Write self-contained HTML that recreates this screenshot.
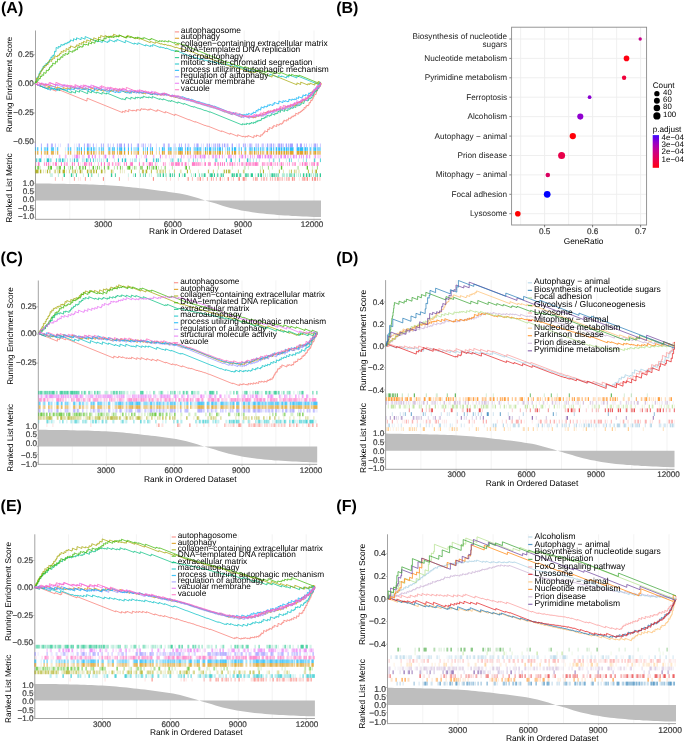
<!DOCTYPE html>
<html><head><meta charset="utf-8"><style>
html,body{margin:0;padding:0;background:#fff;}
.t{stroke:#444;stroke-width:0.22px;}
svg{display:block;will-change:transform;text-rendering:geometricPrecision;font-family:"Liberation Sans", sans-serif;}
</style></head><body>
<svg width="685" height="742" viewBox="0 0 685 742">
<rect width="685" height="742" fill="#fff"/>
<line x1="69.8" y1="30.5" x2="69.8" y2="219.3" stroke="#EBEBEB" stroke-width="0.6"/>
<line x1="104.7" y1="30.5" x2="104.7" y2="219.3" stroke="#EBEBEB" stroke-width="0.6"/>
<line x1="139.6" y1="30.5" x2="139.6" y2="219.3" stroke="#EBEBEB" stroke-width="0.6"/>
<line x1="174.4" y1="30.5" x2="174.4" y2="219.3" stroke="#EBEBEB" stroke-width="0.6"/>
<line x1="209.3" y1="30.5" x2="209.3" y2="219.3" stroke="#EBEBEB" stroke-width="0.6"/>
<line x1="244.2" y1="30.5" x2="244.2" y2="219.3" stroke="#EBEBEB" stroke-width="0.6"/>
<line x1="279.1" y1="30.5" x2="279.1" y2="219.3" stroke="#EBEBEB" stroke-width="0.6"/>
<line x1="314" y1="30.5" x2="314" y2="219.3" stroke="#EBEBEB" stroke-width="0.6"/>
<polygon points="34.9,200.6 34.9,183.4 38.5,183.5 42.1,183.5 45.8,183.6 49.4,183.6 53,183.7 56.6,183.7 60.2,183.8 63.9,183.8 67.5,183.9 71.1,184 74.7,184.1 78.4,184.1 82,184.2 85.6,184.3 89.2,184.5 92.8,184.6 96.5,184.7 100.1,184.9 103.7,185 107.3,185.2 110.9,185.4 114.6,185.7 118.2,186 121.8,186.3 125.4,186.7 129,187 132.7,187.4 136.3,187.8 139.9,188.2 143.5,188.6 147.2,189.1 150.8,189.5 154.4,189.9 158,190.4 161.6,190.9 165.3,191.3 168.9,191.9 172.5,192.4 176.1,192.9 179.7,193.5 183.4,194.2 187,195.1 190.6,196 194.2,197.1 197.8,198.1 201.5,199.3 205.1,200.4 208.7,201.5 212.3,202.5 216,203.6 219.6,204.7 223.2,205.9 226.8,207 230.4,208 234.1,208.8 237.7,209.6 241.3,210.4 244.9,211 248.5,211.6 252.2,212.2 255.8,212.7 259.4,213.2 263,213.6 266.6,214 270.3,214.3 273.9,214.6 277.5,214.9 281.1,215.2 284.8,215.4 288.4,215.6 292,215.9 295.6,216.1 299.2,216.2 302.9,216.4 306.5,216.6 310.1,216.7 313.7,216.9 317.3,217 321,217.1 321,200.6" fill="#BEBEBE"/>
<line x1="35.5" y1="30.5" x2="35.5" y2="219.8" stroke="#A3A3A3" stroke-width="1"/>
<line x1="35" y1="219.3" x2="321" y2="219.3" stroke="#A3A3A3" stroke-width="1"/>
<line x1="33.9" y1="54.7" x2="35.5" y2="54.7" stroke="#A3A3A3" stroke-width="0.7"/>
<text x="33.8" y="56.9" font-size="8.1" text-anchor="end" fill="#3A3A3A" class="t">0.25</text>
<line x1="33.9" y1="83.8" x2="35.5" y2="83.8" stroke="#A3A3A3" stroke-width="0.7"/>
<text x="33.8" y="86" font-size="8.1" text-anchor="end" fill="#3A3A3A" class="t">0.00</text>
<line x1="33.9" y1="113" x2="35.5" y2="113" stroke="#A3A3A3" stroke-width="0.7"/>
<text x="33.8" y="115.2" font-size="8.1" text-anchor="end" fill="#3A3A3A" class="t">−0.25</text>
<line x1="33.9" y1="142.1" x2="35.5" y2="142.1" stroke="#A3A3A3" stroke-width="0.7"/>
<text x="33.8" y="144.3" font-size="8.1" text-anchor="end" fill="#3A3A3A" class="t">−0.50</text>
<line x1="33.9" y1="183.3" x2="35.5" y2="183.3" stroke="#A3A3A3" stroke-width="0.7"/>
<text x="34.1" y="186" font-size="8.1" text-anchor="end" fill="#3A3A3A" class="t">1.0</text>
<line x1="33.9" y1="191.8" x2="35.5" y2="191.8" stroke="#A3A3A3" stroke-width="0.7"/>
<text x="34.1" y="194.1" font-size="8.1" text-anchor="end" fill="#3A3A3A" class="t">0.5</text>
<line x1="33.9" y1="200.3" x2="35.5" y2="200.3" stroke="#A3A3A3" stroke-width="0.7"/>
<text x="34.1" y="202.3" font-size="8.1" text-anchor="end" fill="#3A3A3A" class="t">0.0</text>
<line x1="33.9" y1="208.8" x2="35.5" y2="208.8" stroke="#A3A3A3" stroke-width="0.7"/>
<text x="34.1" y="210.8" font-size="8.1" text-anchor="end" fill="#3A3A3A" class="t">−0.5</text>
<line x1="33.9" y1="217.3" x2="35.5" y2="217.3" stroke="#A3A3A3" stroke-width="0.7"/>
<text x="34.1" y="219.4" font-size="8.1" text-anchor="end" fill="#3A3A3A" class="t">−1.0</text>
<line x1="104.7" y1="219.3" x2="104.7" y2="220.9" stroke="#A3A3A3" stroke-width="0.7"/>
<text x="103.3" y="227.2" font-size="8.1" text-anchor="middle" fill="#3A3A3A" class="t">3000</text>
<line x1="174.4" y1="219.3" x2="174.4" y2="220.9" stroke="#A3A3A3" stroke-width="0.7"/>
<text x="172.7" y="227.2" font-size="8.1" text-anchor="middle" fill="#3A3A3A" class="t">6000</text>
<line x1="244.2" y1="219.3" x2="244.2" y2="220.9" stroke="#A3A3A3" stroke-width="0.7"/>
<text x="243" y="227.2" font-size="8.1" text-anchor="middle" fill="#3A3A3A" class="t">9000</text>
<line x1="314" y1="219.3" x2="314" y2="220.9" stroke="#A3A3A3" stroke-width="0.7"/>
<text x="311.9" y="227.2" font-size="8.1" text-anchor="middle" fill="#3A3A3A" class="t">12000</text>
<text x="195.4" y="234.1" font-size="8.4" text-anchor="middle">Rank in Ordered Dataset</text>
<text x="12" y="84.5" font-size="8.0" text-anchor="middle" transform="rotate(-90 12 84.5)">Running Enrichment Score</text>
<text x="12" y="188" font-size="8.42" text-anchor="middle" transform="rotate(-90 12 188)">Ranked List Metric</text>
<text x="1" y="12.6" font-size="16" font-weight="bold">(A)</text>
<path d="M48.4 147.2v3.7M58.4 147.2v3.7M65.4 147.2v3.7M67.4 147.2v3.7M71.4 147.2v3.7M74.4 147.2v3.7M76.4 147.2v3.7M95.4 147.2v3.7M98.4 147.2v3.7M122.4 147.2v3.7M125.4 147.2v3.7M133.4 147.2v3.7M151.4 147.2v3.7M173.4 147.2v3.7M174.4 147.2v3.7M193.4 147.2v3.7M206.4 147.2v3.7M212.4 147.2v3.7M231.4 147.2v3.7M236.4 147.2v3.7M246.4 147.2v3.7M257.4 147.2v3.7M261.4 147.2v3.7M264.4 147.2v3.7M268.4 147.2v3.7M274.4 147.2v3.7M275.4 147.2v3.7M277.4 147.2v3.7M285.4 147.2v3.7M289.4 147.2v3.7M303.4 147.2v3.7M316.4 147.2v3.7" stroke="#00B0F6" stroke-opacity="0.2" stroke-width="1"/>
<path d="M38.4 147.2v3.7M46.4 147.2v3.7M55.4 147.2v3.7M78.4 147.2v3.7M89.4 147.2v3.7M90.4 147.2v3.7M96.4 147.2v3.7M102.4 147.2v3.7M110.4 147.2v3.7M134.4 147.2v3.7M135.4 147.2v3.7M136.4 147.2v3.7M156.4 147.2v3.7M175.4 147.2v3.7M176.4 147.2v3.7M189.4 147.2v3.7M201.4 147.2v3.7M203.4 147.2v3.7M211.4 147.2v3.7M214.4 147.2v3.7M218.4 147.2v3.7M225.4 147.2v3.7M228.4 147.2v3.7M238.4 147.2v3.7M244.4 147.2v3.7M255.4 147.2v3.7M269.4 147.2v3.7M280.4 147.2v3.7M282.4 147.2v3.7M296.4 147.2v3.7M309.4 147.2v3.7M311.4 147.2v3.7" stroke="#00B0F6" stroke-opacity="0.3" stroke-width="1"/>
<path d="M35.4 147.2v3.7M44.4 147.2v3.7M45.4 147.2v3.7M94.4 147.2v3.7M99.4 147.2v3.7M108.4 147.2v3.7M113.4 147.2v3.7M137.4 147.2v3.7M145.4 147.2v3.7M159.4 147.2v3.7M163.4 147.2v3.7M169.4 147.2v3.7M171.4 147.2v3.7M188.4 147.2v3.7M194.4 147.2v3.7M195.4 147.2v3.7M196.4 147.2v3.7M198.4 147.2v3.7M199.4 147.2v3.7M213.4 147.2v3.7M239.4 147.2v3.7M249.4 147.2v3.7M251.4 147.2v3.7M252.4 147.2v3.7M256.4 147.2v3.7M262.4 147.2v3.7M263.4 147.2v3.7M266.4 147.2v3.7M270.4 147.2v3.7M283.4 147.2v3.7M287.4 147.2v3.7M293.4 147.2v3.7M299.4 147.2v3.7M304.4 147.2v3.7M306.4 147.2v3.7M313.4 147.2v3.7M317.4 147.2v3.7M318.4 147.2v3.7M319.4 147.2v3.7M320.4 147.2v3.7" stroke="#00B0F6" stroke-opacity="0.5" stroke-width="1"/>
<path d="M37.4 147.2v3.7M41.4 147.2v3.7M51.4 147.2v3.7M52.4 147.2v3.7M53.4 147.2v3.7M57.4 147.2v3.7M68.4 147.2v3.7M70.4 147.2v3.7M77.4 147.2v3.7M79.4 147.2v3.7M84.4 147.2v3.7M88.4 147.2v3.7M93.4 147.2v3.7M101.4 147.2v3.7M103.4 147.2v3.7M109.4 147.2v3.7M112.4 147.2v3.7M114.4 147.2v3.7M117.4 147.2v3.7M119.4 147.2v3.7M120.4 147.2v3.7M131.4 147.2v3.7M143.4 147.2v3.7M150.4 147.2v3.7M164.4 147.2v3.7M168.4 147.2v3.7M170.4 147.2v3.7M178.4 147.2v3.7M179.4 147.2v3.7M181.4 147.2v3.7M182.4 147.2v3.7M185.4 147.2v3.7M190.4 147.2v3.7M200.4 147.2v3.7M207.4 147.2v3.7M215.4 147.2v3.7M217.4 147.2v3.7M222.4 147.2v3.7M227.4 147.2v3.7M229.4 147.2v3.7M241.4 147.2v3.7M245.4 147.2v3.7M250.4 147.2v3.7M258.4 147.2v3.7M260.4 147.2v3.7M273.4 147.2v3.7M278.4 147.2v3.7M288.4 147.2v3.7M307.4 147.2v3.7M310.4 147.2v3.7M314.4 147.2v3.7" stroke="#00B0F6" stroke-opacity="0.7" stroke-width="1"/>
<path d="M47.4 147.2v3.7M81.4 147.2v3.7M87.4 147.2v3.7M91.4 147.2v3.7M121.4 147.2v3.7M124.4 147.2v3.7M128.4 147.2v3.7M138.4 147.2v3.7M147.4 147.2v3.7M152.4 147.2v3.7M162.4 147.2v3.7M180.4 147.2v3.7M187.4 147.2v3.7M197.4 147.2v3.7M205.4 147.2v3.7M209.4 147.2v3.7M210.4 147.2v3.7M219.4 147.2v3.7M220.4 147.2v3.7M232.4 147.2v3.7M234.4 147.2v3.7M235.4 147.2v3.7M254.4 147.2v3.7M267.4 147.2v3.7M271.4 147.2v3.7M276.4 147.2v3.7M279.4 147.2v3.7M281.4 147.2v3.7M284.4 147.2v3.7M286.4 147.2v3.7M290.4 147.2v3.7M291.4 147.2v3.7M292.4 147.2v3.7M297.4 147.2v3.7M298.4 147.2v3.7M300.4 147.2v3.7M301.4 147.2v3.7M302.4 147.2v3.7M305.4 147.2v3.7M315.4 147.2v3.7" stroke="#00B0F6" stroke-opacity="0.9" stroke-width="1"/>
<path d="M46.4 154.7v3.7M48.4 154.7v3.7M49.4 154.7v3.7M52.4 154.7v3.7M60.4 154.7v3.7M72.4 154.7v3.7M84.4 154.7v3.7M103.4 154.7v3.7M112.4 154.7v3.7M114.4 154.7v3.7M120.4 154.7v3.7M123.4 154.7v3.7M125.4 154.7v3.7M141.4 154.7v3.7M154.4 154.7v3.7M162.4 154.7v3.7M171.4 154.7v3.7M175.4 154.7v3.7M184.4 154.7v3.7M187.4 154.7v3.7M188.4 154.7v3.7M191.4 154.7v3.7M196.4 154.7v3.7M197.4 154.7v3.7M198.4 154.7v3.7M199.4 154.7v3.7M209.4 154.7v3.7M224.4 154.7v3.7M240.4 154.7v3.7M243.4 154.7v3.7M248.4 154.7v3.7M266.4 154.7v3.7M272.4 154.7v3.7M291.4 154.7v3.7M295.4 154.7v3.7M310.4 154.7v3.7M317.4 154.7v3.7M319.4 154.7v3.7" stroke="#E76BF3" stroke-opacity="0.2" stroke-width="1"/>
<path d="M66.4 154.7v3.7M75.4 154.7v3.7M78.4 154.7v3.7M82.4 154.7v3.7M83.4 154.7v3.7M94.4 154.7v3.7M104.4 154.7v3.7M106.4 154.7v3.7M109.4 154.7v3.7M118.4 154.7v3.7M144.4 154.7v3.7M145.4 154.7v3.7M165.4 154.7v3.7M166.4 154.7v3.7M169.4 154.7v3.7M173.4 154.7v3.7M183.4 154.7v3.7M201.4 154.7v3.7M208.4 154.7v3.7M217.4 154.7v3.7M233.4 154.7v3.7M247.4 154.7v3.7M264.4 154.7v3.7M269.4 154.7v3.7M274.4 154.7v3.7M275.4 154.7v3.7M276.4 154.7v3.7M283.4 154.7v3.7M314.4 154.7v3.7M318.4 154.7v3.7M320.4 154.7v3.7" stroke="#E76BF3" stroke-opacity="0.3" stroke-width="1"/>
<path d="M41.4 154.7v3.7M59.4 154.7v3.7M65.4 154.7v3.7M74.4 154.7v3.7M79.4 154.7v3.7M99.4 154.7v3.7M153.4 154.7v3.7M190.4 154.7v3.7M193.4 154.7v3.7M202.4 154.7v3.7M203.4 154.7v3.7M205.4 154.7v3.7M212.4 154.7v3.7M216.4 154.7v3.7M230.4 154.7v3.7M231.4 154.7v3.7M235.4 154.7v3.7M239.4 154.7v3.7M241.4 154.7v3.7M252.4 154.7v3.7M254.4 154.7v3.7M267.4 154.7v3.7M278.4 154.7v3.7M280.4 154.7v3.7M287.4 154.7v3.7M288.4 154.7v3.7M290.4 154.7v3.7M294.4 154.7v3.7M307.4 154.7v3.7" stroke="#E76BF3" stroke-opacity="0.5" stroke-width="1"/>
<path d="M89.4 154.7v3.7M95.4 154.7v3.7M113.4 154.7v3.7M146.4 154.7v3.7M181.4 154.7v3.7M213.4 154.7v3.7M215.4 154.7v3.7M222.4 154.7v3.7M228.4 154.7v3.7M229.4 154.7v3.7M250.4 154.7v3.7M257.4 154.7v3.7M258.4 154.7v3.7M262.4 154.7v3.7M271.4 154.7v3.7M284.4 154.7v3.7M296.4 154.7v3.7M299.4 154.7v3.7M301.4 154.7v3.7M303.4 154.7v3.7M306.4 154.7v3.7M309.4 154.7v3.7M315.4 154.7v3.7" stroke="#E76BF3" stroke-opacity="0.7" stroke-width="1"/>
<path d="M76.4 154.7v3.7M77.4 154.7v3.7M88.4 154.7v3.7M92.4 154.7v3.7M105.4 154.7v3.7M136.4 154.7v3.7M160.4 154.7v3.7M195.4 154.7v3.7M200.4 154.7v3.7M204.4 154.7v3.7M219.4 154.7v3.7M242.4 154.7v3.7M245.4 154.7v3.7M259.4 154.7v3.7M260.4 154.7v3.7M265.4 154.7v3.7M268.4 154.7v3.7M270.4 154.7v3.7M281.4 154.7v3.7M285.4 154.7v3.7M293.4 154.7v3.7" stroke="#E76BF3" stroke-opacity="0.9" stroke-width="1"/>
<path d="M37.4 158.4v3.7M38.4 158.4v3.7M44.4 158.4v3.7M46.4 158.4v3.7M49.4 158.4v3.7M65.4 158.4v3.7M78.4 158.4v3.7M83.4 158.4v3.7M84.4 158.4v3.7M103.4 158.4v3.7M114.4 158.4v3.7M126.4 158.4v3.7M130.4 158.4v3.7M139.4 158.4v3.7M147.4 158.4v3.7M154.4 158.4v3.7M160.4 158.4v3.7M170.4 158.4v3.7M171.4 158.4v3.7M177.4 158.4v3.7M188.4 158.4v3.7M189.4 158.4v3.7M195.4 158.4v3.7M201.4 158.4v3.7M204.4 158.4v3.7M217.4 158.4v3.7M235.4 158.4v3.7M249.4 158.4v3.7M259.4 158.4v3.7M274.4 158.4v3.7M286.4 158.4v3.7M298.4 158.4v3.7M315.4 158.4v3.7" stroke="#00BFC4" stroke-opacity="0.2" stroke-width="1"/>
<path d="M41.4 158.4v3.7M51.4 158.4v3.7M58.4 158.4v3.7M64.4 158.4v3.7M67.4 158.4v3.7M70.4 158.4v3.7M72.4 158.4v3.7M82.4 158.4v3.7M88.4 158.4v3.7M95.4 158.4v3.7M97.4 158.4v3.7M99.4 158.4v3.7M101.4 158.4v3.7M106.4 158.4v3.7M124.4 158.4v3.7M132.4 158.4v3.7M134.4 158.4v3.7M135.4 158.4v3.7M136.4 158.4v3.7M157.4 158.4v3.7M173.4 158.4v3.7M181.4 158.4v3.7M197.4 158.4v3.7M248.4 158.4v3.7M250.4 158.4v3.7M253.4 158.4v3.7M256.4 158.4v3.7M269.4 158.4v3.7M303.4 158.4v3.7" stroke="#00BFC4" stroke-opacity="0.3" stroke-width="1"/>
<path d="M50.4 158.4v3.7M59.4 158.4v3.7M63.4 158.4v3.7M76.4 158.4v3.7M87.4 158.4v3.7M172.4 158.4v3.7M180.4 158.4v3.7M193.4 158.4v3.7M215.4 158.4v3.7M216.4 158.4v3.7M230.4 158.4v3.7M273.4 158.4v3.7M279.4 158.4v3.7M291.4 158.4v3.7M306.4 158.4v3.7" stroke="#00BFC4" stroke-opacity="0.5" stroke-width="1"/>
<path d="M36.4 158.4v3.7M39.4 158.4v3.7M56.4 158.4v3.7M60.4 158.4v3.7M77.4 158.4v3.7M90.4 158.4v3.7M93.4 158.4v3.7M153.4 158.4v3.7M158.4 158.4v3.7M178.4 158.4v3.7M226.4 158.4v3.7M239.4 158.4v3.7M289.4 158.4v3.7M314.4 158.4v3.7M320.4 158.4v3.7" stroke="#00BFC4" stroke-opacity="0.7" stroke-width="1"/>
<path d="M40.4 158.4v3.7M47.4 158.4v3.7M48.4 158.4v3.7M62.4 158.4v3.7M74.4 158.4v3.7M86.4 158.4v3.7M107.4 158.4v3.7M118.4 158.4v3.7M122.4 158.4v3.7M125.4 158.4v3.7M146.4 158.4v3.7M156.4 158.4v3.7M231.4 158.4v3.7M247.4 158.4v3.7" stroke="#00BFC4" stroke-opacity="0.9" stroke-width="1"/>
<path d="M35.4 162.2v3.7M36.4 162.2v3.7M49.4 162.2v3.7M50.4 162.2v3.7M52.4 162.2v3.7M58.4 162.2v3.7M65.4 162.2v3.7M80.4 162.2v3.7M82.4 162.2v3.7M87.4 162.2v3.7M88.4 162.2v3.7M90.4 162.2v3.7M94.4 162.2v3.7M120.4 162.2v3.7M142.4 162.2v3.7M144.4 162.2v3.7M146.4 162.2v3.7M147.4 162.2v3.7M148.4 162.2v3.7M156.4 162.2v3.7M157.4 162.2v3.7M164.4 162.2v3.7M169.4 162.2v3.7M184.4 162.2v3.7M201.4 162.2v3.7M202.4 162.2v3.7M233.4 162.2v3.7M235.4 162.2v3.7M244.4 162.2v3.7M265.4 162.2v3.7M266.4 162.2v3.7M272.4 162.2v3.7M274.4 162.2v3.7M285.4 162.2v3.7M299.4 162.2v3.7M303.4 162.2v3.7" stroke="#FF62BC" stroke-opacity="0.2" stroke-width="1"/>
<path d="M107.4 162.2v3.7M113.4 162.2v3.7M116.4 162.2v3.7M117.4 162.2v3.7M119.4 162.2v3.7M188.4 162.2v3.7M231.4 162.2v3.7M243.4 162.2v3.7M245.4 162.2v3.7M251.4 162.2v3.7M258.4 162.2v3.7M268.4 162.2v3.7M269.4 162.2v3.7M273.4 162.2v3.7M279.4 162.2v3.7M280.4 162.2v3.7M282.4 162.2v3.7M293.4 162.2v3.7M300.4 162.2v3.7M309.4 162.2v3.7M316.4 162.2v3.7" stroke="#FF62BC" stroke-opacity="0.3" stroke-width="1"/>
<path d="M39.4 162.2v3.7M53.4 162.2v3.7M66.4 162.2v3.7M67.4 162.2v3.7M98.4 162.2v3.7M108.4 162.2v3.7M115.4 162.2v3.7M151.4 162.2v3.7M155.4 162.2v3.7M165.4 162.2v3.7M181.4 162.2v3.7M186.4 162.2v3.7M195.4 162.2v3.7M197.4 162.2v3.7M199.4 162.2v3.7M200.4 162.2v3.7M204.4 162.2v3.7M214.4 162.2v3.7M217.4 162.2v3.7M227.4 162.2v3.7M229.4 162.2v3.7M234.4 162.2v3.7M237.4 162.2v3.7M239.4 162.2v3.7M241.4 162.2v3.7M247.4 162.2v3.7M248.4 162.2v3.7M252.4 162.2v3.7M254.4 162.2v3.7M263.4 162.2v3.7M264.4 162.2v3.7M267.4 162.2v3.7M275.4 162.2v3.7M283.4 162.2v3.7M287.4 162.2v3.7M292.4 162.2v3.7M294.4 162.2v3.7M304.4 162.2v3.7M307.4 162.2v3.7M311.4 162.2v3.7M312.4 162.2v3.7M313.4 162.2v3.7M318.4 162.2v3.7" stroke="#FF62BC" stroke-opacity="0.5" stroke-width="1"/>
<path d="M44.4 162.2v3.7M64.4 162.2v3.7M74.4 162.2v3.7M85.4 162.2v3.7M86.4 162.2v3.7M89.4 162.2v3.7M109.4 162.2v3.7M112.4 162.2v3.7M118.4 162.2v3.7M124.4 162.2v3.7M130.4 162.2v3.7M143.4 162.2v3.7M152.4 162.2v3.7M163.4 162.2v3.7M171.4 162.2v3.7M172.4 162.2v3.7M173.4 162.2v3.7M175.4 162.2v3.7M177.4 162.2v3.7M179.4 162.2v3.7M182.4 162.2v3.7M196.4 162.2v3.7M198.4 162.2v3.7M208.4 162.2v3.7M209.4 162.2v3.7M210.4 162.2v3.7M218.4 162.2v3.7M230.4 162.2v3.7M242.4 162.2v3.7M249.4 162.2v3.7M250.4 162.2v3.7M253.4 162.2v3.7M257.4 162.2v3.7M262.4 162.2v3.7M270.4 162.2v3.7M277.4 162.2v3.7M289.4 162.2v3.7M295.4 162.2v3.7M306.4 162.2v3.7" stroke="#FF62BC" stroke-opacity="0.7" stroke-width="1"/>
<path d="M38.4 162.2v3.7M46.4 162.2v3.7M48.4 162.2v3.7M55.4 162.2v3.7M56.4 162.2v3.7M61.4 162.2v3.7M72.4 162.2v3.7M78.4 162.2v3.7M84.4 162.2v3.7M91.4 162.2v3.7M101.4 162.2v3.7M104.4 162.2v3.7M126.4 162.2v3.7M131.4 162.2v3.7M132.4 162.2v3.7M139.4 162.2v3.7M149.4 162.2v3.7M150.4 162.2v3.7M176.4 162.2v3.7M178.4 162.2v3.7M185.4 162.2v3.7M192.4 162.2v3.7M193.4 162.2v3.7M194.4 162.2v3.7M205.4 162.2v3.7M215.4 162.2v3.7M220.4 162.2v3.7M222.4 162.2v3.7M224.4 162.2v3.7M232.4 162.2v3.7M246.4 162.2v3.7M255.4 162.2v3.7M256.4 162.2v3.7M271.4 162.2v3.7M281.4 162.2v3.7M302.4 162.2v3.7M305.4 162.2v3.7M314.4 162.2v3.7M317.4 162.2v3.7" stroke="#FF62BC" stroke-opacity="0.9" stroke-width="1"/>
<path d="M39.4 165.9v3.7M40.4 165.9v3.7M49.4 165.9v3.7M56.4 165.9v3.7M58.4 165.9v3.7M68.4 165.9v3.7M76.4 165.9v3.7M89.4 165.9v3.7M101.4 165.9v3.7M109.4 165.9v3.7M132.4 165.9v3.7M135.4 165.9v3.7M136.4 165.9v3.7M154.4 165.9v3.7M161.4 165.9v3.7M164.4 165.9v3.7M232.4 165.9v3.7M244.4 165.9v3.7M245.4 165.9v3.7M248.4 165.9v3.7M260.4 165.9v3.7M272.4 165.9v3.7M282.4 165.9v3.7M297.4 165.9v3.7M306.4 165.9v3.7M312.4 165.9v3.7" stroke="#39B600" stroke-opacity="0.2" stroke-width="1"/>
<path d="M57.4 165.9v3.7M92.4 165.9v3.7M95.4 165.9v3.7M107.4 165.9v3.7M114.4 165.9v3.7M122.4 165.9v3.7M130.4 165.9v3.7M151.4 165.9v3.7M152.4 165.9v3.7M155.4 165.9v3.7M158.4 165.9v3.7M172.4 165.9v3.7M218.4 165.9v3.7M262.4 165.9v3.7M298.4 165.9v3.7" stroke="#39B600" stroke-opacity="0.3" stroke-width="1"/>
<path d="M35.4 165.9v3.7M37.4 165.9v3.7M70.4 165.9v3.7M80.4 165.9v3.7M82.4 165.9v3.7M83.4 165.9v3.7M99.4 165.9v3.7M117.4 165.9v3.7M127.4 165.9v3.7M134.4 165.9v3.7M140.4 165.9v3.7M141.4 165.9v3.7M142.4 165.9v3.7M149.4 165.9v3.7M165.4 165.9v3.7M185.4 165.9v3.7M189.4 165.9v3.7M268.4 165.9v3.7M317.4 165.9v3.7" stroke="#39B600" stroke-opacity="0.5" stroke-width="1"/>
<path d="M38.4 165.9v3.7M48.4 165.9v3.7M50.4 165.9v3.7M59.4 165.9v3.7M60.4 165.9v3.7M72.4 165.9v3.7M79.4 165.9v3.7M97.4 165.9v3.7M104.4 165.9v3.7M108.4 165.9v3.7M120.4 165.9v3.7M128.4 165.9v3.7M153.4 165.9v3.7" stroke="#39B600" stroke-opacity="0.7" stroke-width="1"/>
<path d="M51.4 165.9v3.7M64.4 165.9v3.7M85.4 165.9v3.7M93.4 165.9v3.7M129.4 165.9v3.7M147.4 165.9v3.7M156.4 165.9v3.7M186.4 165.9v3.7M281.4 165.9v3.7M307.4 165.9v3.7" stroke="#39B600" stroke-opacity="0.9" stroke-width="1"/>
<path d="M45.4 169.6v3.7M58.4 169.6v3.7M66.4 169.6v3.7M79.4 169.6v3.7M89.4 169.6v3.7M105.4 169.6v3.7M113.4 169.6v3.7M122.4 169.6v3.7M124.4 169.6v3.7M139.4 169.6v3.7M147.4 169.6v3.7M156.4 169.6v3.7M161.4 169.6v3.7M169.4 169.6v3.7M181.4 169.6v3.7M198.4 169.6v3.7M217.4 169.6v3.7M223.4 169.6v3.7M269.4 169.6v3.7M295.4 169.6v3.7M298.4 169.6v3.7M299.4 169.6v3.7" stroke="#A3A500" stroke-opacity="0.2" stroke-width="1"/>
<path d="M41.4 169.6v3.7M43.4 169.6v3.7M50.4 169.6v3.7M54.4 169.6v3.7M57.4 169.6v3.7M60.4 169.6v3.7M62.4 169.6v3.7M73.4 169.6v3.7M74.4 169.6v3.7M77.4 169.6v3.7M81.4 169.6v3.7M82.4 169.6v3.7M88.4 169.6v3.7M104.4 169.6v3.7M112.4 169.6v3.7M120.4 169.6v3.7M145.4 169.6v3.7M159.4 169.6v3.7M162.4 169.6v3.7M180.4 169.6v3.7M190.4 169.6v3.7M230.4 169.6v3.7M244.4 169.6v3.7M283.4 169.6v3.7M289.4 169.6v3.7M296.4 169.6v3.7" stroke="#A3A500" stroke-opacity="0.3" stroke-width="1"/>
<path d="M35.4 169.6v3.7M38.4 169.6v3.7M49.4 169.6v3.7M55.4 169.6v3.7M69.4 169.6v3.7M72.4 169.6v3.7M90.4 169.6v3.7M94.4 169.6v3.7M102.4 169.6v3.7M157.4 169.6v3.7M160.4 169.6v3.7M163.4 169.6v3.7M165.4 169.6v3.7M174.4 169.6v3.7M213.4 169.6v3.7M238.4 169.6v3.7M243.4 169.6v3.7M260.4 169.6v3.7M294.4 169.6v3.7M312.4 169.6v3.7M315.4 169.6v3.7" stroke="#A3A500" stroke-opacity="0.5" stroke-width="1"/>
<path d="M75.4 169.6v3.7M91.4 169.6v3.7M93.4 169.6v3.7M111.4 169.6v3.7M142.4 169.6v3.7M143.4 169.6v3.7M151.4 169.6v3.7M208.4 169.6v3.7M224.4 169.6v3.7M228.4 169.6v3.7M229.4 169.6v3.7M279.4 169.6v3.7M291.4 169.6v3.7M308.4 169.6v3.7" stroke="#A3A500" stroke-opacity="0.7" stroke-width="1"/>
<path d="M36.4 169.6v3.7M37.4 169.6v3.7M40.4 169.6v3.7M47.4 169.6v3.7M59.4 169.6v3.7M63.4 169.6v3.7M64.4 169.6v3.7M80.4 169.6v3.7M87.4 169.6v3.7M96.4 169.6v3.7M101.4 169.6v3.7M131.4 169.6v3.7M146.4 169.6v3.7M187.4 169.6v3.7M226.4 169.6v3.7M263.4 169.6v3.7M316.4 169.6v3.7" stroke="#A3A500" stroke-opacity="0.9" stroke-width="1"/>
<path d="M50.4 173.3v3.7M51.4 173.3v3.7M52.4 173.3v3.7M72.4 173.3v3.7M73.4 173.3v3.7M83.4 173.3v3.7M92.4 173.3v3.7M112.4 173.3v3.7M128.4 173.3v3.7M149.4 173.3v3.7M151.4 173.3v3.7M159.4 173.3v3.7M162.4 173.3v3.7M193.4 173.3v3.7M203.4 173.3v3.7M209.4 173.3v3.7M241.4 173.3v3.7M250.4 173.3v3.7M255.4 173.3v3.7M257.4 173.3v3.7M267.4 173.3v3.7M269.4 173.3v3.7M270.4 173.3v3.7M292.4 173.3v3.7M293.4 173.3v3.7M296.4 173.3v3.7M308.4 173.3v3.7M310.4 173.3v3.7M319.4 173.3v3.7" stroke="#00BF7D" stroke-opacity="0.2" stroke-width="1"/>
<path d="M58.4 173.3v3.7M63.4 173.3v3.7M98.4 173.3v3.7M133.4 173.3v3.7M157.4 173.3v3.7M158.4 173.3v3.7M165.4 173.3v3.7M166.4 173.3v3.7M169.4 173.3v3.7M182.4 173.3v3.7M191.4 173.3v3.7M201.4 173.3v3.7M202.4 173.3v3.7M218.4 173.3v3.7M220.4 173.3v3.7M222.4 173.3v3.7M231.4 173.3v3.7M263.4 173.3v3.7M265.4 173.3v3.7M275.4 173.3v3.7M277.4 173.3v3.7M282.4 173.3v3.7M283.4 173.3v3.7M284.4 173.3v3.7M286.4 173.3v3.7M287.4 173.3v3.7M298.4 173.3v3.7M304.4 173.3v3.7M307.4 173.3v3.7M311.4 173.3v3.7M313.4 173.3v3.7M316.4 173.3v3.7" stroke="#00BF7D" stroke-opacity="0.3" stroke-width="1"/>
<path d="M91.4 173.3v3.7M140.4 173.3v3.7M143.4 173.3v3.7M185.4 173.3v3.7M199.4 173.3v3.7M205.4 173.3v3.7M233.4 173.3v3.7M239.4 173.3v3.7M247.4 173.3v3.7M248.4 173.3v3.7M271.4 173.3v3.7M273.4 173.3v3.7M276.4 173.3v3.7M278.4 173.3v3.7M289.4 173.3v3.7M290.4 173.3v3.7M291.4 173.3v3.7M300.4 173.3v3.7M315.4 173.3v3.7" stroke="#00BF7D" stroke-opacity="0.5" stroke-width="1"/>
<path d="M76.4 173.3v3.7M115.4 173.3v3.7M145.4 173.3v3.7M160.4 173.3v3.7M172.4 173.3v3.7M174.4 173.3v3.7M210.4 173.3v3.7M212.4 173.3v3.7M217.4 173.3v3.7M221.4 173.3v3.7M223.4 173.3v3.7M234.4 173.3v3.7M237.4 173.3v3.7M240.4 173.3v3.7M245.4 173.3v3.7M246.4 173.3v3.7M260.4 173.3v3.7M274.4 173.3v3.7M294.4 173.3v3.7M317.4 173.3v3.7" stroke="#00BF7D" stroke-opacity="0.7" stroke-width="1"/>
<path d="M64.4 173.3v3.7M71.4 173.3v3.7M88.4 173.3v3.7M111.4 173.3v3.7M135.4 173.3v3.7M163.4 173.3v3.7M170.4 173.3v3.7M179.4 173.3v3.7M184.4 173.3v3.7M195.4 173.3v3.7M204.4 173.3v3.7M211.4 173.3v3.7M214.4 173.3v3.7M232.4 173.3v3.7M236.4 173.3v3.7M251.4 173.3v3.7M252.4 173.3v3.7M258.4 173.3v3.7M261.4 173.3v3.7M272.4 173.3v3.7M303.4 173.3v3.7M306.4 173.3v3.7M309.4 173.3v3.7M320.4 173.3v3.7" stroke="#00BF7D" stroke-opacity="0.9" stroke-width="1"/>
<path d="M78.4 177.1v3.7M80.4 177.1v3.7M90.4 177.1v3.7M128.4 177.1v3.7M178.4 177.1v3.7M202.4 177.1v3.7M203.4 177.1v3.7M219.4 177.1v3.7M222.4 177.1v3.7M224.4 177.1v3.7M231.4 177.1v3.7M242.4 177.1v3.7M267.4 177.1v3.7M274.4 177.1v3.7M281.4 177.1v3.7M287.4 177.1v3.7M299.4 177.1v3.7M309.4 177.1v3.7M320.4 177.1v3.7" stroke="#F8766D" stroke-opacity="0.2" stroke-width="1"/>
<path d="M62.4 177.1v3.7M166.4 177.1v3.7M170.4 177.1v3.7M187.4 177.1v3.7M197.4 177.1v3.7M198.4 177.1v3.7M199.4 177.1v3.7M227.4 177.1v3.7M245.4 177.1v3.7M246.4 177.1v3.7M279.4 177.1v3.7M280.4 177.1v3.7M284.4 177.1v3.7M293.4 177.1v3.7M305.4 177.1v3.7M306.4 177.1v3.7M319.4 177.1v3.7" stroke="#F8766D" stroke-opacity="0.3" stroke-width="1"/>
<path d="M55.4 177.1v3.7M192.4 177.1v3.7M213.4 177.1v3.7M216.4 177.1v3.7M233.4 177.1v3.7M238.4 177.1v3.7M253.4 177.1v3.7M256.4 177.1v3.7M257.4 177.1v3.7M261.4 177.1v3.7M263.4 177.1v3.7M264.4 177.1v3.7M266.4 177.1v3.7M270.4 177.1v3.7M272.4 177.1v3.7M275.4 177.1v3.7M278.4 177.1v3.7M282.4 177.1v3.7M286.4 177.1v3.7M288.4 177.1v3.7M289.4 177.1v3.7M302.4 177.1v3.7M303.4 177.1v3.7" stroke="#F8766D" stroke-opacity="0.5" stroke-width="1"/>
<path d="M74.4 177.1v3.7M85.4 177.1v3.7M119.4 177.1v3.7M188.4 177.1v3.7M207.4 177.1v3.7M211.4 177.1v3.7M244.4 177.1v3.7M255.4 177.1v3.7M277.4 177.1v3.7M294.4 177.1v3.7M304.4 177.1v3.7M314.4 177.1v3.7M317.4 177.1v3.7" stroke="#F8766D" stroke-opacity="0.7" stroke-width="1"/>
<path d="M103.4 177.1v3.7M153.4 177.1v3.7M200.4 177.1v3.7M220.4 177.1v3.7M228.4 177.1v3.7M239.4 177.1v3.7M243.4 177.1v3.7M292.4 177.1v3.7M307.4 177.1v3.7M312.4 177.1v3.7M315.4 177.1v3.7" stroke="#F8766D" stroke-opacity="0.9" stroke-width="1"/>
<path d="M48.4 143.5v3.7M58.4 143.5v3.7M67.4 143.5v3.7M74.4 143.5v3.7M76.4 143.5v3.7M107.4 143.5v3.7M151.4 143.5v3.7M173.4 143.5v3.7M174.4 143.5v3.7M187.4 143.5v3.7M189.4 143.5v3.7M206.4 143.5v3.7M220.4 143.5v3.7M226.4 143.5v3.7M231.4 143.5v3.7M236.4 143.5v3.7M247.4 143.5v3.7M252.4 143.5v3.7M257.4 143.5v3.7M261.4 143.5v3.7M265.4 143.5v3.7M268.4 143.5v3.7M274.4 143.5v3.7M275.4 143.5v3.7M277.4 143.5v3.7M285.4 143.5v3.7M289.4 143.5v3.7M313.4 143.5v3.7M316.4 143.5v3.7" stroke="#9590FF" stroke-opacity="0.2" stroke-width="1"/>
<path d="M60.4 143.5v3.7M78.4 143.5v3.7M89.4 143.5v3.7M90.4 143.5v3.7M96.4 143.5v3.7M110.4 143.5v3.7M141.4 143.5v3.7M142.4 143.5v3.7M148.4 143.5v3.7M156.4 143.5v3.7M175.4 143.5v3.7M201.4 143.5v3.7M203.4 143.5v3.7M211.4 143.5v3.7M214.4 143.5v3.7M218.4 143.5v3.7M225.4 143.5v3.7M228.4 143.5v3.7M238.4 143.5v3.7M244.4 143.5v3.7M255.4 143.5v3.7M269.4 143.5v3.7M280.4 143.5v3.7M282.4 143.5v3.7M296.4 143.5v3.7M309.4 143.5v3.7M311.4 143.5v3.7" stroke="#9590FF" stroke-opacity="0.3" stroke-width="1"/>
<path d="M35.4 143.5v3.7M55.4 143.5v3.7M108.4 143.5v3.7M113.4 143.5v3.7M137.4 143.5v3.7M145.4 143.5v3.7M163.4 143.5v3.7M169.4 143.5v3.7M188.4 143.5v3.7M194.4 143.5v3.7M196.4 143.5v3.7M198.4 143.5v3.7M213.4 143.5v3.7M239.4 143.5v3.7M249.4 143.5v3.7M251.4 143.5v3.7M256.4 143.5v3.7M262.4 143.5v3.7M263.4 143.5v3.7M270.4 143.5v3.7M283.4 143.5v3.7M304.4 143.5v3.7M306.4 143.5v3.7M317.4 143.5v3.7M320.4 143.5v3.7" stroke="#9590FF" stroke-opacity="0.5" stroke-width="1"/>
<path d="M41.4 143.5v3.7M51.4 143.5v3.7M52.4 143.5v3.7M68.4 143.5v3.7M79.4 143.5v3.7M84.4 143.5v3.7M88.4 143.5v3.7M93.4 143.5v3.7M101.4 143.5v3.7M103.4 143.5v3.7M117.4 143.5v3.7M119.4 143.5v3.7M120.4 143.5v3.7M131.4 143.5v3.7M143.4 143.5v3.7M150.4 143.5v3.7M164.4 143.5v3.7M168.4 143.5v3.7M179.4 143.5v3.7M181.4 143.5v3.7M185.4 143.5v3.7M207.4 143.5v3.7M215.4 143.5v3.7M217.4 143.5v3.7M222.4 143.5v3.7M227.4 143.5v3.7M243.4 143.5v3.7M245.4 143.5v3.7M250.4 143.5v3.7M258.4 143.5v3.7M273.4 143.5v3.7M278.4 143.5v3.7M288.4 143.5v3.7M314.4 143.5v3.7" stroke="#9590FF" stroke-opacity="0.7" stroke-width="1"/>
<path d="M47.4 143.5v3.7M87.4 143.5v3.7M121.4 143.5v3.7M124.4 143.5v3.7M128.4 143.5v3.7M138.4 143.5v3.7M197.4 143.5v3.7M209.4 143.5v3.7M219.4 143.5v3.7M224.4 143.5v3.7M232.4 143.5v3.7M267.4 143.5v3.7M271.4 143.5v3.7M279.4 143.5v3.7M281.4 143.5v3.7M286.4 143.5v3.7M290.4 143.5v3.7M291.4 143.5v3.7M292.4 143.5v3.7M297.4 143.5v3.7M300.4 143.5v3.7M301.4 143.5v3.7M315.4 143.5v3.7" stroke="#9590FF" stroke-opacity="0.9" stroke-width="1"/>
<path d="M48.4 151v3.7M58.4 151v3.7M65.4 151v3.7M67.4 151v3.7M71.4 151v3.7M74.4 151v3.7M76.4 151v3.7M95.4 151v3.7M98.4 151v3.7M122.4 151v3.7M125.4 151v3.7M133.4 151v3.7M151.4 151v3.7M173.4 151v3.7M174.4 151v3.7M193.4 151v3.7M206.4 151v3.7M212.4 151v3.7M231.4 151v3.7M236.4 151v3.7M246.4 151v3.7M257.4 151v3.7M261.4 151v3.7M264.4 151v3.7M268.4 151v3.7M274.4 151v3.7M275.4 151v3.7M277.4 151v3.7M285.4 151v3.7M289.4 151v3.7M303.4 151v3.7M316.4 151v3.7" stroke="#D89000" stroke-opacity="0.2" stroke-width="1"/>
<path d="M38.4 151v3.7M46.4 151v3.7M55.4 151v3.7M78.4 151v3.7M89.4 151v3.7M90.4 151v3.7M96.4 151v3.7M102.4 151v3.7M110.4 151v3.7M134.4 151v3.7M135.4 151v3.7M136.4 151v3.7M156.4 151v3.7M175.4 151v3.7M176.4 151v3.7M189.4 151v3.7M201.4 151v3.7M203.4 151v3.7M211.4 151v3.7M214.4 151v3.7M218.4 151v3.7M225.4 151v3.7M228.4 151v3.7M238.4 151v3.7M244.4 151v3.7M255.4 151v3.7M269.4 151v3.7M280.4 151v3.7M282.4 151v3.7M296.4 151v3.7M309.4 151v3.7M311.4 151v3.7" stroke="#D89000" stroke-opacity="0.3" stroke-width="1"/>
<path d="M35.4 151v3.7M44.4 151v3.7M45.4 151v3.7M94.4 151v3.7M99.4 151v3.7M108.4 151v3.7M113.4 151v3.7M137.4 151v3.7M145.4 151v3.7M159.4 151v3.7M163.4 151v3.7M169.4 151v3.7M171.4 151v3.7M188.4 151v3.7M194.4 151v3.7M195.4 151v3.7M196.4 151v3.7M198.4 151v3.7M199.4 151v3.7M213.4 151v3.7M239.4 151v3.7M249.4 151v3.7M251.4 151v3.7M252.4 151v3.7M256.4 151v3.7M262.4 151v3.7M263.4 151v3.7M266.4 151v3.7M270.4 151v3.7M283.4 151v3.7M287.4 151v3.7M293.4 151v3.7M299.4 151v3.7M304.4 151v3.7M306.4 151v3.7M313.4 151v3.7M317.4 151v3.7M318.4 151v3.7M319.4 151v3.7M320.4 151v3.7" stroke="#D89000" stroke-opacity="0.5" stroke-width="1"/>
<path d="M37.4 151v3.7M41.4 151v3.7M51.4 151v3.7M52.4 151v3.7M53.4 151v3.7M57.4 151v3.7M68.4 151v3.7M70.4 151v3.7M77.4 151v3.7M79.4 151v3.7M84.4 151v3.7M88.4 151v3.7M93.4 151v3.7M101.4 151v3.7M103.4 151v3.7M109.4 151v3.7M112.4 151v3.7M114.4 151v3.7M117.4 151v3.7M119.4 151v3.7M120.4 151v3.7M131.4 151v3.7M143.4 151v3.7M150.4 151v3.7M164.4 151v3.7M168.4 151v3.7M170.4 151v3.7M178.4 151v3.7M179.4 151v3.7M181.4 151v3.7M182.4 151v3.7M185.4 151v3.7M190.4 151v3.7M200.4 151v3.7M207.4 151v3.7M215.4 151v3.7M217.4 151v3.7M222.4 151v3.7M227.4 151v3.7M229.4 151v3.7M241.4 151v3.7M245.4 151v3.7M250.4 151v3.7M258.4 151v3.7M260.4 151v3.7M273.4 151v3.7M278.4 151v3.7M288.4 151v3.7M307.4 151v3.7M310.4 151v3.7M314.4 151v3.7" stroke="#D89000" stroke-opacity="0.7" stroke-width="1"/>
<path d="M47.4 151v3.7M81.4 151v3.7M87.4 151v3.7M91.4 151v3.7M121.4 151v3.7M124.4 151v3.7M128.4 151v3.7M138.4 151v3.7M147.4 151v3.7M152.4 151v3.7M162.4 151v3.7M180.4 151v3.7M187.4 151v3.7M197.4 151v3.7M205.4 151v3.7M209.4 151v3.7M210.4 151v3.7M219.4 151v3.7M220.4 151v3.7M232.4 151v3.7M234.4 151v3.7M235.4 151v3.7M254.4 151v3.7M267.4 151v3.7M271.4 151v3.7M276.4 151v3.7M279.4 151v3.7M281.4 151v3.7M284.4 151v3.7M286.4 151v3.7M290.4 151v3.7M291.4 151v3.7M292.4 151v3.7M297.4 151v3.7M298.4 151v3.7M300.4 151v3.7M301.4 151v3.7M302.4 151v3.7M305.4 151v3.7M315.4 151v3.7" stroke="#D89000" stroke-opacity="0.9" stroke-width="1"/>
<path d="M34.9 83.8l0.6 0.2v-2l0.4 0.1v-0.8l0.8 0.3v-2.1l0.6 0.3v-2.8l0.8 0.3v-1.1l0.8 0.3v-1.4l0.2 0.1v-2l0.8 0.3v-2l1.2 0.5v-1.8l0.8 0.3v-1.8l1.2 0.4v-2.9l1.2 0.5v-1.4l1.6 0.6v-2.5l1.6 0.7v-1.7l1 0.4v-1l1 0.4v-0.9l0.2 0.1v-2.2l1.2 0.5v-2.6l1.2 0.5v-1.9l1.4 0.6v-1.3l0.8 0.3v-1.4l0.2 0v-2.6l1.4 0.6v-1.6l0.2 0.1v-2.9l2.2 0.9v-2l1.8 0.8v-1.1l0.8 0.3v-1.9l2.2 0.9v-1.2l1.6 0.7v-0.9l0.2 0.1v-1l2.2 0.9v-1.8l1.4 0.6v-0.9l1 0.4v-1.2l1 0.4v-1.6l3 1.2v-2.4l3 1.3v-2.2l4.6 1.9v-2.2l4 1.7v-2.6l13 5.3v-1.1l4.2 1.7v-2.2l5.6 2.3v-1.6l1.4 0.6v-1.9l5.6 2.3v-1.6l2 0.8v-1.8l8.4 3.4v-2.3l9 3.7v-1.2l3.6 1.5v-1.7l7.8 3.2v-1.3l4.8 1.9v-1.2l2.2 0.9v-1.8l7.6 3.1v-0.8l2.6 1v-0.4l3.2 1.3v-0.7l5.8 2.4v-0.4l3.8 1.5v-1.1l15.6 6.3v-0.6l5.2 2.1v-0.4l3.2 1.3v-0.3l1.4 0.6v-0.4l3 1.2v-0.2l1.2 0.5v-0.3l1.4 0.6v-0.4l1.4 0.6v-0.2l1 0.4v-0.3l1.2 0.5v-0.2l1.4 0.6v-0.2l1.2 0.5v-0.2l1.2 0.5v-0.2l1.4 0.6v-0.5l1.4 0.6v-0.3l2.2 0.9v-0.4l0.6 0.2v-0.3l1.8 0.7v-0.4l4.6 1.8v-0.6l0.4 0.2v-0.9l7.8 3.1v-1.3l5.2 2.1v-0.7l10.4 4.2v-1l5 2v-2l15 6.1v-2.2l8.4 3.4v-1.9l3.2 1.3v-1l5.2 2.1v-1.8l2.2 0.9v-2.3l8 3.2v-2.3l22.4 9.1v-2.8l1.7 0.7" stroke="#00BFC4" stroke-width="0.7" fill="none"/>
<path d="M34.9 83.8l0.8 0.3v-1.5l0.4 0.1v-2l0.4 0.1v-2.8l1.6 0.7v-1.6l0.6 0.3v-1.3l0.4 0.2v-2.3l0.8 0.4v-0.9l0.8 0.4v-2l0.4 0.1v-1.5l1 0.4v-1.5l0.8 0.3v-1.6l0.4 0.2v-1.3l1.6 0.7v-2.6l1.6 0.7v-1.8l1.6 0.6v-2.6l1 0.4v-2l2.6 1.1v-2.5l1.2 0.5v-1.8l1.8 0.8v-2.7l2.8 1.1v-1.6l1.2 0.5v-0.9l0.8 0.3v-1.3l0.6 0.3v-0.9l1 0.4v-2.3l2.2 0.9v-2l2.8 1.2v-2.9l2.8 1.2v-2.4l1.6 0.6v-2.1l4.4 1.8v-0.8l0.8 0.3v-1l0.8 0.3v-0.8l0.2 0.1v-1l2.4 1v-2.4l2.6 1v-2l1.8 0.7v-1.8l3.2 1.3v-2.7l3.8 1.5v-2.3l3.2 1.3v-2.6l4.8 2v-2.7l2.2 0.9v-2.5l4.2 1.7v-1.7l3.6 1.5v-0.9l3.4 1.4v-1.8l1.6 0.6v-2.1l5.8 2.4v-1.4l6.6 2.7v-1.4l1.6 0.6v-1.7l8.2 3.4v-1.2l4 1.6v-0.8l10.6 4.3v-1.4l5 2.1v-1.6l5.8 2.4v-0.6l3.6 1.4v-0.8l3.2 1.3v-0.5l2.6 1v-0.4l5.4 2.2v-0.7l4.6 1.9v-0.9l6.8 2.8v-0.5l3.6 1.5v-0.6l9 3.7v-0.2l6 2.5v-0.2l1.6 0.7v-0.3l13.6 5.5v-0.4l11.4 4.6v-1l7.8 3.2v-0.9l10.4 4.2v-1.4l3.6 1.4v-0.9l1.6 0.6v-1.9l16.2 6.6v-2.4l24.8 10.1v-1.9l3.8 1.6v-2.4l7.2 2.9v-1.3l2 0.8v-1.4l5 2v-2.3l3.2 1.3v-2.7l2.9 1.2" stroke="#A3A500" stroke-width="0.7" fill="none"/>
<path d="M34.9 83.8l0.2 0.1v-2.1l1.8 0.8v-1.4l0.8 0.3v-1.8l1.2 0.5v-2l1.4 0.6v-1.3l0.2 0.1v-1.6l1.4 0.6v-1.9l1.8 0.7v-2.9l2.2 0.9v-1.1l0.4 0.1v-2.3l2 0.8v-1.1l0.4 0.2v-0.9l0.8 0.4v-2l0.6 0.2v-1l1.2 0.5v-1.8l1.4 0.5v-2.9l2.6 1.1v-1.4l0.2 0.1v-1.4l1.8 0.8v-1.3l0.2 0v-2l2.4 1v-1.2l0.2 0.1v-1.1l1 0.4v-1.5l1.8 0.8v-2.8l2.2 0.9v-2.1l2.8 1.2v-1.4l1 0.4v-2.8l3.8 1.5v-1.6l1.6 0.6v-1.4l1.4 0.6v-1.6l1.8 0.8v-0.9l0.2 0.1v-2.1l2 0.8v-1.3l2.6 1v-1.3l1 0.4v-2.4l2.6 1v-0.8l2.6 1.1v-2.6l3 1.2v-2l3.4 1.4v-1.8l0.6 0.2v-1.4l3 1.2v-2.4l4.2 1.7v-0.8l1.2 0.5v-2.4l2.2 0.9v-2.5l3.8 1.5v-2l4.2 1.7v-1.6l2.4 0.9v-0.9l2.4 0.9v-2.1l7.8 3.2v-2l4 1.6v-1.2l4.4 1.8v-0.8l2.4 1v-1.5l4.4 1.8v-0.8l1.8 0.7v-1.2l6.2 2.6v-1l1.2 0.5v-1.2l8.2 3.4v-1.2l2.4 1v-1l3 1.2v-1.1l3.6 1.4v-1.4l6.4 2.6v-1l3.2 1.3v-0.6l4.4 1.7v-0.4l45.6 18.6v-0.9l10 4.1v-0.8l7 2.9v-1.5l7 2.8v-1.1l6.4 2.7v-1l1.4 0.6v-0.6l6 2.4v-0.9l1.2 0.5v-1.4l7 2.9v-2.1l6.2 2.5v-1.8l8.8 3.6v-1.1l2.6 1.1v-1.5l4.2 1.8v-0.8l3.2 1.3v-1.5l22.1 9" stroke="#39B600" stroke-width="0.7" fill="none"/>
<path d="M34.9 83.8l9.8 4v-1.2l11.4 4.6v-2.6l30.8 12.5v-0.9l0.2 0.1v-2.1l35.4 14.4v-1.4l2.6 1.1v-2l3.6 1.5v-2.3l3.8 1.5v-0.7l1.2 0.4v-0.6l2.8 1.1v-1.6l1.2 0.5v-0.6l2.8 1.1v-1.1l0.6 0.2v-1.1l2.4 0.9v-0.6l1.2 0.5v-0.5l3.6 1.4v-1l1.6 0.7v-1.2l6.4 2.6v-0.7l1 0.4v-1.4l8 3.3v-1.4l9.6 3.9v-1.4l14.2 5.8v-0.3l6.2 2.6v-0.6l9.6 3.9v-0.2l2 0.8v-0.1l0.8 0.3v-0.3l13.8 5.6v-0.8l8.6 3.5v-1.1l7.6 3.1v-1.6l5.2 2.1v-0.7l2.8 1.1v-1.1l2.2 0.9v-1.5l5.8 2.3v-0.6l0.2 0.1v-1.7l2.6 1v-1.6l4.2 1.7v-2l1.6 0.6v-1.1l0.6 0.2v-1l0.8 0.3v-1.4l1 0.4v-1.9l2.8 1.1v-0.8l0.2 0.1v-2.2l1.6 0.7v-2.2l3 1.2v-2l1.4 0.6v-1.9l3 1.2v-2.2l2.2 0.9v-0.9l1 0.4v-1.3l2 0.8v-1.3l1 0.4v-1.7l1 0.4v-2l2.8 1.1v-1.7l1.6 0.7v-0.7l0.2 0.1v-1.7l2.2 0.9v-1.5l1.2 0.5v-1.8l2 0.8v-1.7l1.8 0.8v-2.7l2.6 1.1v-1.9l1.6 0.6v-1.2l1 0.4v-1.2l1 0.4v-1.1l1 0.4v-1.4l1.2 0.5v-2.4l1.8 0.8v-2.3l1 0.4v-1.1l1.4 0.6v-0.8l0.6 0.2v-1l0.2 0.1v-1.8l1.2 0.5v-1l0.4 0.1v-1.9l1.4 0.6v-2l0.8 0.4v-1.3l0.4 0.2v-2l1 0.4v-2.4l1.6 0.6v-0.7l0.2 0.1v-1.2l0.4 0.1v-2.6l1 0.4v-1.4l0.6 0.2v-1.8l1 0.4v-1.7l1 0.4v-1.5l0.4 0.2v-1.1l0.4 0.1v-1.7l0.1 0.1" stroke="#F8766D" stroke-width="0.7" fill="none"/>
<path d="M34.9 83.8l13.2 5.4v-2.3l6 2.5v-1.1l5.8 2.4v-2.4l11.4 4.7v-1.6l4.2 1.7v-2.5l4 1.6v-1.9l8.2 3.4v-2.5l3.8 1.6v-1.7l5.2 2.1v-1.2l5.4 2.2v-1.8l4.4 1.7v-1.2l15.8 6.5v-0.7l3 1.2v-1.5l0.8 0.3v-1.4l4.8 1.9v-2l4.4 1.8v-1.9l2.4 1v-1l3.2 1.3v-1.3l2.2 0.9v-1.9l3.4 1.4v-0.5l2.2 0.9v-1.1l3.6 1.4v-1.7l7.4 3v-0.9l3.4 1.4v-1.2l5.8 2.4v-0.5l2.2 0.9v-1.2l6.8 2.8v-1.3l6 2.4v-0.9l8 3.3v-0.3l2 0.8v-0.6l4.2 1.7v-0.2l2.2 0.9v-0.3l4.6 1.9v-0.2l0.6 0.3v-0.3l4.4 1.8v-0.4l32.4 13.2v-1.3l2.4 0.9v-0.8l2 0.8v-1.5l2.8 1.2v-1.1l1.6 0.6v-1.4l2.6 1.1v-1.4l2.2 0.9v-2l1.6 0.7v-1.1l1.2 0.5v-0.7l1 0.4v-0.7l1.4 0.5v-1.2l0.4 0.2v-1.3l1.6 0.6v-0.7l1.2 0.5v-1.4l1.2 0.5v-1.2l1.6 0.7v-2.1l2.8 1.1v-1.2l1.4 0.5v-2l3.6 1.5v-2l1.8 0.7v-0.9l1.2 0.5v-2.2l2.6 1.1v-2.5l4 1.6v-1.9l3.4 1.4v-2.3l1.8 0.8v-0.9l1.2 0.5v-1.5l2.2 0.9v-1l0.6 0.2v-1l2.2 0.9v-1.6l0.2 0.1v-0.8l2 0.9v-1.3l2 0.8v-1.7l1.2 0.5v-1.9l2.6 1.1v-1.8l0.4 0.2v-2.4l3.6 1.4v-0.9l0.6 0.3v-1.1l0.6 0.2v-1.4l1.8 0.7v-1.4l1.2 0.4v-2.7l1.4 0.6v-2.2l0.6 0.3v-1.1l0.8 0.4v-1.7l1 0.4v-1.2l1.2 0.5v-1l0.2 0.1v-2.5l1.6 0.7v-2.2l0.8 0.3v-2.3l1.3 0.6" stroke="#00BF7D" stroke-width="0.7" fill="none"/>
<path d="M34.9 83.8l6 2.4v-2.9l9 3.7v-1.9l7.4 3v-1.2l6 2.5v-1.9l3.8 1.5v-1.3l3.4 1.4v-2.3l4.6 1.8v-1.3l4.2 1.8v-1.9l5.8 2.4v-1.7l5.8 2.3v-2.3l7.2 2.9v-1.9l6 2.4v-1.4l1.8 0.7v-1.1l5.2 2.1v-1.4l2.4 1v-1.9l5.4 2.2v-1.9l7 2.8v-1.5l4.6 1.9v-1.7l3.8 1.6v-1.7l4.6 1.8v-0.9l4.4 1.8v-0.8l2.6 1.1v-1.9l6.6 2.7v-0.9l0.4 0.2v-0.9l4.8 2v-1.2l3.6 1.4v-1.4l3.2 1.3v-1.5l7.2 3v-0.9l4.4 1.8v-0.6l3.6 1.5v-0.9l4.8 2v-0.3l0.2 0v-0.9l6.2 2.5v-0.6l5.2 2.1v-0.2l2.8 1.1v-0.3l3 1.2v-0.2l0.6 0.3v-0.2l3.2 1.3v-0.2l0.4 0.2v-0.2l1.2 0.5v-0.3l2.2 0.9v-0.1l2 0.9v-0.4l2.6 1.1v-0.2l2.6 1.1v-0.3l8.2 3.4v-0.3l7.4 3v-1.3l9.6 4v-0.8l0.2 0.1v-1.7l6.6 2.7v-1.5l4.8 1.9v-0.9l1.8 0.7v-1l1 0.4v-1.8l2.6 1.1v-1.7l3.2 1.3v-2.1l2 0.8v-0.6l1 0.4v-2.1l2 0.9v-1.9l3 1.2v-1.9l3 1.2v-2l3.2 1.3v-0.8l0.2 0v-1.5l3.6 1.4v-1.9l2.4 1v-1.5l2.8 1.2v-2.5l1.8 0.7v-1.3l2.6 1.1v-0.8l1 0.4v-1.4l2 0.8v-1.1l2.2 0.9v-0.9l0.8 0.4v-1.3l1.6 0.6v-2.5l2 0.8v-1.6l2.8 1.1v-1.5l0.4 0.2v-1.1l1 0.4v-0.7l1.6 0.7v-2.8l2.6 1.1v-0.8l0.8 0.3v-1.3l0.6 0.3v-2.2l1.4 0.6v-1.6l1.6 0.7v-1.5l0.2 0.1v-2.6l2.2 0.9v-2l1.4 0.6v-0.8l0.2 0.1v-1.2l0.6 0.3v-1.1l1.4 0.5v-1.7l1 0.4v-1.3l1.2 0.5v-1.1l0.6 0.3v-2.4l0.1 0.1" stroke="#D89000" stroke-width="0.7" fill="none"/>
<path d="M34.9 83.8l15.8 6.4v-0.8l0.2 0.1v-1.8l6.6 2.7v-1l0.2 0.1v-1.2l2.4 1v-0.9l3.8 1.6v-0.9l3.6 1.5v-1.1l0.2 0.1v-0.8l3.4 1.4v-1.6l3.2 1.3v-2.2l3.4 1.4v-1.3l5.2 2.1v-0.9l0.8 0.3v-0.7l4.8 2v-1.6l5.6 2.2v-0.9l0.4 0.1v-2.7l7 2.9v-1.4l7.8 3.2v-2.4l6.6 2.7v-1.2l3.4 1.4v-1.1l1.6 0.6v-1.9l6.4 2.6v-0.8l2.8 1.1v-0.8l1.4 0.6v-2l3 1.3v-1.2l5 2v-1.6l3.8 1.5v-1.8l7.8 3.1v-0.6l1.8 0.7v-1l1.6 0.7v-1l3.4 1.4v-0.8l2.4 1v-0.9l2 0.8v-1.6l4 1.6v-1l5.6 2.3v-1.2l5 2v-1l3.8 1.5v-0.6l1.6 0.6v-0.8l5.8 2.4v-0.5l3 1.3v-0.7l6 2.5v-0.3l1.6 0.6v-0.4l3 1.3v-0.2l1 0.4v-0.1l1 0.4v-0.2l3 1.2v-0.2l1.2 0.5v-0.3l0.8 0.4v-0.3l2.8 1.2v-0.2l2.4 1v-0.1l0.2 0.1v-0.4l18.8 7.6v-1.2l6.6 2.7v-1.4l4.2 1.7v-1l2.4 1v-1.5l2.2 0.9v-1.5l3.4 1.4v-1.4l1 0.4v-0.6l0.6 0.2v-1.3l2.4 1v-1.2l0.4 0.1v-1.5l2 0.8v-2.2l2.6 1.1v-1.5l0.4 0.2v-1.9l3 1.2v-2l2.6 1v-0.9l1 0.4v-1.8l2 0.8v-1.3l3.2 1.3v-1.9l1.4 0.6v-1.9l4 1.6v-0.8l0.6 0.3v-2.5l4 1.7v-2l2.2 0.9v-1l3 1.3v-0.9l0.8 0.4v-2.2l3 1.2v-1.4l2.4 0.9v-1l2 0.8v-2l2.2 0.9v-1.9l3.6 1.4v-1.4l0.8 0.3v-2.1l2.6 1v-1.4l3 1.2v-0.9l0.2 0.1v-1.9l1.4 0.6v-1l1 0.4v-0.9l2 0.8v-0.9l0.8 0.3v-2.3l1.4 0.5v-2.7l2.4 0.9v-1l0.2 0.1v-2.7l2.4 0.9v-1.9l0.7 0.3" stroke="#00B0F6" stroke-width="0.7" fill="none"/>
<path d="M34.9 83.8l4.6 1.9v-1.8l5.6 2.3v-2.4l8 3.2v-0.9l2.4 1v-2.9l7.4 3v-2.5l7.6 3.1v-1.2l2.6 1.1v-1l6.2 2.5v-2.8l6 2.5v-1.4l3 1.2v-2.6l8.4 3.4v-2.6l8.6 3.5v-1.1l4.2 1.7v-2.4l7.8 3.1v-0.8l0.2 0.1v-1.8l4 1.7v-1.5l4.4 1.8v-0.7l3.2 1.3v-1.6l7.8 3.1v-1.2l0.4 0.1v-0.7l4.6 1.8v-0.8l1 0.4v-1.2l4.8 1.9v-1l2.6 1.1v-1.5l6 2.5v-0.8l2.6 1v-0.9l2.4 1v-1.6l5.8 2.4v-1.4l6.8 2.7v-0.9l7.2 2.9v-1l5.6 2.3v-0.4l2 0.8v-0.5l3.6 1.5v-0.3l5 2v-0.4l1.6 0.7v-0.3l3 1.2v-0.1l1.2 0.5v-0.1l1.6 0.6v-0.3l3.6 1.5v-0.3l1.8 0.7v-0.1l0.6 0.2v-0.3l3 1.2v-0.4l3.4 1.4v-0.2l8 3.3v-0.4l7.2 2.9v-1.2l9.4 3.9v-0.7l2.2 0.9v-1.7l5.6 2.3v-1.4l1.4 0.6v-0.9l2 0.8v-1.5l2.6 1.1v-1.5l2.6 1.1v-1.6l3.2 1.3v-0.8l2 0.8v-0.8l0.8 0.4v-1.6l2.2 0.9v-0.6l0.2 0.1v-1.7l2.4 1v-2l3.4 1.3v-0.9l1.4 0.6v-1.2l1 0.4v-1l0.2 0.1v-0.8l1.4 0.6v-1.8l3.4 1.3v-1.2l1.6 0.6v-0.8l1.6 0.7v-1.5l1.8 0.7v-1.2l2.4 1v-0.9l0.2 0.1v-2.2l4.2 1.8v-0.8l1 0.4v-1.7l1.4 0.6v-2.6l4 1.7v-1.9l2 0.8v-1.4l0.4 0.1v-1.8l1.6 0.7v-2.7l4.2 1.7v-0.7l1 0.4v-2.4l1.2 0.5v-2.6l1.8 0.7v-1.8l1.6 0.7v-1.9l1.2 0.5v-2.6l1 0.4v-2.6l2 0.8v-1.6l1.6 0.7v-1.7l1.2 0.5v-1.1l0.8 0.3v-2.2l0.4 0.2v-2.6l1.1 0.5" stroke="#9590FF" stroke-width="0.7" fill="none"/>
<path d="M34.9 83.8l4.4 1.8v-2.2l2.2 0.9v-1.5l4.8 2v-0.9l3.8 1.5v-2.7l7.6 3.1v-2.1l6.6 2.7v-1.9l5 2v-1l6 2.5v-1.2l0.2 0.1v-1.2l5.2 2.1v-2.5l4.2 1.7v-1.9l6 2.4v-2.6l9 3.7v-2.2l7.8 3.1v-2.4l7 2.8v-1.2l5 2.1v-1.3l1.8 0.7v-0.9l2.2 0.9v-1.3l7.4 3.1v-2.3l4.4 1.8v-0.7l2 0.8v-1.6l4.2 1.7v-1.3l6.4 2.6v-1.4l3.4 1.4v-1.8l9.8 3.9v-0.5l2.2 0.9v-1l0.2 0.1v-1.4l8 3.2v-0.6l0.6 0.2v-0.7l3.8 1.5v-1l8.2 3.3v-0.7l3.4 1.4v-0.4l3.6 1.4v-0.3l1.8 0.7v-0.4l3 1.3v-0.4l3.4 1.4v-0.3l3.8 1.6v-0.3l1.4 0.6v-0.1l0.8 0.3v-0.2l0.6 0.3v-0.3l2.2 0.9v-0.3l2 0.8v-0.2l3.4 1.3v-0.2l9.6 3.9v-0.9l9.6 3.9v-0.6l6.4 2.7v-1.1l4.6 1.9v-1.5l3.4 1.4v-1l3.6 1.4v-1.3l3.6 1.5v-1.7l1.6 0.6v-1.3l3.2 1.3v-2.1l3.4 1.3v-1.6l2.6 1v-0.9l0.4 0.2v-0.7l1.2 0.5v-1.3l1 0.4v-1.6l2.6 1.1v-1.4l2.2 0.9v-1.1l1.4 0.5v-1.9l3.6 1.4v-0.9l0.2 0.1v-1.6l1.8 0.7v-1.8l4.2 1.7v-1.5l1.2 0.5v-2.2l4 1.6v-2.4l2.2 0.9v-1.1l1.2 0.4v-1.2l2 0.8v-2.4l2.2 0.9v-2.7l3.4 1.4v-1l1.6 0.6v-1.5l1.6 0.6v-1.8l2.2 0.9v-2l2.2 0.9v-2.7l2.6 1v-1.6l1 0.4v-1.3l1 0.4v-1.6l0.4 0.1v-1.6l1.2 0.5v-2.7l1.4 0.6v-1.6l1.2 0.5v-2.7l1.6 0.6v-1.9l2.2 0.9v-2.6l0.7 0.3" stroke="#E76BF3" stroke-width="0.7" fill="none"/>
<path d="M34.9 83.8l2.6 1.1v-2.7l7.6 3.1v-1.4l3 1.2v-1.2l1 0.4v-1.8l6.8 2.7v-2.9l11 4.5v-1.9l3.8 1.6v-1.2l4.2 1.7v-2.4l8.2 3.3v-1l0.2 0.1v-2.1l6.8 2.8v-0.9l3.2 1.3v-2.3l7.8 3.2v-0.8l0.2 0v-2.5l8.8 3.6v-2.2l5 2v-1l4 1.6v-1.3l3.2 1.3v-1.6l4 1.6v-2.3l8.6 3.5v-0.6l4.2 1.7v-0.9l0.2 0.1v-1.5l5.6 2.3v-1.2l6.2 2.5v-0.9l3.4 1.4v-0.7l0.2 0.1v-1.5l7.4 3v-1.4l1.8 0.8v-1.3l8 3.3v-0.6l2 0.9v-1.4l4 1.6v-1l9.8 4v-0.4l0.2 0.1v-0.6l4.8 2v-0.6l5.8 2.4v-0.2l0.2 0.1v-0.3l3.2 1.3v-0.2l1.8 0.8v-0.3l2.6 1v-0.1l1 0.4v-0.3l0.4 0.2v-0.1l1 0.4v-0.3l2.6 1.1v-0.1l0.6 0.2v-0.3l6.8 2.8v-0.5l10.4 4.2v-0.9l6.2 2.5v-1.5l10.8 4.4v-1.1l2.8 1.2v-1.4l3.4 1.3v-1.1l1.6 0.6v-2l2.6 1.1v-1l3.4 1.4v-1.8l0.8 0.4v-1.6l2.6 1.1v-1.9l2.8 1.1v-1.1l2 0.8v-2.2l2.8 1.2v-0.8l1 0.4v-0.9l1.8 0.7v-0.7l0.4 0.2v-1.2l2.4 1v-1.7l2.6 1v-1.4l1 0.4v-2.4l3.2 1.3v-2.4l4.4 1.8v-1l0.2 0v-0.9l2.6 1v-2.1l2.8 1.2v-1.1l0.6 0.2v-1.2l2.2 0.9v-1.6l1.6 0.7v-1l1.4 0.5v-0.8l1.6 0.7v-2.3l1.8 0.7v-2.1l3.2 1.3v-0.9l0.6 0.2v-0.8l0.4 0.1v-1.4l1.4 0.6v-2.3l1.2 0.5v-0.9l1 0.4v-1.7l0.8 0.3v-1.9l1.6 0.7v-1.2l0.8 0.4v-1.1l0.6 0.3v-2.3l1.8 0.7v-0.9l0.8 0.3v-1.1l0.2 0.1v-2.5l2.6 1.1v-2.5l1.2 0.5v-1.9l0.3 0.2" stroke="#FF62BC" stroke-width="0.7" fill="none"/>
<line x1="174.9" y1="31.9" x2="179.1" y2="31.9" stroke="#F8766D" stroke-width="1.2" stroke-opacity="0.75"/>
<text x="180.8" y="33" font-size="8.4">autophagosome</text>
<line x1="174.9" y1="38.3" x2="179.1" y2="38.3" stroke="#D89000" stroke-width="1.2" stroke-opacity="0.75"/>
<text x="180.8" y="39.4" font-size="8.4">autophagy</text>
<line x1="174.9" y1="44.7" x2="179.1" y2="44.7" stroke="#A3A500" stroke-width="1.2" stroke-opacity="0.75"/>
<text x="180.8" y="45.8" font-size="8.4">collagen−containing extracellular matrix</text>
<line x1="174.9" y1="51.2" x2="179.1" y2="51.2" stroke="#39B600" stroke-width="1.2" stroke-opacity="0.75"/>
<text x="180.8" y="52.3" font-size="8.4">DNA−templated DNA replication</text>
<line x1="174.9" y1="57.6" x2="179.1" y2="57.6" stroke="#00BF7D" stroke-width="1.2" stroke-opacity="0.75"/>
<text x="180.8" y="58.7" font-size="8.4">macroautophagy</text>
<line x1="174.9" y1="64" x2="179.1" y2="64" stroke="#00BFC4" stroke-width="1.2" stroke-opacity="0.75"/>
<text x="180.8" y="65.1" font-size="8.4">mitotic sister chromatid segregation</text>
<line x1="174.9" y1="70.4" x2="179.1" y2="70.4" stroke="#00B0F6" stroke-width="1.2" stroke-opacity="0.75"/>
<text x="180.8" y="71.5" font-size="8.4">process utilizing autophagic mechanism</text>
<line x1="174.9" y1="76.8" x2="179.1" y2="76.8" stroke="#9590FF" stroke-width="1.2" stroke-opacity="0.75"/>
<text x="180.8" y="77.9" font-size="8.4">regulation of autophagy</text>
<line x1="174.9" y1="83.3" x2="179.1" y2="83.3" stroke="#E76BF3" stroke-width="1.2" stroke-opacity="0.75"/>
<text x="180.8" y="84.4" font-size="8.4">vacuolar membrane</text>
<line x1="174.9" y1="89.7" x2="179.1" y2="89.7" stroke="#FF62BC" stroke-width="1.2" stroke-opacity="0.75"/>
<text x="180.8" y="90.8" font-size="8.4">vacuole</text>
<line x1="72.3" y1="280.5" x2="72.3" y2="464.3" stroke="#EBEBEB" stroke-width="0.6"/>
<line x1="106.3" y1="280.5" x2="106.3" y2="464.3" stroke="#EBEBEB" stroke-width="0.6"/>
<line x1="140.2" y1="280.5" x2="140.2" y2="464.3" stroke="#EBEBEB" stroke-width="0.6"/>
<line x1="174.1" y1="280.5" x2="174.1" y2="464.3" stroke="#EBEBEB" stroke-width="0.6"/>
<line x1="208.1" y1="280.5" x2="208.1" y2="464.3" stroke="#EBEBEB" stroke-width="0.6"/>
<line x1="242" y1="280.5" x2="242" y2="464.3" stroke="#EBEBEB" stroke-width="0.6"/>
<line x1="275.9" y1="280.5" x2="275.9" y2="464.3" stroke="#EBEBEB" stroke-width="0.6"/>
<line x1="309.8" y1="280.5" x2="309.8" y2="464.3" stroke="#EBEBEB" stroke-width="0.6"/>
<polygon points="38.4,446.4 38.4,429.7 41.9,429.8 45.5,429.8 49,429.9 52.5,429.9 56,430 59.6,430 63.1,430.1 66.6,430.1 70.2,430.2 73.7,430.3 77.2,430.4 80.7,430.4 84.3,430.5 87.8,430.6 91.3,430.8 94.9,430.9 98.4,431 101.9,431.2 105.5,431.3 109,431.5 112.5,431.7 116,432 119.6,432.3 123.1,432.6 126.6,432.9 130.2,433.3 133.7,433.7 137.2,434.1 140.7,434.5 144.3,434.9 147.8,435.3 151.3,435.7 154.9,436.1 158.4,436.6 161.9,437.1 165.4,437.5 169,438 172.5,438.6 176,439.1 179.6,439.7 183.1,440.4 186.6,441.3 190.1,442.2 193.7,443.2 197.2,444.3 200.7,445.4 204.3,446.5 207.8,447.5 211.3,448.5 214.9,449.6 218.4,450.7 221.9,451.8 225.4,452.8 229,453.7 232.5,454.6 236,455.3 239.6,456 243.1,456.7 246.6,457.3 250.1,457.8 253.7,458.3 257.2,458.7 260.7,459.1 264.3,459.5 267.8,459.8 271.3,460.1 274.8,460.4 278.4,460.6 281.9,460.8 285.4,461.1 289,461.3 292.5,461.4 296,461.6 299.5,461.8 303.1,461.9 306.6,462.1 310.1,462.2 313.7,462.4 317.2,462.4 317.2,446.4" fill="#BEBEBE"/>
<line x1="38.3" y1="280.5" x2="38.3" y2="464.8" stroke="#A3A3A3" stroke-width="1"/>
<line x1="37.8" y1="464.3" x2="317.2" y2="464.3" stroke="#A3A3A3" stroke-width="1"/>
<line x1="36.7" y1="306.8" x2="38.3" y2="306.8" stroke="#A3A3A3" stroke-width="0.7"/>
<text x="36.6" y="309" font-size="8.1" text-anchor="end" fill="#3A3A3A" class="t">0.25</text>
<line x1="36.7" y1="334.2" x2="38.3" y2="334.2" stroke="#A3A3A3" stroke-width="0.7"/>
<text x="36.6" y="336.4" font-size="8.1" text-anchor="end" fill="#3A3A3A" class="t">0.00</text>
<line x1="36.7" y1="363.1" x2="38.3" y2="363.1" stroke="#A3A3A3" stroke-width="0.7"/>
<text x="36.6" y="365.3" font-size="8.1" text-anchor="end" fill="#3A3A3A" class="t">−0.25</text>
<line x1="36.7" y1="430" x2="38.3" y2="430" stroke="#A3A3A3" stroke-width="0.7"/>
<text x="36.9" y="428.8" font-size="8.1" text-anchor="end" fill="#3A3A3A" class="t">1.0</text>
<line x1="36.7" y1="438.2" x2="38.3" y2="438.2" stroke="#A3A3A3" stroke-width="0.7"/>
<text x="36.9" y="437.3" font-size="8.1" text-anchor="end" fill="#3A3A3A" class="t">0.5</text>
<line x1="36.7" y1="446.3" x2="38.3" y2="446.3" stroke="#A3A3A3" stroke-width="0.7"/>
<text x="36.9" y="445.7" font-size="8.1" text-anchor="end" fill="#3A3A3A" class="t">0.0</text>
<line x1="36.7" y1="454.5" x2="38.3" y2="454.5" stroke="#A3A3A3" stroke-width="0.7"/>
<text x="36.9" y="458.4" font-size="8.1" text-anchor="end" fill="#3A3A3A" class="t">−0.5</text>
<line x1="36.7" y1="462.6" x2="38.3" y2="462.6" stroke="#A3A3A3" stroke-width="0.7"/>
<text x="36.9" y="466.9" font-size="8.1" text-anchor="end" fill="#3A3A3A" class="t">−1.0</text>
<line x1="106.3" y1="464.3" x2="106.3" y2="465.9" stroke="#A3A3A3" stroke-width="0.7"/>
<text x="105.9" y="472.7" font-size="8.1" text-anchor="middle" fill="#3A3A3A" class="t">3000</text>
<line x1="174.1" y1="464.3" x2="174.1" y2="465.9" stroke="#A3A3A3" stroke-width="0.7"/>
<text x="173.4" y="472.7" font-size="8.1" text-anchor="middle" fill="#3A3A3A" class="t">6000</text>
<line x1="242" y1="464.3" x2="242" y2="465.9" stroke="#A3A3A3" stroke-width="0.7"/>
<text x="240.9" y="472.7" font-size="8.1" text-anchor="middle" fill="#3A3A3A" class="t">9000</text>
<line x1="309.8" y1="464.3" x2="309.8" y2="465.9" stroke="#A3A3A3" stroke-width="0.7"/>
<text x="310.9" y="472.7" font-size="8.1" text-anchor="middle" fill="#3A3A3A" class="t">12000</text>
<text x="190.3" y="482.2" font-size="8.4" text-anchor="middle">Rank in Ordered Dataset</text>
<text x="12.7" y="336" font-size="8.18" text-anchor="middle" transform="rotate(-90 12.7 336)">Running Enrichment Score</text>
<text x="12.7" y="437.8" font-size="8.19" text-anchor="middle" transform="rotate(-90 12.7 437.8)">Ranked List Metric</text>
<text x="0.6" y="262.6" font-size="16" font-weight="bold">(C)</text>
<path d="M42.9 390.9v3.6M48.9 390.9v3.6M68.9 390.9v3.6M69.9 390.9v3.6M85.9 390.9v3.6M104.9 390.9v3.6M106.9 390.9v3.6M107.9 390.9v3.6M112.9 390.9v3.6M115.9 390.9v3.6M124.9 390.9v3.6M126.9 390.9v3.6M127.9 390.9v3.6M130.9 390.9v3.6M132.9 390.9v3.6M133.9 390.9v3.6M134.9 390.9v3.6M146.9 390.9v3.6M149.9 390.9v3.6M154.9 390.9v3.6M158.9 390.9v3.6M159.9 390.9v3.6M162.9 390.9v3.6M167.9 390.9v3.6M177.9 390.9v3.6M185.9 390.9v3.6M196.9 390.9v3.6M204.9 390.9v3.6M205.9 390.9v3.6M226.9 390.9v3.6M229.9 390.9v3.6M230.9 390.9v3.6M242.9 390.9v3.6M249.9 390.9v3.6M253.9 390.9v3.6M259.9 390.9v3.6M271.9 390.9v3.6M286.9 390.9v3.6M293.9 390.9v3.6M297.9 390.9v3.6" stroke="#00BF7D" stroke-opacity="0.2" stroke-width="1"/>
<path d="M39.9 390.9v3.6M43.9 390.9v3.6M50.9 390.9v3.6M54.9 390.9v3.6M63.9 390.9v3.6M83.9 390.9v3.6M91.9 390.9v3.6M96.9 390.9v3.6M105.9 390.9v3.6M110.9 390.9v3.6M111.9 390.9v3.6M117.9 390.9v3.6M182.9 390.9v3.6M187.9 390.9v3.6M197.9 390.9v3.6M198.9 390.9v3.6M237.9 390.9v3.6M252.9 390.9v3.6M261.9 390.9v3.6M281.9 390.9v3.6M288.9 390.9v3.6" stroke="#00BF7D" stroke-opacity="0.3" stroke-width="1"/>
<path d="M46.9 390.9v3.6M59.9 390.9v3.6M65.9 390.9v3.6M73.9 390.9v3.6M75.9 390.9v3.6M77.9 390.9v3.6M89.9 390.9v3.6M99.9 390.9v3.6M114.9 390.9v3.6M123.9 390.9v3.6M160.9 390.9v3.6M172.9 390.9v3.6M179.9 390.9v3.6M194.9 390.9v3.6M213.9 390.9v3.6M245.9 390.9v3.6M266.9 390.9v3.6M268.9 390.9v3.6M273.9 390.9v3.6M276.9 390.9v3.6M287.9 390.9v3.6M299.9 390.9v3.6" stroke="#00BF7D" stroke-opacity="0.5" stroke-width="1"/>
<path d="M38.9 390.9v3.6M41.9 390.9v3.6M44.9 390.9v3.6M45.9 390.9v3.6M47.9 390.9v3.6M51.9 390.9v3.6M56.9 390.9v3.6M62.9 390.9v3.6M66.9 390.9v3.6M78.9 390.9v3.6M81.9 390.9v3.6M88.9 390.9v3.6M121.9 390.9v3.6M141.9 390.9v3.6M153.9 390.9v3.6M161.9 390.9v3.6M170.9 390.9v3.6M192.9 390.9v3.6M211.9 390.9v3.6M216.9 390.9v3.6M233.9 390.9v3.6M244.9 390.9v3.6M283.9 390.9v3.6M289.9 390.9v3.6M301.9 390.9v3.6M312.9 390.9v3.6M316.9 390.9v3.6" stroke="#00BF7D" stroke-opacity="0.7" stroke-width="1"/>
<path d="M40.9 390.9v3.6M49.9 390.9v3.6M52.9 390.9v3.6M53.9 390.9v3.6M60.9 390.9v3.6M61.9 390.9v3.6M64.9 390.9v3.6M67.9 390.9v3.6M70.9 390.9v3.6M71.9 390.9v3.6M72.9 390.9v3.6M74.9 390.9v3.6M76.9 390.9v3.6M84.9 390.9v3.6M94.9 390.9v3.6M97.9 390.9v3.6M113.9 390.9v3.6M116.9 390.9v3.6M119.9 390.9v3.6M140.9 390.9v3.6M142.9 390.9v3.6M174.9 390.9v3.6M183.9 390.9v3.6M186.9 390.9v3.6M191.9 390.9v3.6M209.9 390.9v3.6M210.9 390.9v3.6M212.9 390.9v3.6M236.9 390.9v3.6M246.9 390.9v3.6M255.9 390.9v3.6M257.9 390.9v3.6M265.9 390.9v3.6M269.9 390.9v3.6M274.9 390.9v3.6M275.9 390.9v3.6M278.9 390.9v3.6M302.9 390.9v3.6" stroke="#00BF7D" stroke-opacity="0.9" stroke-width="1"/>
<path d="M44.9 394.5v3.6M72.9 394.5v3.6M86.9 394.5v3.6M99.9 394.5v3.6M101.9 394.5v3.6M120.9 394.5v3.6M126.9 394.5v3.6M127.9 394.5v3.6M129.9 394.5v3.6M130.9 394.5v3.6M137.9 394.5v3.6M146.9 394.5v3.6M149.9 394.5v3.6M157.9 394.5v3.6M184.9 394.5v3.6M194.9 394.5v3.6M197.9 394.5v3.6M198.9 394.5v3.6M206.9 394.5v3.6M212.9 394.5v3.6M226.9 394.5v3.6M229.9 394.5v3.6M238.9 394.5v3.6M253.9 394.5v3.6M278.9 394.5v3.6M281.9 394.5v3.6M285.9 394.5v3.6M291.9 394.5v3.6M301.9 394.5v3.6" stroke="#E76BF3" stroke-opacity="0.2" stroke-width="1"/>
<path d="M43.9 394.5v3.6M47.9 394.5v3.6M48.9 394.5v3.6M62.9 394.5v3.6M74.9 394.5v3.6M85.9 394.5v3.6M87.9 394.5v3.6M89.9 394.5v3.6M94.9 394.5v3.6M95.9 394.5v3.6M106.9 394.5v3.6M112.9 394.5v3.6M118.9 394.5v3.6M122.9 394.5v3.6M128.9 394.5v3.6M133.9 394.5v3.6M135.9 394.5v3.6M144.9 394.5v3.6M147.9 394.5v3.6M154.9 394.5v3.6M159.9 394.5v3.6M162.9 394.5v3.6M168.9 394.5v3.6M173.9 394.5v3.6M183.9 394.5v3.6M188.9 394.5v3.6M190.9 394.5v3.6M192.9 394.5v3.6M195.9 394.5v3.6M208.9 394.5v3.6M211.9 394.5v3.6M241.9 394.5v3.6M242.9 394.5v3.6M248.9 394.5v3.6M259.9 394.5v3.6M312.9 394.5v3.6" stroke="#E76BF3" stroke-opacity="0.3" stroke-width="1"/>
<path d="M38.9 394.5v3.6M40.9 394.5v3.6M53.9 394.5v3.6M54.9 394.5v3.6M55.9 394.5v3.6M57.9 394.5v3.6M60.9 394.5v3.6M68.9 394.5v3.6M79.9 394.5v3.6M81.9 394.5v3.6M82.9 394.5v3.6M88.9 394.5v3.6M91.9 394.5v3.6M102.9 394.5v3.6M104.9 394.5v3.6M111.9 394.5v3.6M114.9 394.5v3.6M116.9 394.5v3.6M117.9 394.5v3.6M136.9 394.5v3.6M142.9 394.5v3.6M153.9 394.5v3.6M155.9 394.5v3.6M165.9 394.5v3.6M166.9 394.5v3.6M177.9 394.5v3.6M182.9 394.5v3.6M193.9 394.5v3.6M215.9 394.5v3.6M224.9 394.5v3.6M228.9 394.5v3.6M243.9 394.5v3.6M247.9 394.5v3.6M257.9 394.5v3.6M261.9 394.5v3.6M267.9 394.5v3.6M272.9 394.5v3.6M286.9 394.5v3.6M298.9 394.5v3.6M307.9 394.5v3.6" stroke="#E76BF3" stroke-opacity="0.5" stroke-width="1"/>
<path d="M41.9 394.5v3.6M45.9 394.5v3.6M52.9 394.5v3.6M56.9 394.5v3.6M67.9 394.5v3.6M73.9 394.5v3.6M77.9 394.5v3.6M90.9 394.5v3.6M92.9 394.5v3.6M96.9 394.5v3.6M100.9 394.5v3.6M103.9 394.5v3.6M105.9 394.5v3.6M108.9 394.5v3.6M109.9 394.5v3.6M110.9 394.5v3.6M119.9 394.5v3.6M134.9 394.5v3.6M140.9 394.5v3.6M141.9 394.5v3.6M143.9 394.5v3.6M148.9 394.5v3.6M150.9 394.5v3.6M160.9 394.5v3.6M163.9 394.5v3.6M164.9 394.5v3.6M169.9 394.5v3.6M174.9 394.5v3.6M181.9 394.5v3.6M203.9 394.5v3.6M210.9 394.5v3.6M214.9 394.5v3.6M219.9 394.5v3.6M237.9 394.5v3.6M244.9 394.5v3.6M250.9 394.5v3.6M289.9 394.5v3.6" stroke="#E76BF3" stroke-opacity="0.7" stroke-width="1"/>
<path d="M46.9 394.5v3.6M49.9 394.5v3.6M50.9 394.5v3.6M51.9 394.5v3.6M58.9 394.5v3.6M61.9 394.5v3.6M63.9 394.5v3.6M65.9 394.5v3.6M70.9 394.5v3.6M75.9 394.5v3.6M76.9 394.5v3.6M80.9 394.5v3.6M98.9 394.5v3.6M107.9 394.5v3.6M121.9 394.5v3.6M123.9 394.5v3.6M132.9 394.5v3.6M138.9 394.5v3.6M145.9 394.5v3.6M161.9 394.5v3.6M167.9 394.5v3.6M175.9 394.5v3.6M187.9 394.5v3.6M200.9 394.5v3.6M201.9 394.5v3.6M209.9 394.5v3.6M220.9 394.5v3.6M252.9 394.5v3.6M255.9 394.5v3.6M256.9 394.5v3.6M268.9 394.5v3.6M270.9 394.5v3.6M271.9 394.5v3.6M279.9 394.5v3.6M284.9 394.5v3.6M295.9 394.5v3.6M302.9 394.5v3.6M306.9 394.5v3.6" stroke="#E76BF3" stroke-opacity="0.9" stroke-width="1"/>
<path d="M38.9 398.1v3.6M51.9 398.1v3.6M52.9 398.1v3.6M63.9 398.1v3.6M68.9 398.1v3.6M74.9 398.1v3.6M101.9 398.1v3.6M115.9 398.1v3.6M126.9 398.1v3.6M161.9 398.1v3.6M171.9 398.1v3.6M207.9 398.1v3.6M223.9 398.1v3.6M224.9 398.1v3.6M236.9 398.1v3.6M238.9 398.1v3.6M240.9 398.1v3.6M241.9 398.1v3.6M253.9 398.1v3.6M255.9 398.1v3.6M258.9 398.1v3.6M286.9 398.1v3.6M292.9 398.1v3.6M308.9 398.1v3.6M310.9 398.1v3.6" stroke="#FF62BC" stroke-opacity="0.2" stroke-width="1"/>
<path d="M46.9 398.1v3.6M49.9 398.1v3.6M59.9 398.1v3.6M84.9 398.1v3.6M85.9 398.1v3.6M88.9 398.1v3.6M92.9 398.1v3.6M99.9 398.1v3.6M100.9 398.1v3.6M103.9 398.1v3.6M114.9 398.1v3.6M122.9 398.1v3.6M123.9 398.1v3.6M142.9 398.1v3.6M144.9 398.1v3.6M146.9 398.1v3.6M153.9 398.1v3.6M155.9 398.1v3.6M156.9 398.1v3.6M158.9 398.1v3.6M163.9 398.1v3.6M167.9 398.1v3.6M170.9 398.1v3.6M184.9 398.1v3.6M185.9 398.1v3.6M189.9 398.1v3.6M199.9 398.1v3.6M210.9 398.1v3.6M222.9 398.1v3.6M225.9 398.1v3.6M226.9 398.1v3.6M229.9 398.1v3.6M243.9 398.1v3.6M250.9 398.1v3.6M269.9 398.1v3.6M275.9 398.1v3.6M280.9 398.1v3.6M281.9 398.1v3.6M282.9 398.1v3.6M297.9 398.1v3.6M298.9 398.1v3.6M303.9 398.1v3.6M311.9 398.1v3.6" stroke="#FF62BC" stroke-opacity="0.3" stroke-width="1"/>
<path d="M41.9 398.1v3.6M65.9 398.1v3.6M77.9 398.1v3.6M79.9 398.1v3.6M81.9 398.1v3.6M87.9 398.1v3.6M96.9 398.1v3.6M104.9 398.1v3.6M106.9 398.1v3.6M113.9 398.1v3.6M117.9 398.1v3.6M120.9 398.1v3.6M121.9 398.1v3.6M127.9 398.1v3.6M134.9 398.1v3.6M145.9 398.1v3.6M148.9 398.1v3.6M164.9 398.1v3.6M166.9 398.1v3.6M168.9 398.1v3.6M172.9 398.1v3.6M181.9 398.1v3.6M195.9 398.1v3.6M196.9 398.1v3.6M209.9 398.1v3.6M221.9 398.1v3.6M230.9 398.1v3.6M232.9 398.1v3.6M239.9 398.1v3.6M244.9 398.1v3.6M248.9 398.1v3.6M267.9 398.1v3.6M272.9 398.1v3.6M279.9 398.1v3.6M284.9 398.1v3.6M287.9 398.1v3.6M288.9 398.1v3.6M290.9 398.1v3.6M296.9 398.1v3.6M299.9 398.1v3.6M301.9 398.1v3.6" stroke="#FF62BC" stroke-opacity="0.5" stroke-width="1"/>
<path d="M40.9 398.1v3.6M47.9 398.1v3.6M62.9 398.1v3.6M73.9 398.1v3.6M93.9 398.1v3.6M94.9 398.1v3.6M95.9 398.1v3.6M97.9 398.1v3.6M128.9 398.1v3.6M130.9 398.1v3.6M135.9 398.1v3.6M138.9 398.1v3.6M140.9 398.1v3.6M151.9 398.1v3.6M152.9 398.1v3.6M157.9 398.1v3.6M160.9 398.1v3.6M178.9 398.1v3.6M192.9 398.1v3.6M201.9 398.1v3.6M202.9 398.1v3.6M208.9 398.1v3.6M215.9 398.1v3.6M233.9 398.1v3.6M234.9 398.1v3.6M254.9 398.1v3.6M256.9 398.1v3.6M261.9 398.1v3.6M264.9 398.1v3.6M271.9 398.1v3.6M273.9 398.1v3.6M274.9 398.1v3.6M276.9 398.1v3.6M285.9 398.1v3.6M291.9 398.1v3.6M293.9 398.1v3.6M294.9 398.1v3.6M295.9 398.1v3.6M304.9 398.1v3.6M306.9 398.1v3.6M309.9 398.1v3.6M313.9 398.1v3.6M315.9 398.1v3.6" stroke="#FF62BC" stroke-opacity="0.7" stroke-width="1"/>
<path d="M39.9 398.1v3.6M43.9 398.1v3.6M44.9 398.1v3.6M56.9 398.1v3.6M57.9 398.1v3.6M58.9 398.1v3.6M60.9 398.1v3.6M71.9 398.1v3.6M76.9 398.1v3.6M78.9 398.1v3.6M83.9 398.1v3.6M89.9 398.1v3.6M109.9 398.1v3.6M111.9 398.1v3.6M119.9 398.1v3.6M129.9 398.1v3.6M131.9 398.1v3.6M133.9 398.1v3.6M136.9 398.1v3.6M141.9 398.1v3.6M143.9 398.1v3.6M149.9 398.1v3.6M165.9 398.1v3.6M169.9 398.1v3.6M175.9 398.1v3.6M179.9 398.1v3.6M183.9 398.1v3.6M186.9 398.1v3.6M187.9 398.1v3.6M190.9 398.1v3.6M197.9 398.1v3.6M198.9 398.1v3.6M211.9 398.1v3.6M212.9 398.1v3.6M213.9 398.1v3.6M217.9 398.1v3.6M218.9 398.1v3.6M231.9 398.1v3.6M235.9 398.1v3.6M237.9 398.1v3.6M242.9 398.1v3.6M245.9 398.1v3.6M246.9 398.1v3.6M247.9 398.1v3.6M249.9 398.1v3.6M257.9 398.1v3.6M259.9 398.1v3.6M260.9 398.1v3.6M263.9 398.1v3.6M270.9 398.1v3.6M283.9 398.1v3.6M289.9 398.1v3.6M305.9 398.1v3.6M312.9 398.1v3.6M314.9 398.1v3.6" stroke="#FF62BC" stroke-opacity="0.9" stroke-width="1"/>
<path d="M38.9 401.7v3.6M42.9 401.7v3.6M49.9 401.7v3.6M54.9 401.7v3.6M69.9 401.7v3.6M85.9 401.7v3.6M87.9 401.7v3.6M94.9 401.7v3.6M112.9 401.7v3.6M117.9 401.7v3.6M121.9 401.7v3.6M124.9 401.7v3.6M125.9 401.7v3.6M141.9 401.7v3.6M148.9 401.7v3.6M166.9 401.7v3.6M168.9 401.7v3.6M169.9 401.7v3.6M175.9 401.7v3.6M179.9 401.7v3.6M182.9 401.7v3.6M195.9 401.7v3.6M228.9 401.7v3.6M229.9 401.7v3.6M231.9 401.7v3.6M241.9 401.7v3.6M242.9 401.7v3.6M247.9 401.7v3.6M256.9 401.7v3.6M266.9 401.7v3.6M274.9 401.7v3.6M279.9 401.7v3.6M288.9 401.7v3.6M309.9 401.7v3.6M310.9 401.7v3.6M312.9 401.7v3.6" stroke="#00B0F6" stroke-opacity="0.2" stroke-width="1"/>
<path d="M50.9 401.7v3.6M58.9 401.7v3.6M60.9 401.7v3.6M64.9 401.7v3.6M66.9 401.7v3.6M76.9 401.7v3.6M78.9 401.7v3.6M80.9 401.7v3.6M83.9 401.7v3.6M86.9 401.7v3.6M92.9 401.7v3.6M103.9 401.7v3.6M104.9 401.7v3.6M106.9 401.7v3.6M114.9 401.7v3.6M147.9 401.7v3.6M149.9 401.7v3.6M154.9 401.7v3.6M158.9 401.7v3.6M160.9 401.7v3.6M161.9 401.7v3.6M162.9 401.7v3.6M165.9 401.7v3.6M173.9 401.7v3.6M177.9 401.7v3.6M192.9 401.7v3.6M194.9 401.7v3.6M196.9 401.7v3.6M206.9 401.7v3.6M209.9 401.7v3.6M213.9 401.7v3.6M218.9 401.7v3.6M224.9 401.7v3.6M227.9 401.7v3.6M251.9 401.7v3.6M252.9 401.7v3.6M260.9 401.7v3.6M263.9 401.7v3.6M267.9 401.7v3.6M280.9 401.7v3.6M289.9 401.7v3.6M306.9 401.7v3.6" stroke="#00B0F6" stroke-opacity="0.3" stroke-width="1"/>
<path d="M43.9 401.7v3.6M44.9 401.7v3.6M51.9 401.7v3.6M90.9 401.7v3.6M99.9 401.7v3.6M101.9 401.7v3.6M109.9 401.7v3.6M115.9 401.7v3.6M116.9 401.7v3.6M128.9 401.7v3.6M134.9 401.7v3.6M135.9 401.7v3.6M143.9 401.7v3.6M144.9 401.7v3.6M145.9 401.7v3.6M146.9 401.7v3.6M153.9 401.7v3.6M171.9 401.7v3.6M184.9 401.7v3.6M208.9 401.7v3.6M214.9 401.7v3.6M216.9 401.7v3.6M223.9 401.7v3.6M225.9 401.7v3.6M226.9 401.7v3.6M246.9 401.7v3.6M249.9 401.7v3.6M255.9 401.7v3.6M261.9 401.7v3.6M264.9 401.7v3.6M269.9 401.7v3.6M273.9 401.7v3.6M276.9 401.7v3.6M278.9 401.7v3.6M294.9 401.7v3.6M295.9 401.7v3.6M297.9 401.7v3.6M303.9 401.7v3.6M304.9 401.7v3.6" stroke="#00B0F6" stroke-opacity="0.5" stroke-width="1"/>
<path d="M56.9 401.7v3.6M65.9 401.7v3.6M67.9 401.7v3.6M74.9 401.7v3.6M82.9 401.7v3.6M91.9 401.7v3.6M97.9 401.7v3.6M98.9 401.7v3.6M100.9 401.7v3.6M119.9 401.7v3.6M122.9 401.7v3.6M126.9 401.7v3.6M129.9 401.7v3.6M130.9 401.7v3.6M131.9 401.7v3.6M138.9 401.7v3.6M151.9 401.7v3.6M156.9 401.7v3.6M157.9 401.7v3.6M163.9 401.7v3.6M167.9 401.7v3.6M172.9 401.7v3.6M186.9 401.7v3.6M187.9 401.7v3.6M197.9 401.7v3.6M200.9 401.7v3.6M202.9 401.7v3.6M203.9 401.7v3.6M215.9 401.7v3.6M220.9 401.7v3.6M222.9 401.7v3.6M230.9 401.7v3.6M232.9 401.7v3.6M237.9 401.7v3.6M238.9 401.7v3.6M244.9 401.7v3.6M257.9 401.7v3.6M259.9 401.7v3.6M262.9 401.7v3.6M265.9 401.7v3.6M268.9 401.7v3.6M270.9 401.7v3.6M271.9 401.7v3.6M272.9 401.7v3.6M281.9 401.7v3.6M284.9 401.7v3.6M286.9 401.7v3.6M296.9 401.7v3.6M299.9 401.7v3.6M300.9 401.7v3.6M301.9 401.7v3.6M307.9 401.7v3.6M308.9 401.7v3.6M311.9 401.7v3.6" stroke="#00B0F6" stroke-opacity="0.7" stroke-width="1"/>
<path d="M39.9 401.7v3.6M48.9 401.7v3.6M57.9 401.7v3.6M61.9 401.7v3.6M73.9 401.7v3.6M79.9 401.7v3.6M93.9 401.7v3.6M108.9 401.7v3.6M118.9 401.7v3.6M120.9 401.7v3.6M132.9 401.7v3.6M136.9 401.7v3.6M137.9 401.7v3.6M139.9 401.7v3.6M150.9 401.7v3.6M159.9 401.7v3.6M170.9 401.7v3.6M174.9 401.7v3.6M180.9 401.7v3.6M190.9 401.7v3.6M198.9 401.7v3.6M199.9 401.7v3.6M201.9 401.7v3.6M207.9 401.7v3.6M211.9 401.7v3.6M212.9 401.7v3.6M221.9 401.7v3.6M233.9 401.7v3.6M236.9 401.7v3.6M243.9 401.7v3.6M248.9 401.7v3.6M253.9 401.7v3.6M254.9 401.7v3.6M258.9 401.7v3.6M275.9 401.7v3.6M277.9 401.7v3.6M282.9 401.7v3.6M285.9 401.7v3.6M290.9 401.7v3.6M292.9 401.7v3.6M293.9 401.7v3.6M298.9 401.7v3.6M305.9 401.7v3.6M313.9 401.7v3.6M314.9 401.7v3.6M315.9 401.7v3.6M316.9 401.7v3.6" stroke="#00B0F6" stroke-opacity="0.9" stroke-width="1"/>
<path d="M42.9 412.6v3.6M51.9 412.6v3.6M54.9 412.6v3.6M55.9 412.6v3.6M72.9 412.6v3.6M84.9 412.6v3.6M85.9 412.6v3.6M95.9 412.6v3.6M102.9 412.6v3.6M104.9 412.6v3.6M107.9 412.6v3.6M111.9 412.6v3.6M112.9 412.6v3.6M120.9 412.6v3.6M138.9 412.6v3.6M141.9 412.6v3.6M158.9 412.6v3.6M171.9 412.6v3.6M180.9 412.6v3.6M181.9 412.6v3.6M189.9 412.6v3.6M194.9 412.6v3.6M211.9 412.6v3.6M217.9 412.6v3.6M234.9 412.6v3.6M241.9 412.6v3.6M255.9 412.6v3.6M269.9 412.6v3.6M282.9 412.6v3.6M290.9 412.6v3.6M291.9 412.6v3.6M292.9 412.6v3.6" stroke="#39B600" stroke-opacity="0.2" stroke-width="1"/>
<path d="M44.9 412.6v3.6M52.9 412.6v3.6M57.9 412.6v3.6M73.9 412.6v3.6M75.9 412.6v3.6M77.9 412.6v3.6M80.9 412.6v3.6M90.9 412.6v3.6M91.9 412.6v3.6M97.9 412.6v3.6M103.9 412.6v3.6M108.9 412.6v3.6M128.9 412.6v3.6M133.9 412.6v3.6M144.9 412.6v3.6M147.9 412.6v3.6M151.9 412.6v3.6M165.9 412.6v3.6M188.9 412.6v3.6M195.9 412.6v3.6M205.9 412.6v3.6M218.9 412.6v3.6M229.9 412.6v3.6M283.9 412.6v3.6" stroke="#39B600" stroke-opacity="0.3" stroke-width="1"/>
<path d="M58.9 412.6v3.6M78.9 412.6v3.6M81.9 412.6v3.6M86.9 412.6v3.6M106.9 412.6v3.6M115.9 412.6v3.6M125.9 412.6v3.6M149.9 412.6v3.6M150.9 412.6v3.6M160.9 412.6v3.6M169.9 412.6v3.6M236.9 412.6v3.6M272.9 412.6v3.6M297.9 412.6v3.6" stroke="#39B600" stroke-opacity="0.5" stroke-width="1"/>
<path d="M38.9 412.6v3.6M43.9 412.6v3.6M56.9 412.6v3.6M60.9 412.6v3.6M63.9 412.6v3.6M66.9 412.6v3.6M69.9 412.6v3.6M74.9 412.6v3.6M89.9 412.6v3.6M98.9 412.6v3.6M100.9 412.6v3.6M101.9 412.6v3.6M113.9 412.6v3.6M134.9 412.6v3.6M162.9 412.6v3.6M166.9 412.6v3.6M209.9 412.6v3.6M228.9 412.6v3.6M243.9 412.6v3.6M275.9 412.6v3.6M284.9 412.6v3.6" stroke="#39B600" stroke-opacity="0.7" stroke-width="1"/>
<path d="M40.9 412.6v3.6M41.9 412.6v3.6M46.9 412.6v3.6M49.9 412.6v3.6M53.9 412.6v3.6M59.9 412.6v3.6M61.9 412.6v3.6M68.9 412.6v3.6M76.9 412.6v3.6M79.9 412.6v3.6M83.9 412.6v3.6M122.9 412.6v3.6M131.9 412.6v3.6M152.9 412.6v3.6M154.9 412.6v3.6M155.9 412.6v3.6M159.9 412.6v3.6M174.9 412.6v3.6M216.9 412.6v3.6M238.9 412.6v3.6M299.9 412.6v3.6M302.9 412.6v3.6" stroke="#39B600" stroke-opacity="0.9" stroke-width="1"/>
<path d="M41.9 416.2v3.6M42.9 416.2v3.6M44.9 416.2v3.6M45.9 416.2v3.6M56.9 416.2v3.6M72.9 416.2v3.6M76.9 416.2v3.6M83.9 416.2v3.6M91.9 416.2v3.6M101.9 416.2v3.6M103.9 416.2v3.6M108.9 416.2v3.6M120.9 416.2v3.6M123.9 416.2v3.6M124.9 416.2v3.6M127.9 416.2v3.6M140.9 416.2v3.6M141.9 416.2v3.6M148.9 416.2v3.6M154.9 416.2v3.6M180.9 416.2v3.6M193.9 416.2v3.6M208.9 416.2v3.6M238.9 416.2v3.6M266.9 416.2v3.6M283.9 416.2v3.6" stroke="#A3A500" stroke-opacity="0.2" stroke-width="1"/>
<path d="M39.9 416.2v3.6M64.9 416.2v3.6M65.9 416.2v3.6M74.9 416.2v3.6M78.9 416.2v3.6M79.9 416.2v3.6M80.9 416.2v3.6M85.9 416.2v3.6M86.9 416.2v3.6M88.9 416.2v3.6M92.9 416.2v3.6M94.9 416.2v3.6M96.9 416.2v3.6M102.9 416.2v3.6M109.9 416.2v3.6M117.9 416.2v3.6M135.9 416.2v3.6M196.9 416.2v3.6M198.9 416.2v3.6M207.9 416.2v3.6M235.9 416.2v3.6M246.9 416.2v3.6M278.9 416.2v3.6M289.9 416.2v3.6M293.9 416.2v3.6M299.9 416.2v3.6M313.9 416.2v3.6" stroke="#A3A500" stroke-opacity="0.3" stroke-width="1"/>
<path d="M38.9 416.2v3.6M40.9 416.2v3.6M43.9 416.2v3.6M47.9 416.2v3.6M51.9 416.2v3.6M63.9 416.2v3.6M69.9 416.2v3.6M70.9 416.2v3.6M75.9 416.2v3.6M77.9 416.2v3.6M87.9 416.2v3.6M105.9 416.2v3.6M113.9 416.2v3.6M115.9 416.2v3.6M125.9 416.2v3.6M129.9 416.2v3.6M130.9 416.2v3.6M132.9 416.2v3.6M136.9 416.2v3.6M157.9 416.2v3.6M159.9 416.2v3.6M210.9 416.2v3.6M211.9 416.2v3.6M215.9 416.2v3.6M220.9 416.2v3.6M245.9 416.2v3.6M248.9 416.2v3.6M254.9 416.2v3.6M305.9 416.2v3.6M307.9 416.2v3.6" stroke="#A3A500" stroke-opacity="0.5" stroke-width="1"/>
<path d="M46.9 416.2v3.6M48.9 416.2v3.6M50.9 416.2v3.6M57.9 416.2v3.6M67.9 416.2v3.6M71.9 416.2v3.6M73.9 416.2v3.6M95.9 416.2v3.6M97.9 416.2v3.6M98.9 416.2v3.6M112.9 416.2v3.6M114.9 416.2v3.6M116.9 416.2v3.6M139.9 416.2v3.6M146.9 416.2v3.6M151.9 416.2v3.6M165.9 416.2v3.6M172.9 416.2v3.6M174.9 416.2v3.6M213.9 416.2v3.6M243.9 416.2v3.6M251.9 416.2v3.6M256.9 416.2v3.6M258.9 416.2v3.6M263.9 416.2v3.6M274.9 416.2v3.6" stroke="#A3A500" stroke-opacity="0.7" stroke-width="1"/>
<path d="M49.9 416.2v3.6M60.9 416.2v3.6M61.9 416.2v3.6M68.9 416.2v3.6M89.9 416.2v3.6M99.9 416.2v3.6M107.9 416.2v3.6M110.9 416.2v3.6M111.9 416.2v3.6M119.9 416.2v3.6M126.9 416.2v3.6M137.9 416.2v3.6M138.9 416.2v3.6M162.9 416.2v3.6M169.9 416.2v3.6M186.9 416.2v3.6M197.9 416.2v3.6M269.9 416.2v3.6" stroke="#A3A500" stroke-opacity="0.9" stroke-width="1"/>
<path d="M53.9 419.8v3.6M66.9 419.8v3.6M73.9 419.8v3.6M77.9 419.8v3.6M83.9 419.8v3.6M86.9 419.8v3.6M96.9 419.8v3.6M120.9 419.8v3.6M123.9 419.8v3.6M126.9 419.8v3.6M148.9 419.8v3.6M162.9 419.8v3.6M196.9 419.8v3.6M198.9 419.8v3.6M200.9 419.8v3.6M208.9 419.8v3.6M218.9 419.8v3.6M225.9 419.8v3.6M226.9 419.8v3.6M228.9 419.8v3.6M235.9 419.8v3.6M247.9 419.8v3.6M249.9 419.8v3.6M265.9 419.8v3.6M272.9 419.8v3.6M274.9 419.8v3.6M277.9 419.8v3.6M282.9 419.8v3.6M283.9 419.8v3.6M291.9 419.8v3.6M307.9 419.8v3.6M313.9 419.8v3.6M315.9 419.8v3.6" stroke="#00BFC4" stroke-opacity="0.2" stroke-width="1"/>
<path d="M38.9 419.8v3.6M49.9 419.8v3.6M59.9 419.8v3.6M70.9 419.8v3.6M71.9 419.8v3.6M78.9 419.8v3.6M84.9 419.8v3.6M90.9 419.8v3.6M93.9 419.8v3.6M98.9 419.8v3.6M101.9 419.8v3.6M106.9 419.8v3.6M112.9 419.8v3.6M113.9 419.8v3.6M121.9 419.8v3.6M125.9 419.8v3.6M143.9 419.8v3.6M144.9 419.8v3.6M149.9 419.8v3.6M165.9 419.8v3.6M176.9 419.8v3.6M180.9 419.8v3.6M181.9 419.8v3.6M212.9 419.8v3.6M213.9 419.8v3.6M217.9 419.8v3.6M232.9 419.8v3.6M234.9 419.8v3.6M237.9 419.8v3.6M242.9 419.8v3.6M243.9 419.8v3.6M257.9 419.8v3.6M261.9 419.8v3.6M263.9 419.8v3.6M267.9 419.8v3.6M275.9 419.8v3.6M279.9 419.8v3.6M285.9 419.8v3.6M295.9 419.8v3.6M297.9 419.8v3.6M300.9 419.8v3.6M304.9 419.8v3.6" stroke="#00BFC4" stroke-opacity="0.3" stroke-width="1"/>
<path d="M46.9 419.8v3.6M51.9 419.8v3.6M74.9 419.8v3.6M76.9 419.8v3.6M82.9 419.8v3.6M85.9 419.8v3.6M105.9 419.8v3.6M133.9 419.8v3.6M155.9 419.8v3.6M173.9 419.8v3.6M195.9 419.8v3.6M248.9 419.8v3.6M255.9 419.8v3.6M268.9 419.8v3.6M278.9 419.8v3.6" stroke="#00BFC4" stroke-opacity="0.5" stroke-width="1"/>
<path d="M47.9 419.8v3.6M62.9 419.8v3.6M75.9 419.8v3.6M92.9 419.8v3.6M102.9 419.8v3.6M122.9 419.8v3.6M147.9 419.8v3.6M177.9 419.8v3.6M199.9 419.8v3.6M202.9 419.8v3.6M203.9 419.8v3.6M207.9 419.8v3.6M215.9 419.8v3.6M231.9 419.8v3.6M238.9 419.8v3.6M258.9 419.8v3.6M259.9 419.8v3.6M264.9 419.8v3.6M266.9 419.8v3.6M276.9 419.8v3.6M280.9 419.8v3.6M289.9 419.8v3.6M293.9 419.8v3.6M301.9 419.8v3.6M303.9 419.8v3.6M305.9 419.8v3.6M309.9 419.8v3.6M311.9 419.8v3.6" stroke="#00BFC4" stroke-opacity="0.7" stroke-width="1"/>
<path d="M95.9 419.8v3.6M140.9 419.8v3.6M205.9 419.8v3.6M229.9 419.8v3.6M233.9 419.8v3.6M236.9 419.8v3.6M284.9 419.8v3.6M292.9 419.8v3.6M299.9 419.8v3.6M306.9 419.8v3.6M310.9 419.8v3.6M312.9 419.8v3.6" stroke="#00BFC4" stroke-opacity="0.9" stroke-width="1"/>
<path d="M46.9 423.4v3.6M52.9 423.4v3.6M156.9 423.4v3.6M161.9 423.4v3.6M162.9 423.4v3.6M178.9 423.4v3.6M196.9 423.4v3.6M208.9 423.4v3.6M226.9 423.4v3.6M236.9 423.4v3.6M255.9 423.4v3.6M256.9 423.4v3.6M267.9 423.4v3.6M276.9 423.4v3.6M280.9 423.4v3.6M291.9 423.4v3.6M298.9 423.4v3.6M302.9 423.4v3.6M306.9 423.4v3.6M310.9 423.4v3.6" stroke="#F8766D" stroke-opacity="0.2" stroke-width="1"/>
<path d="M90.9 423.4v3.6M179.9 423.4v3.6M203.9 423.4v3.6M216.9 423.4v3.6M228.9 423.4v3.6M230.9 423.4v3.6M232.9 423.4v3.6M257.9 423.4v3.6M261.9 423.4v3.6M269.9 423.4v3.6M283.9 423.4v3.6" stroke="#F8766D" stroke-opacity="0.3" stroke-width="1"/>
<path d="M233.9 423.4v3.6M240.9 423.4v3.6M248.9 423.4v3.6M249.9 423.4v3.6M251.9 423.4v3.6M258.9 423.4v3.6M264.9 423.4v3.6M266.9 423.4v3.6M271.9 423.4v3.6M273.9 423.4v3.6M278.9 423.4v3.6M281.9 423.4v3.6M284.9 423.4v3.6M293.9 423.4v3.6" stroke="#F8766D" stroke-opacity="0.5" stroke-width="1"/>
<path d="M224.9 423.4v3.6M253.9 423.4v3.6M254.9 423.4v3.6M259.9 423.4v3.6M274.9 423.4v3.6M316.9 423.4v3.6" stroke="#F8766D" stroke-opacity="0.7" stroke-width="1"/>
<path d="M158.9 423.4v3.6M177.9 423.4v3.6M189.9 423.4v3.6M238.9 423.4v3.6M239.9 423.4v3.6M289.9 423.4v3.6M296.9 423.4v3.6M308.9 423.4v3.6M312.9 423.4v3.6" stroke="#F8766D" stroke-opacity="0.9" stroke-width="1"/>
<path d="M38.9 405.3v3.6M42.9 405.3v3.6M49.9 405.3v3.6M54.9 405.3v3.6M69.9 405.3v3.6M85.9 405.3v3.6M87.9 405.3v3.6M94.9 405.3v3.6M112.9 405.3v3.6M117.9 405.3v3.6M121.9 405.3v3.6M124.9 405.3v3.6M125.9 405.3v3.6M141.9 405.3v3.6M148.9 405.3v3.6M166.9 405.3v3.6M168.9 405.3v3.6M169.9 405.3v3.6M175.9 405.3v3.6M179.9 405.3v3.6M182.9 405.3v3.6M195.9 405.3v3.6M228.9 405.3v3.6M229.9 405.3v3.6M231.9 405.3v3.6M241.9 405.3v3.6M242.9 405.3v3.6M247.9 405.3v3.6M256.9 405.3v3.6M266.9 405.3v3.6M274.9 405.3v3.6M279.9 405.3v3.6M288.9 405.3v3.6M309.9 405.3v3.6M310.9 405.3v3.6M312.9 405.3v3.6" stroke="#D89000" stroke-opacity="0.2" stroke-width="1"/>
<path d="M50.9 405.3v3.6M58.9 405.3v3.6M60.9 405.3v3.6M64.9 405.3v3.6M66.9 405.3v3.6M76.9 405.3v3.6M78.9 405.3v3.6M80.9 405.3v3.6M83.9 405.3v3.6M86.9 405.3v3.6M92.9 405.3v3.6M103.9 405.3v3.6M104.9 405.3v3.6M106.9 405.3v3.6M114.9 405.3v3.6M147.9 405.3v3.6M149.9 405.3v3.6M154.9 405.3v3.6M158.9 405.3v3.6M160.9 405.3v3.6M161.9 405.3v3.6M162.9 405.3v3.6M165.9 405.3v3.6M173.9 405.3v3.6M177.9 405.3v3.6M192.9 405.3v3.6M194.9 405.3v3.6M196.9 405.3v3.6M206.9 405.3v3.6M209.9 405.3v3.6M213.9 405.3v3.6M218.9 405.3v3.6M224.9 405.3v3.6M227.9 405.3v3.6M251.9 405.3v3.6M252.9 405.3v3.6M260.9 405.3v3.6M263.9 405.3v3.6M267.9 405.3v3.6M280.9 405.3v3.6M289.9 405.3v3.6M306.9 405.3v3.6" stroke="#D89000" stroke-opacity="0.3" stroke-width="1"/>
<path d="M43.9 405.3v3.6M44.9 405.3v3.6M51.9 405.3v3.6M90.9 405.3v3.6M99.9 405.3v3.6M101.9 405.3v3.6M109.9 405.3v3.6M115.9 405.3v3.6M116.9 405.3v3.6M128.9 405.3v3.6M134.9 405.3v3.6M135.9 405.3v3.6M143.9 405.3v3.6M144.9 405.3v3.6M145.9 405.3v3.6M146.9 405.3v3.6M153.9 405.3v3.6M171.9 405.3v3.6M184.9 405.3v3.6M208.9 405.3v3.6M214.9 405.3v3.6M216.9 405.3v3.6M223.9 405.3v3.6M225.9 405.3v3.6M226.9 405.3v3.6M246.9 405.3v3.6M249.9 405.3v3.6M255.9 405.3v3.6M261.9 405.3v3.6M264.9 405.3v3.6M269.9 405.3v3.6M273.9 405.3v3.6M276.9 405.3v3.6M278.9 405.3v3.6M294.9 405.3v3.6M295.9 405.3v3.6M297.9 405.3v3.6M303.9 405.3v3.6M304.9 405.3v3.6" stroke="#D89000" stroke-opacity="0.5" stroke-width="1"/>
<path d="M56.9 405.3v3.6M65.9 405.3v3.6M67.9 405.3v3.6M74.9 405.3v3.6M82.9 405.3v3.6M91.9 405.3v3.6M97.9 405.3v3.6M98.9 405.3v3.6M100.9 405.3v3.6M119.9 405.3v3.6M122.9 405.3v3.6M126.9 405.3v3.6M129.9 405.3v3.6M130.9 405.3v3.6M131.9 405.3v3.6M138.9 405.3v3.6M151.9 405.3v3.6M156.9 405.3v3.6M157.9 405.3v3.6M163.9 405.3v3.6M167.9 405.3v3.6M172.9 405.3v3.6M186.9 405.3v3.6M187.9 405.3v3.6M197.9 405.3v3.6M200.9 405.3v3.6M202.9 405.3v3.6M203.9 405.3v3.6M215.9 405.3v3.6M220.9 405.3v3.6M222.9 405.3v3.6M230.9 405.3v3.6M232.9 405.3v3.6M237.9 405.3v3.6M238.9 405.3v3.6M244.9 405.3v3.6M257.9 405.3v3.6M259.9 405.3v3.6M262.9 405.3v3.6M265.9 405.3v3.6M268.9 405.3v3.6M270.9 405.3v3.6M271.9 405.3v3.6M272.9 405.3v3.6M281.9 405.3v3.6M284.9 405.3v3.6M286.9 405.3v3.6M296.9 405.3v3.6M299.9 405.3v3.6M300.9 405.3v3.6M301.9 405.3v3.6M307.9 405.3v3.6M308.9 405.3v3.6M311.9 405.3v3.6" stroke="#D89000" stroke-opacity="0.7" stroke-width="1"/>
<path d="M39.9 405.3v3.6M48.9 405.3v3.6M57.9 405.3v3.6M61.9 405.3v3.6M73.9 405.3v3.6M79.9 405.3v3.6M93.9 405.3v3.6M108.9 405.3v3.6M118.9 405.3v3.6M120.9 405.3v3.6M132.9 405.3v3.6M136.9 405.3v3.6M137.9 405.3v3.6M139.9 405.3v3.6M150.9 405.3v3.6M159.9 405.3v3.6M170.9 405.3v3.6M174.9 405.3v3.6M180.9 405.3v3.6M190.9 405.3v3.6M198.9 405.3v3.6M199.9 405.3v3.6M201.9 405.3v3.6M207.9 405.3v3.6M211.9 405.3v3.6M212.9 405.3v3.6M221.9 405.3v3.6M233.9 405.3v3.6M236.9 405.3v3.6M243.9 405.3v3.6M248.9 405.3v3.6M253.9 405.3v3.6M254.9 405.3v3.6M258.9 405.3v3.6M275.9 405.3v3.6M277.9 405.3v3.6M282.9 405.3v3.6M285.9 405.3v3.6M290.9 405.3v3.6M292.9 405.3v3.6M293.9 405.3v3.6M298.9 405.3v3.6M305.9 405.3v3.6M313.9 405.3v3.6M314.9 405.3v3.6M315.9 405.3v3.6M316.9 405.3v3.6" stroke="#D89000" stroke-opacity="0.9" stroke-width="1"/>
<path d="M38.9 408.9v3.6M42.9 408.9v3.6M49.9 408.9v3.6M54.9 408.9v3.6M69.9 408.9v3.6M94.9 408.9v3.6M95.9 408.9v3.6M103.9 408.9v3.6M112.9 408.9v3.6M113.9 408.9v3.6M121.9 408.9v3.6M124.9 408.9v3.6M125.9 408.9v3.6M141.9 408.9v3.6M148.9 408.9v3.6M166.9 408.9v3.6M168.9 408.9v3.6M169.9 408.9v3.6M216.9 408.9v3.6M228.9 408.9v3.6M229.9 408.9v3.6M241.9 408.9v3.6M247.9 408.9v3.6M256.9 408.9v3.6M266.9 408.9v3.6M280.9 408.9v3.6M288.9 408.9v3.6M291.9 408.9v3.6M312.9 408.9v3.6" stroke="#9590FF" stroke-opacity="0.2" stroke-width="1"/>
<path d="M50.9 408.9v3.6M60.9 408.9v3.6M64.9 408.9v3.6M66.9 408.9v3.6M76.9 408.9v3.6M78.9 408.9v3.6M86.9 408.9v3.6M92.9 408.9v3.6M104.9 408.9v3.6M147.9 408.9v3.6M149.9 408.9v3.6M154.9 408.9v3.6M158.9 408.9v3.6M161.9 408.9v3.6M162.9 408.9v3.6M165.9 408.9v3.6M177.9 408.9v3.6M209.9 408.9v3.6M213.9 408.9v3.6M252.9 408.9v3.6M260.9 408.9v3.6M263.9 408.9v3.6M267.9 408.9v3.6M289.9 408.9v3.6M306.9 408.9v3.6M314.9 408.9v3.6M316.9 408.9v3.6" stroke="#9590FF" stroke-opacity="0.3" stroke-width="1"/>
<path d="M43.9 408.9v3.6M51.9 408.9v3.6M90.9 408.9v3.6M99.9 408.9v3.6M101.9 408.9v3.6M109.9 408.9v3.6M115.9 408.9v3.6M116.9 408.9v3.6M128.9 408.9v3.6M135.9 408.9v3.6M144.9 408.9v3.6M145.9 408.9v3.6M153.9 408.9v3.6M171.9 408.9v3.6M184.9 408.9v3.6M225.9 408.9v3.6M246.9 408.9v3.6M249.9 408.9v3.6M255.9 408.9v3.6M261.9 408.9v3.6M269.9 408.9v3.6M276.9 408.9v3.6M278.9 408.9v3.6M298.9 408.9v3.6M303.9 408.9v3.6" stroke="#9590FF" stroke-opacity="0.5" stroke-width="1"/>
<path d="M56.9 408.9v3.6M65.9 408.9v3.6M67.9 408.9v3.6M74.9 408.9v3.6M82.9 408.9v3.6M97.9 408.9v3.6M98.9 408.9v3.6M119.9 408.9v3.6M126.9 408.9v3.6M129.9 408.9v3.6M130.9 408.9v3.6M131.9 408.9v3.6M138.9 408.9v3.6M151.9 408.9v3.6M156.9 408.9v3.6M163.9 408.9v3.6M172.9 408.9v3.6M185.9 408.9v3.6M186.9 408.9v3.6M187.9 408.9v3.6M197.9 408.9v3.6M200.9 408.9v3.6M203.9 408.9v3.6M215.9 408.9v3.6M220.9 408.9v3.6M222.9 408.9v3.6M230.9 408.9v3.6M232.9 408.9v3.6M237.9 408.9v3.6M238.9 408.9v3.6M244.9 408.9v3.6M257.9 408.9v3.6M259.9 408.9v3.6M265.9 408.9v3.6M268.9 408.9v3.6M271.9 408.9v3.6M272.9 408.9v3.6M286.9 408.9v3.6M300.9 408.9v3.6M307.9 408.9v3.6M309.9 408.9v3.6" stroke="#9590FF" stroke-opacity="0.7" stroke-width="1"/>
<path d="M39.9 408.9v3.6M48.9 408.9v3.6M57.9 408.9v3.6M73.9 408.9v3.6M77.9 408.9v3.6M93.9 408.9v3.6M108.9 408.9v3.6M120.9 408.9v3.6M137.9 408.9v3.6M139.9 408.9v3.6M150.9 408.9v3.6M159.9 408.9v3.6M170.9 408.9v3.6M174.9 408.9v3.6M180.9 408.9v3.6M198.9 408.9v3.6M199.9 408.9v3.6M201.9 408.9v3.6M207.9 408.9v3.6M211.9 408.9v3.6M236.9 408.9v3.6M243.9 408.9v3.6M248.9 408.9v3.6M253.9 408.9v3.6M254.9 408.9v3.6M258.9 408.9v3.6M275.9 408.9v3.6M282.9 408.9v3.6M285.9 408.9v3.6M290.9 408.9v3.6M292.9 408.9v3.6M293.9 408.9v3.6M313.9 408.9v3.6" stroke="#9590FF" stroke-opacity="0.9" stroke-width="1"/>
<path d="M38.4 333.5l0.6 0.2v-2.1l0.6 0.2v-1.1l1 0.4v-1.9l1 0.4v-1.5l0.4 0.1v-1.5l1 0.4v-1.2l0.4 0.1v-2.7l1.6 0.7v-1l0.2 0.1v-1.7l1 0.4v-2.4l0.8 0.3v-1.3l1 0.4v-2.7l1 0.4v-1.3l0.6 0.3v-0.8l0.2 0v-1.1l0.4 0.2v-2.2l1.6 0.7v-2.4l1.6 0.7v-2.3l1.6 0.6v-1.3l2 0.8v-2l1.8 0.8v-1.3l2 0.8v-2.4l1.8 0.7v-0.9l2 0.8v-1.2l0.4 0.2v-2.4l1.8 0.8v-1.8l4 1.7v-2.7l3 1.2v-2.4l2.2 0.9v-1.6l3 1.2v-1.6l0.4 0.2v-1.9l1.8 0.8v-2.4l2.4 1v-0.9l0.2 0.1v-2l1.6 0.6v-1.8l4.6 1.8v-1.3l0.8 0.3v-1.2l3.6 1.5v-1.6l5 2.1v-1.2l0.2 0.1v-1.5l3.8 1.6v-2.5l2.6 1.1v-1.4l3.8 1.6v-1.8l1 0.4v-1.9l3.8 1.5v-0.8l1.6 0.7v-2.5l2.4 1v-2.1l4.6 1.9v-0.7l4.6 1.8v-2l13 5.3v-1.2l5.2 2.1v-1.8l34.6 14.1v-0.5l3 1.2v-0.6l3.2 1.3v-0.2l4.6 1.8v-0.4l1.8 0.8v-0.6l4.4 1.8v-0.3l1.6 0.7v-0.3l3 1.2v-0.3l1.4 0.6v-0.2l1 0.4v-0.2l2.2 0.9v-0.2l2.4 1v-0.1l0.6 0.2v-0.3l2.4 1v-0.2l0.8 0.3v-0.1l1.4 0.5v-0.3l4.8 2v-0.4l2 0.8v-0.8l6 2.5v-1l6.6 2.7v-0.8l9.4 3.9v-1.4l12 4.9v-0.7l0.2 0v-1.8l12.4 5v-2.2l12.6 5.1v-1.5l9.4 3.8v-0.9l7.2 3v-0.8l1.4 0.5v-1.6l2.4 1v-0.7l2.2 0.9v-2.7l6 2.4v-2l5.2 2.1v-1.4l3 1.2" stroke="#A3A500" stroke-width="0.7" fill="none"/>
<path d="M38.4 333.5l1.4 0.6v-1.9l0.8 0.3v-2l1.8 0.7v-1.8l0.6 0.2v-1.9l2.4 1v-2.8l1.2 0.5v-1.9l0.8 0.3v-0.7l1 0.4v-1.3l0.2 0.1v-1.2l0.6 0.2v-1.6l1.4 0.6v-0.9l0.2 0.1v-1.8l0.6 0.2v-1.9l1.8 0.7v-2.4l1 0.5v-0.8l0.6 0.3v-0.8l0.2 0.1v-2l1.6 0.7v-1.5l1.6 0.6v-1.1l0.6 0.2v-1.1l0.6 0.3v-2.3l1.8 0.7v-2l2.4 1v-1.7l0.4 0.2v-1.3l2.2 0.9v-1.2l1.2 0.5v-1.2l0.8 0.3v-0.8l2 0.8v-0.8l0.8 0.3v-1.2l0.2 0.1v-1.1l1.6 0.6v-2.7l2.6 1v-0.7l0.8 0.3v-1.3l1.2 0.5v-1.2l0.8 0.3v-1.6l2.4 1v-1.6l0.4 0.1v-2.7l2.2 0.9v-2.3l4.8 2v-2l1.6 0.6v-2.5l7.8 3.2v-1.2l2.6 1.1v-0.8l3.2 1.3v-2.2l3.6 1.5v-2l0.8 0.4v-1.8l2.4 1v-1.8l2.4 1v-1l0.4 0.2v-1.1l1.4 0.6v-1.3l3.2 1.3v-0.7l0.2 0.1v-1.4l2.4 1v-1.1l2 0.9v-1.5l5.8 2.4v-0.8l0.2 0.1v-1.1l4.4 1.8v-0.6l0.2 0.1v-1.3l7.2 3v-1.5l2.2 0.9v-1.3l7.8 3.1v-0.6l1.8 0.8v-1.3l18.4 7.5v-0.7l1.4 0.6v-1.3l14 5.7v-0.3l4.4 1.8v-0.4l3.4 1.4v-0.4l3 1.2v-0.4l3 1.2v-0.2l1.8 0.8v-0.3l0.6 0.3v-0.4l4.6 1.9v-0.3l2.4 0.9v-0.2l0.6 0.3v-0.2l1.6 0.7v-0.2l1 0.4v-0.2l1.6 0.6v-0.2l2.6 1v-0.5l5.6 2.3v-0.7l5.6 2.3v-0.8l4.6 1.9v-0.9l4.4 1.8v-1.1l7.4 3v-0.6l7.6 3.1v-1.3l7.2 3v-1.9l9.8 4v-0.7l4.8 1.9v-2.1l4.4 1.8v-0.9l6.4 2.6v-2l7 2.9v-1.5l5.2 2.2v-1.5l9 3.6v-1.6l7 2.9v-1.7l5.2 2.1" stroke="#39B600" stroke-width="0.7" fill="none"/>
<path d="M38.4 333.5l0.6 0.2v-1.6l2.2 0.8v-2.2l1.2 0.5v-1.7l1.6 0.7v-2.5l1.6 0.6v-2.7l1.8 0.7v-2.4l1.6 0.7v-1.5l0.8 0.3v-1.7l0.6 0.2v-1.7l1.8 0.8v-2.2l0.2 0.1v-2.2l2.2 0.9v-1.8l0.4 0.2v-1.9l2.2 0.9v-1.9l2.6 1v-1.5l3.8 1.5v-2.7l2 0.8v-1.2l3.6 1.4v-1.8l1.4 0.5v-1.9l1 0.4v-1.9l1.4 0.6v-0.7l0.6 0.2v-1.7l1.4 0.5v-0.7l0.6 0.2v-1.8l2.2 0.9v-1.2l1.2 0.5v-1l0.2 0v-2l1.8 0.7v-1.1l0.4 0.2v-1.2l1.6 0.6v-2.4l2.2 0.9v-1.7l3.6 1.4v-2.2l6.2 2.5v-1l3.6 1.5v-1.8l3.6 1.5v-1.1l1 0.4v-1.3l4.4 1.8v-1.2l1.8 0.7v-1.9l3.4 1.4v-1.5l2.8 1.2v-1.6l1.4 0.6v-1.6l3.2 1.3v-0.8l1.4 0.6v-1.5l4.6 1.8v-1.5l5 2.1v-0.9l0.2 0.1v-1.4l4.4 1.8v-1.4l7.4 3v-1.8l22 9v-0.9l2 0.8v-1.3l11.6 4.8v-0.8l1.6 0.6v-0.6l4.8 2v-0.4l0.2 0.1v-0.4l3.6 1.4v-0.6l3 1.2v-0.6l2.2 0.9v-0.2l1.2 0.5v-0.4l2.2 0.9v-0.1l0.6 0.2v-0.2l0.2 0.1v-0.2l1.6 0.7v-0.2l0.2 0.1v-0.1l0.8 0.3v-0.2l1.2 0.4v-0.1l1 0.4v-0.2l0.8 0.3v-0.2l1 0.5v-0.3l1.6 0.7v-0.1l0.4 0.1v-0.3l1.6 0.7v-0.3l1 0.4v-0.4l1.8 0.7v-0.3l2 0.8v-0.2l1.4 0.5v-0.3l1.2 0.5v-0.3l2.6 1.1v-0.6l3 1.2v-0.6l4 1.6v-1l3.8 1.5v-0.8l5.6 2.3v-1.4l7.4 3v-1.6l13.6 5.6v-1.6l10.2 4.1v-1.9l10.2 4.2v-0.9l0.2 0v-1l7.4 3v-1.4l4.4 1.8v-1.7l11 4.5v-1l1.2 0.5v-2.3l7.6 3.1v-2l5.2 2.1v-1.1l0.2 0v-2.5l3.6 1.5" stroke="#00BF7D" stroke-width="0.7" fill="none"/>
<path d="M38.4 333.5l1.2 0.5v-1.5l0.2 0.1v-1.2l1 0.4v-2.6l2.2 0.9v-1.7l1.4 0.6v-2.7l1.4 0.6v-1l1.8 0.8v-2.6l1.6 0.7v-2.8l3.2 1.3v-0.8l1.4 0.6v-2.2l2.4 0.9v-1.1l1.2 0.5v-2.3l1.8 0.7v-1.6l2 0.9v-2.9l3 1.3v-1.8l4 1.6v-2.6l2.8 1.1v-1.9l3 1.2v-1.5l1 0.4v-2.3l3.4 1.4v-2.7l5.4 2.2v-0.8l0.6 0.2v-1.9l3.4 1.4v-2.6l4 1.7v-2.3l3 1.2v-1.7l2.4 1v-0.8l0.2 0.1v-1.5l3.8 1.5v-1.2l0.8 0.3v-2.5l2.4 1v-2.1l4.2 1.7v-0.8l0.2 0.1v-0.8l1 0.4v-0.7l1 0.4v-2.5l2.6 1.1v-1.1l3 1.2v-1.1l1.8 0.7v-0.7l0.2 0.1v-1.4l2.4 1v-1.3l2.2 0.9v-2l3.2 1.3v-2.3l5.6 2.2v-1.6l4.2 1.7v-1.2l3 1.2v-2l3 1.2v-0.6l2 0.8v-0.7l1.6 0.6v-0.5l1.4 0.6v-1l2.6 1.1v-1.2l1 0.4v-0.6l2 0.8v-0.5l0.8 0.3v-1.8l4.8 2v-1.5l2.6 1.1v-1.5l1.6 0.6v-1.1l3 1.3v-1.4l3.8 1.6v-1.4l3 1.2v-1.1l5.4 2.2v-0.5l0.4 0.2v-1.1l3.2 1.3v-1.1l6.6 2.7v-0.4l0.6 0.2v-0.3l2.4 1v-0.7l4.6 1.9v-0.4l4.6 1.9v-0.2l3 1.3v-0.3l27.6 11.2v-1.1l13.6 5.5v-1.4l7.6 3.1v-1.6l5.6 2.3v-0.7l7 2.8v-0.9l3 1.3v-1.8l10.4 4.3v-1.8l8.8 3.6v-1.9l13 5.3v-1.5l6.4 2.6v-1.8l3.2 1.3v-1.6l4.8 1.9v-1.9l3.2 1.3" stroke="#E76BF3" stroke-width="0.7" fill="none"/>
<path d="M38.4 333.5l19 7.7v-2.4l2.2 0.9v-1.2l0.2 0.1v-1.2l5.8 2.4v-1.3l48.2 19.6v-2l4.2 1.7v-0.8l0.6 0.3v-1l3.6 1.5v-1l4.4 1.8v-0.9l2.6 1v-0.8l2.2 0.9v-1.6l5.4 2.2v-1.7l4.2 1.7v-1.8l5.8 2.4v-1.5l5.2 2.1v-1.5l5 2v-1.7l8.8 3.6v-0.8l6.4 2.6v-1l3.6 1.4v-0.8l6.2 2.5v-0.4l0.2 0.1v-0.8l6.4 2.6v-0.5l2.6 1v-0.6l5.6 2.3v-0.4l2.2 0.9v-0.2l1.8 0.7v-0.3l2.6 1.1v-0.2l1.6 0.7v-0.2l4.2 1.7v-0.2l23.4 9.5v-0.7l5.8 2.3v-0.4l1.4 0.6v-1.6l2.4 1v-0.9l1.2 0.4v-0.7l3 1.2v-0.6l1.8 0.8v-1.7l2.4 1v-1.2l2.6 1.1v-1.5l2.8 1.1v-1.4l2.6 1v-1l0.2 0.1v-1.3l2.4 1v-1.2l3 1.2v-1.3l2.6 1.1v-0.7l0.4 0.2v-1.6l1.8 0.7v-1.2l1.4 0.6v-1.3l1.8 0.7v-1.8l1.2 0.4v-1.9l0.6 0.3v-1.8l1 0.4v-2.3l1 0.4v-1.5l1.2 0.5v-2l0.4 0.2v-1.6l1.2 0.4v-0.8l1.2 0.5v-2.4l1.8 0.8v-2.4l5.2 2.1v-2.2l1.8 0.8v-1.1l3 1.2v-1.4l1.6 0.7v-0.9l0.4 0.1v-2.4l1.8 0.8v-1.4l1.4 0.6v-0.9l0.8 0.3v-2.3l2.4 0.9v-1.3l1 0.4v-0.7l0.8 0.3v-2.6l1.6 0.6v-1.4l1.4 0.5v-1.7l0.4 0.2v-1.2l1.2 0.5v-1.2l0.8 0.3v-2.7l1.2 0.5v-0.9l0.6 0.2v-0.8l0.2 0.1v-1l1.2 0.5v-1.2l0.4 0.2v-2l0.4 0.2v-1.5l0.8 0.3v-2.7l1.2 0.5v-1.2l0.8 0.3v-2.5l0.6 0.3v-2.2l0.8 0.4v-0.8l0.8 0.3v-1.2l0.2 0v-2.5l0.6 0.3" stroke="#F8766D" stroke-width="0.7" fill="none"/>
<path d="M38.4 333.5l7.4 3v-1.2l5 2v-1.1l1.8 0.7v-1l4.6 1.9v-0.9l3.4 1.4v-2.8l14 5.7v-2l4.4 1.8v-2.5l11.4 4.7v-2.6l6.6 2.7v-1.2l5.4 2.2v-2.4l6 2.5v-1.4l6.6 2.7v-1.2l5 2v-2.4l5.8 2.3v-2.2l5.8 2.3v-0.6l1.6 0.7v-0.6l3 1.2v-2.1l5.6 2.3v-1.6l3.6 1.5v-1.4l3.2 1.3v-1.2l8 3.3v-0.6l0.2 0.1v-1.6l5.8 2.4v-0.5l3 1.3v-1.5l5.6 2.2v-0.8l9.4 3.8v-0.7l1.6 0.6v-0.5l29.8 12.1v-0.3l8.8 3.6v-0.4l4.8 2v-1l2.8 1.1v-0.3l3.6 1.5v-0.6l2.4 1v-1l1.2 0.5v-1.5l4 1.7v-1.7l4 1.7v-1.2l1.6 0.6v-1l2.8 1.2v-1.4l3 1.2v-1.2l1.2 0.5v-2l3.4 1.4v-1.6l1.6 0.7v-1.6l3.4 1.4v-1.4l0.8 0.3v-0.7l0.8 0.3v-1.9l2.8 1.2v-1.8l2.4 1v-1.7l2.2 0.9v-0.6l0.4 0.1v-0.7l0.8 0.3v-1.9l2.4 1v-1.8l3 1.2v-0.9l0.2 0.1v-2l2.6 1.1v-0.8l0.4 0.2v-1.2l1.8 0.8v-2.3l2.2 0.9v-1.2l0.8 0.3v-0.8l2 0.9v-1l0.2 0.1v-1.3l2.6 1.1v-0.8l0.2 0.1v-1.7l3.6 1.5v-1.8l2.8 1.2v-2.4l1.6 0.7v-0.9l2 0.8v-1.7l1.6 0.6v-0.8l0.6 0.3v-2.1l3.6 1.5v-2.6l1.2 0.5v-2.2l2 0.8v-1.4l1.2 0.5v-2.6l1.6 0.6v-1.9l0.6 0.2v-0.8l0.2 0v-2.6l1.2 0.5v-1.2l0.8 0.3v-1.5l0.6 0.3v-0.8l0.4 0.2v-0.9l0.6 0.3v-2.3l1.2 0.4v-1l0.6 0.3v-2.7" stroke="#00BFC4" stroke-width="0.7" fill="none"/>
<path d="M38.4 333.5l5.2 2.1v-1.5l6 2.4v-1.4l4.2 1.7v-1l2.8 1.2v-2.6l6.8 2.8v-2.6l8.6 3.5v-2.7l8.6 3.5v-0.8l2.2 0.9v-2l5.8 2.3v-1.8l3.2 1.3v-1l3.8 1.5v-1.9l4 1.7v-1.3l4.4 1.8v-2.1l8.4 3.4v-1.5l3.2 1.3v-1.5l4.6 1.8v-2.2l5 2.1v-0.8l2.8 1.1v-0.9l2 0.8v-1.7l7.4 3v-1l0.2 0.1v-1.7l6 2.5v-0.9l4 1.6v-1.2l3.2 1.3v-1.3l3.8 1.6v-1.6l2.2 0.9v-1.2l5.2 2.2v-1.4l4.4 1.8v-1l3.6 1.5v-1.4l4.4 1.8v-1.3l11.4 4.6v-0.4l0.2 0.1v-1l35.8 14.6v-0.3l2.6 1v-0.6l1 0.4v-0.4l3.4 1.4v-0.4l3.4 1.3v-0.3l0.8 0.3v-1.2l2.6 1v-0.8l5 2.1v-1.4l2.2 0.9v-0.8l1.8 0.8v-1.9l1.6 0.7v-1.6l3.4 1.4v-0.9l1.4 0.5v-1.9l2 0.8v-0.8l1.2 0.5v-0.9l1 0.4v-1.4l2.2 0.9v-1.9l3 1.2v-0.9l2.2 0.9v-1.3l0.6 0.3v-0.7l2 0.8v-1.2l1.2 0.5v-0.8l1.4 0.6v-0.6l0.2 0v-1.2l1.8 0.7v-1.4l3.2 1.3v-1.5l0.6 0.2v-1.5l2.4 1v-1.4l2.6 1v-0.9l0.6 0.3v-1.2l3.2 1.3v-2.3l1.8 0.7v-1.3l1.2 0.5v-1.2l2 0.8v-1.3l1.4 0.6v-1.9l5.2 2.1v-2.6l2.6 1v-2.3l3 1.3v-1.1l0.8 0.3v-2.6l3.6 1.5v-1.7l3 1.2v-1.6l0.8 0.3v-1.5l1.8 0.7v-2.2l1.2 0.5v-1.1l1 0.4v-0.9l0.6 0.2v-1.2l0.2 0.1v-2.7l1.8 0.7v-1.4l1.4 0.6v-2.4l1.2 0.5v-2.2l0.2 0.1" stroke="#D89000" stroke-width="0.7" fill="none"/>
<path d="M38.4 333.5l1.8 0.7v-1.8l10 4.1v-2l6.2 2.6v-1.8l5.8 2.4v-1.3l3 1.2v-2.8l7.8 3.1v-1.9l6.4 2.6v-1.8l2.6 1v-1.4l3.8 1.6v-2.2l7.2 2.9v-1.7l6.2 2.5v-0.8l2.8 1.2v-1.7l5.2 2.1v-1.5l6.4 2.6v-0.9l0.2 0.1v-0.8l3.2 1.3v-0.8l3.4 1.4v-2l6 2.5v-2.2l5.4 2.2v-1.1l2.2 0.9v-1.7l3.6 1.5v-1l3.4 1.4v-2l6.2 2.5v-0.9l5 2v-1.5l3.8 1.6v-0.8l0.2 0.1v-0.8l4.2 1.7v-0.7l2.2 0.9v-0.8l2.6 1.1v-1.2l5 2v-0.6l0.2 0.1v-0.6l4 1.6v-1.3l8.4 3.5v-0.4l0.6 0.2v-0.5l39.8 16.2v-0.7l6 2.5v-1.1l3.2 1.3v-1.2l5.4 2.2v-1.5l2.8 1.2v-0.7l2 0.9v-1l2 0.8v-1.2l1.8 0.7v-1.7l1.8 0.7v-1.9l3 1.2v-1l1.2 0.5v-0.8l1 0.4v-0.7l1.6 0.7v-1.3l1.4 0.6v-1l1.6 0.6v-0.9l0.4 0.2v-1.3l2.4 1v-0.7l0.2 0.1v-0.9l0.6 0.3v-1.6l3.2 1.3v-2.2l3.8 1.6v-1.1l0.2 0.1v-2.3l2.8 1.1v-1.9l4.8 1.9v-1.5l1 0.4v-1.6l2.2 0.9v-1l1 0.4v-2.1l4.6 1.8v-1.4l0.2 0.1v-0.9l2 0.8v-1.8l1.8 0.7v-2.3l3.8 1.6v-0.9l1.8 0.7v-2.5l4.2 1.7v-1.2l0.8 0.3v-2.2l2.8 1.2v-1.6l1.4 0.6v-2.6l2.6 1.1v-1.8l1.8 0.8v-1.1l0.2 0.1v-1.9l1.8 0.7v-2.5l1.4 0.5v-2.6l2.2 0.9v-1.7l0.6 0.2v-1.1l1.4 0.5v-2.7l1.2 0.5" stroke="#9590FF" stroke-width="0.7" fill="none"/>
<path d="M38.4 333.5l5.6 2.3v-2.2l2.6 1v-1.9l10.2 4.2v-2.4l7 2.8v-2.7l5.2 2.1v-1l4.8 2v-2.7l4.8 2v-1.2l8.2 3.3v-2.2l5.6 2.3v-1.1l0.2 0.1v-2l5.2 2.1v-2.5l10.4 4.2v-2.5l8.4 3.4v-2.2l6 2.4v-0.7l1.6 0.6v-1.7l6.4 2.6v-1.7l4.4 1.7v-2.1l5.6 2.3v-1.6l2.4 1v-1.4l4.2 1.7v-0.8l4.4 1.8v-1.8l5 2.1v-1.4l3.8 1.5v-0.5l2.8 1.1v-0.7l1.6 0.6v-1.4l4.2 1.7v-1.4l6.6 2.7v-1.1l1.8 0.7v-0.8l10.4 4.3v-0.6l4.8 2v-0.6l23.6 9.6v-0.1l1.4 0.5v-0.3l8.2 3.4v-0.4l0.2 0.1v-0.4l4.2 1.7v-1.2l2.6 1.1v-0.8l4.2 1.8v-0.9l1.2 0.5v-0.8l3.6 1.5v-0.8l0.2 0v-1.6l2.8 1.1v-1.1l1.4 0.6v-1.6l3.4 1.4v-1.3l2.4 0.9v-0.5l0.2 0v-2l2.4 1v-1.3l1.8 0.7v-2.1l4 1.6v-1.4l1.6 0.7v-2l3.2 1.3v-1.3l2.2 0.9v-1.5l0.8 0.3v-1.1l2.2 0.9v-1.5l2.2 0.9v-1.8l1.6 0.7v-1.8l4.2 1.7v-2.4l3.4 1.4v-1.7l2 0.8v-0.7l1.2 0.4v-0.6l0.2 0v-2.5l4.4 1.8v-1.9l1.4 0.6v-2l3.2 1.3v-1.7l4.4 1.8v-2l0.4 0.2v-2.2l3.2 1.3v-1.6l3.4 1.4v-2l1.4 0.5v-2.1l2.2 0.9v-1.1l0.2 0.1v-1.9l1.2 0.5v-0.7l1.4 0.5v-2.5l0.8 0.3v-1.8l1.8 0.7v-1.4l0.6 0.2v-1.3l0.4 0.1v-2l1.6 0.7" stroke="#00B0F6" stroke-width="0.7" fill="none"/>
<path d="M38.4 333.5l1.6 0.7v-2l7.8 3.1v-0.7l0.2 0.1v-2.3l9 3.6v-2.2l3.2 1.3v-1.5l8 3.3v-2.7l3.6 1.4v-1.3l8.4 3.4v-1.6l4 1.6v-0.9l0.2 0.1v-1.8l4.2 1.7v-1.7l5.6 2.3v-2.1l8.6 3.5v-2.1l6.8 2.7v-1.8l4.8 2v-2l6.6 2.7v-2l3.4 1.4v-1.7l4.4 1.8v-1.8l6.6 2.6v-1.1l3.6 1.4v-0.5l1.6 0.6v-1.3l4.6 1.9v-1.6l1.4 0.6v-1.8l7.8 3.2v-1.2l2.2 0.9v-0.9l4.2 1.7v-1.5l2.8 1.2v-1.5l7 2.8v-0.8l2.2 0.9v-1.2l5.6 2.3v-0.4l1.2 0.5v-0.9l10 4.1v-0.7l19 7.8v-0.3l10.6 4.3v-0.6l6.6 2.7v-0.4l0.2 0.1v-0.7l4.8 1.9v-0.7l1.8 0.8v-0.4l1 0.4v-1.4l6 2.5v-1.1l1.8 0.7v-1.5l3.6 1.5v-1.1l1 0.4v-1.4l1.4 0.6v-1.4l3.6 1.5v-0.6l0.2 0v-1.6l2.2 0.9v-1.4l2 0.9v-0.8l0.6 0.3v-1.1l1.8 0.7v-0.5l1.4 0.5v-1.3l1.4 0.6v-1.9l3.6 1.5v-1.9l1.8 0.7v-1.5l3.8 1.6v-1l0.6 0.2v-0.7l1.4 0.6v-1.7l0.8 0.3v-0.6l2.8 1.2v-1.9l1.6 0.7v-1.4l2.6 1.1v-1.5l1.6 0.7v-1.9l1.8 0.8v-0.8l2.4 0.9v-2l2.8 1.1v-2.5l3.4 1.3v-1.2l2 0.8v-1l1.8 0.7v-1l1.4 0.6v-2.5l2.2 0.9v-2.1l4.4 1.8v-2.1l1.6 0.6v-1.4l1 0.4v-2.6l3.4 1.4v-1.1l0.2 0.1v-1.2l0.8 0.3v-2.6l2.6 1.1v-1.7l0.2 0.1v-1.7l2 0.8v-1.9l1.4 0.5v-2.7l0.6 0.3" stroke="#FF62BC" stroke-width="0.7" fill="none"/>
<line x1="174" y1="282.7" x2="178.2" y2="282.7" stroke="#F8766D" stroke-width="1.2" stroke-opacity="0.75"/>
<text x="180.2" y="283.8" font-size="8.26">autophagosome</text>
<line x1="174" y1="289.4" x2="178.2" y2="289.4" stroke="#D89000" stroke-width="1.2" stroke-opacity="0.75"/>
<text x="180.2" y="290.5" font-size="8.26">autophagy</text>
<line x1="174" y1="296" x2="178.2" y2="296" stroke="#A3A500" stroke-width="1.2" stroke-opacity="0.75"/>
<text x="180.2" y="297.1" font-size="8.26">collagen−containing extracellular matrix</text>
<line x1="174" y1="302.7" x2="178.2" y2="302.7" stroke="#39B600" stroke-width="1.2" stroke-opacity="0.75"/>
<text x="180.2" y="303.8" font-size="8.26">DNA−templated DNA replication</text>
<line x1="174" y1="309.4" x2="178.2" y2="309.4" stroke="#00BF7D" stroke-width="1.2" stroke-opacity="0.75"/>
<text x="180.2" y="310.5" font-size="8.26">extracellular matrix</text>
<line x1="174" y1="316.1" x2="178.2" y2="316.1" stroke="#00BFC4" stroke-width="1.2" stroke-opacity="0.75"/>
<text x="180.2" y="317.2" font-size="8.26">macroautophagy</text>
<line x1="174" y1="322.7" x2="178.2" y2="322.7" stroke="#00B0F6" stroke-width="1.2" stroke-opacity="0.75"/>
<text x="180.2" y="323.8" font-size="8.26">process utilizing autophagic mechanism</text>
<line x1="174" y1="329.4" x2="178.2" y2="329.4" stroke="#9590FF" stroke-width="1.2" stroke-opacity="0.75"/>
<text x="180.2" y="330.5" font-size="8.26">regulation of autophagy</text>
<line x1="174" y1="336.1" x2="178.2" y2="336.1" stroke="#E76BF3" stroke-width="1.2" stroke-opacity="0.75"/>
<text x="180.2" y="337.2" font-size="8.26">structural molecule activity</text>
<line x1="174" y1="342.7" x2="178.2" y2="342.7" stroke="#FF62BC" stroke-width="1.2" stroke-opacity="0.75"/>
<text x="180.2" y="343.8" font-size="8.26">vacuole</text>
<line x1="68.5" y1="534.3" x2="68.5" y2="718.5" stroke="#EBEBEB" stroke-width="0.6"/>
<line x1="102.5" y1="534.3" x2="102.5" y2="718.5" stroke="#EBEBEB" stroke-width="0.6"/>
<line x1="136.4" y1="534.3" x2="136.4" y2="718.5" stroke="#EBEBEB" stroke-width="0.6"/>
<line x1="170.4" y1="534.3" x2="170.4" y2="718.5" stroke="#EBEBEB" stroke-width="0.6"/>
<line x1="204.3" y1="534.3" x2="204.3" y2="718.5" stroke="#EBEBEB" stroke-width="0.6"/>
<line x1="238.3" y1="534.3" x2="238.3" y2="718.5" stroke="#EBEBEB" stroke-width="0.6"/>
<line x1="272.2" y1="534.3" x2="272.2" y2="718.5" stroke="#EBEBEB" stroke-width="0.6"/>
<line x1="306.2" y1="534.3" x2="306.2" y2="718.5" stroke="#EBEBEB" stroke-width="0.6"/>
<polygon points="34.6,700.4 34.6,683.9 38.1,683.9 41.7,684 45.2,684 48.8,684 52.3,684.1 55.9,684.1 59.4,684.2 63,684.3 66.5,684.3 70.1,684.4 73.6,684.5 77.2,684.6 80.7,684.7 84.3,684.8 87.8,684.9 91.4,685.1 94.9,685.2 98.5,685.4 102,685.5 105.6,685.7 109.1,686 112.7,686.3 116.2,686.6 119.8,686.9 123.3,687.2 126.8,687.6 130.4,688 133.9,688.4 137.5,688.8 141,689.2 144.6,689.6 148.1,690.1 151.7,690.5 155.2,691 158.8,691.4 162.3,691.9 165.9,692.4 169.4,693 173,693.5 176.5,694.2 180.1,695 183.6,695.9 187.2,696.9 190.7,697.9 194.3,699 197.8,700.1 201.4,701.2 204.9,702.2 208.5,703.2 212,704.3 215.6,705.4 219.1,706.5 222.6,707.4 226.2,708.3 229.7,709 233.3,709.8 236.8,710.4 240.4,711 243.9,711.5 247.5,712.1 251,712.5 254.6,712.9 258.1,713.3 261.7,713.6 265.2,713.9 268.8,714.2 272.3,714.4 275.9,714.7 279.4,714.9 283,715.1 286.5,715.3 290.1,715.5 293.6,715.6 297.2,715.8 300.7,716 304.3,716.1 307.8,716.2 311.3,716.3 314.9,716.3 314.9,700.4" fill="#BEBEBE"/>
<line x1="34.8" y1="534.3" x2="34.8" y2="719" stroke="#A3A3A3" stroke-width="1"/>
<line x1="34.3" y1="718.5" x2="314.9" y2="718.5" stroke="#A3A3A3" stroke-width="1"/>
<line x1="33.2" y1="560.5" x2="34.8" y2="560.5" stroke="#A3A3A3" stroke-width="0.7"/>
<text x="33.1" y="562.7" font-size="8.1" text-anchor="end" fill="#3A3A3A" class="t">0.25</text>
<line x1="33.2" y1="588.1" x2="34.8" y2="588.1" stroke="#A3A3A3" stroke-width="0.7"/>
<text x="33.1" y="590.3" font-size="8.1" text-anchor="end" fill="#3A3A3A" class="t">0.00</text>
<line x1="33.2" y1="615.5" x2="34.8" y2="615.5" stroke="#A3A3A3" stroke-width="0.7"/>
<text x="33.1" y="617.7" font-size="8.1" text-anchor="end" fill="#3A3A3A" class="t">−0.25</text>
<line x1="33.2" y1="643.2" x2="34.8" y2="643.2" stroke="#A3A3A3" stroke-width="0.7"/>
<text x="33.1" y="645.4" font-size="8.1" text-anchor="end" fill="#3A3A3A" class="t">−0.50</text>
<line x1="33.2" y1="684.1" x2="34.8" y2="684.1" stroke="#A3A3A3" stroke-width="0.7"/>
<text x="33.4" y="687.8" font-size="8.1" text-anchor="end" fill="#3A3A3A" class="t">1.0</text>
<line x1="33.2" y1="692.2" x2="34.8" y2="692.2" stroke="#A3A3A3" stroke-width="0.7"/>
<text x="33.4" y="696" font-size="8.1" text-anchor="end" fill="#3A3A3A" class="t">0.5</text>
<line x1="33.2" y1="700.1" x2="34.8" y2="700.1" stroke="#A3A3A3" stroke-width="0.7"/>
<text x="33.4" y="703.8" font-size="8.1" text-anchor="end" fill="#3A3A3A" class="t">0.0</text>
<line x1="33.2" y1="708.5" x2="34.8" y2="708.5" stroke="#A3A3A3" stroke-width="0.7"/>
<text x="33.4" y="712.7" font-size="8.1" text-anchor="end" fill="#3A3A3A" class="t">−0.5</text>
<line x1="33.2" y1="716.8" x2="34.8" y2="716.8" stroke="#A3A3A3" stroke-width="0.7"/>
<text x="33.4" y="721.1" font-size="8.1" text-anchor="end" fill="#3A3A3A" class="t">−1.0</text>
<line x1="102.5" y1="718.5" x2="102.5" y2="720.1" stroke="#A3A3A3" stroke-width="0.7"/>
<text x="101.9" y="727.3" font-size="8.1" text-anchor="middle" fill="#3A3A3A" class="t">3000</text>
<line x1="170.4" y1="718.5" x2="170.4" y2="720.1" stroke="#A3A3A3" stroke-width="0.7"/>
<text x="170.4" y="727.3" font-size="8.1" text-anchor="middle" fill="#3A3A3A" class="t">6000</text>
<line x1="238.3" y1="718.5" x2="238.3" y2="720.1" stroke="#A3A3A3" stroke-width="0.7"/>
<text x="237.8" y="727.3" font-size="8.1" text-anchor="middle" fill="#3A3A3A" class="t">9000</text>
<line x1="306.2" y1="718.5" x2="306.2" y2="720.1" stroke="#A3A3A3" stroke-width="0.7"/>
<text x="306.9" y="727.3" font-size="8.1" text-anchor="middle" fill="#3A3A3A" class="t">12000</text>
<text x="196.2" y="735.2" font-size="8.4" text-anchor="middle">Rank in Ordered Dataset</text>
<text x="11.4" y="591.5" font-size="8.3" text-anchor="middle" transform="rotate(-90 11.4 591.5)">Running Enrichment Score</text>
<text x="11.4" y="688.8" font-size="8.24" text-anchor="middle" transform="rotate(-90 11.4 688.8)">Ranked List Metric</text>
<text x="0.6" y="510.7" font-size="16" font-weight="bold">(E)</text>
<path d="M46.1 644.8v3.7M49.1 644.8v3.7M56.1 644.8v3.7M57.1 644.8v3.7M63.1 644.8v3.7M69.1 644.8v3.7M105.1 644.8v3.7M111.1 644.8v3.7M112.1 644.8v3.7M114.1 644.8v3.7M119.1 644.8v3.7M126.1 644.8v3.7M133.1 644.8v3.7M146.1 644.8v3.7M148.1 644.8v3.7M151.1 644.8v3.7M152.1 644.8v3.7M159.1 644.8v3.7M165.1 644.8v3.7M168.1 644.8v3.7M175.1 644.8v3.7M189.1 644.8v3.7M198.1 644.8v3.7M207.1 644.8v3.7M208.1 644.8v3.7M211.1 644.8v3.7M212.1 644.8v3.7M221.1 644.8v3.7M224.1 644.8v3.7M274.1 644.8v3.7M278.1 644.8v3.7M283.1 644.8v3.7M287.1 644.8v3.7M289.1 644.8v3.7M293.1 644.8v3.7M310.1 644.8v3.7M311.1 644.8v3.7" stroke="#00BF7D" stroke-opacity="0.2" stroke-width="1"/>
<path d="M41.1 644.8v3.7M42.1 644.8v3.7M44.1 644.8v3.7M47.1 644.8v3.7M53.1 644.8v3.7M61.1 644.8v3.7M72.1 644.8v3.7M79.1 644.8v3.7M86.1 644.8v3.7M87.1 644.8v3.7M93.1 644.8v3.7M95.1 644.8v3.7M106.1 644.8v3.7M107.1 644.8v3.7M113.1 644.8v3.7M116.1 644.8v3.7M127.1 644.8v3.7M131.1 644.8v3.7M136.1 644.8v3.7M139.1 644.8v3.7M145.1 644.8v3.7M157.1 644.8v3.7M169.1 644.8v3.7M180.1 644.8v3.7M196.1 644.8v3.7M209.1 644.8v3.7M231.1 644.8v3.7M240.1 644.8v3.7M255.1 644.8v3.7M272.1 644.8v3.7M298.1 644.8v3.7" stroke="#00BF7D" stroke-opacity="0.3" stroke-width="1"/>
<path d="M36.1 644.8v3.7M38.1 644.8v3.7M45.1 644.8v3.7M48.1 644.8v3.7M58.1 644.8v3.7M59.1 644.8v3.7M66.1 644.8v3.7M77.1 644.8v3.7M81.1 644.8v3.7M82.1 644.8v3.7M85.1 644.8v3.7M92.1 644.8v3.7M97.1 644.8v3.7M108.1 644.8v3.7M125.1 644.8v3.7M134.1 644.8v3.7M143.1 644.8v3.7M144.1 644.8v3.7M153.1 644.8v3.7M155.1 644.8v3.7M199.1 644.8v3.7M202.1 644.8v3.7M216.1 644.8v3.7M238.1 644.8v3.7M243.1 644.8v3.7M246.1 644.8v3.7M267.1 644.8v3.7M290.1 644.8v3.7" stroke="#00BF7D" stroke-opacity="0.5" stroke-width="1"/>
<path d="M37.1 644.8v3.7M39.1 644.8v3.7M50.1 644.8v3.7M52.1 644.8v3.7M55.1 644.8v3.7M60.1 644.8v3.7M65.1 644.8v3.7M68.1 644.8v3.7M84.1 644.8v3.7M89.1 644.8v3.7M91.1 644.8v3.7M94.1 644.8v3.7M103.1 644.8v3.7M118.1 644.8v3.7M120.1 644.8v3.7M135.1 644.8v3.7M161.1 644.8v3.7M188.1 644.8v3.7M195.1 644.8v3.7M223.1 644.8v3.7M237.1 644.8v3.7M242.1 644.8v3.7M247.1 644.8v3.7M248.1 644.8v3.7M259.1 644.8v3.7M269.1 644.8v3.7M270.1 644.8v3.7M276.1 644.8v3.7M306.1 644.8v3.7" stroke="#00BF7D" stroke-opacity="0.7" stroke-width="1"/>
<path d="M43.1 644.8v3.7M51.1 644.8v3.7M67.1 644.8v3.7M71.1 644.8v3.7M73.1 644.8v3.7M78.1 644.8v3.7M83.1 644.8v3.7M90.1 644.8v3.7M96.1 644.8v3.7M99.1 644.8v3.7M101.1 644.8v3.7M104.1 644.8v3.7M171.1 644.8v3.7M172.1 644.8v3.7M179.1 644.8v3.7M182.1 644.8v3.7M193.1 644.8v3.7M235.1 644.8v3.7M285.1 644.8v3.7M301.1 644.8v3.7M302.1 644.8v3.7M303.1 644.8v3.7M307.1 644.8v3.7" stroke="#00BF7D" stroke-opacity="0.9" stroke-width="1"/>
<path d="M50.1 648.5v3.7M73.1 648.5v3.7M77.1 648.5v3.7M101.1 648.5v3.7M102.1 648.5v3.7M105.1 648.5v3.7M107.1 648.5v3.7M116.1 648.5v3.7M125.1 648.5v3.7M130.1 648.5v3.7M133.1 648.5v3.7M159.1 648.5v3.7M160.1 648.5v3.7M179.1 648.5v3.7M187.1 648.5v3.7M199.1 648.5v3.7M203.1 648.5v3.7M213.1 648.5v3.7M228.1 648.5v3.7M231.1 648.5v3.7M236.1 648.5v3.7M243.1 648.5v3.7M247.1 648.5v3.7M251.1 648.5v3.7M270.1 648.5v3.7M277.1 648.5v3.7M279.1 648.5v3.7M281.1 648.5v3.7M288.1 648.5v3.7M299.1 648.5v3.7M302.1 648.5v3.7M310.1 648.5v3.7" stroke="#E76BF3" stroke-opacity="0.2" stroke-width="1"/>
<path d="M60.1 648.5v3.7M64.1 648.5v3.7M83.1 648.5v3.7M84.1 648.5v3.7M96.1 648.5v3.7M119.1 648.5v3.7M129.1 648.5v3.7M139.1 648.5v3.7M183.1 648.5v3.7M195.1 648.5v3.7M200.1 648.5v3.7M215.1 648.5v3.7M217.1 648.5v3.7M229.1 648.5v3.7M238.1 648.5v3.7M285.1 648.5v3.7M287.1 648.5v3.7M309.1 648.5v3.7M312.1 648.5v3.7" stroke="#E76BF3" stroke-opacity="0.3" stroke-width="1"/>
<path d="M47.1 648.5v3.7M51.1 648.5v3.7M81.1 648.5v3.7M106.1 648.5v3.7M113.1 648.5v3.7M120.1 648.5v3.7M178.1 648.5v3.7M185.1 648.5v3.7M198.1 648.5v3.7M205.1 648.5v3.7M239.1 648.5v3.7M245.1 648.5v3.7M255.1 648.5v3.7M272.1 648.5v3.7M286.1 648.5v3.7M292.1 648.5v3.7M293.1 648.5v3.7M313.1 648.5v3.7" stroke="#E76BF3" stroke-opacity="0.5" stroke-width="1"/>
<path d="M59.1 648.5v3.7M94.1 648.5v3.7M121.1 648.5v3.7M137.1 648.5v3.7M152.1 648.5v3.7M164.1 648.5v3.7M176.1 648.5v3.7M181.1 648.5v3.7M232.1 648.5v3.7M233.1 648.5v3.7M244.1 648.5v3.7M248.1 648.5v3.7M254.1 648.5v3.7M258.1 648.5v3.7M259.1 648.5v3.7M260.1 648.5v3.7M262.1 648.5v3.7M275.1 648.5v3.7M282.1 648.5v3.7M297.1 648.5v3.7M304.1 648.5v3.7" stroke="#E76BF3" stroke-opacity="0.7" stroke-width="1"/>
<path d="M63.1 648.5v3.7M66.1 648.5v3.7M68.1 648.5v3.7M69.1 648.5v3.7M72.1 648.5v3.7M90.1 648.5v3.7M91.1 648.5v3.7M92.1 648.5v3.7M100.1 648.5v3.7M126.1 648.5v3.7M140.1 648.5v3.7M158.1 648.5v3.7M173.1 648.5v3.7M177.1 648.5v3.7M188.1 648.5v3.7M190.1 648.5v3.7M191.1 648.5v3.7M194.1 648.5v3.7M197.1 648.5v3.7M212.1 648.5v3.7M220.1 648.5v3.7M223.1 648.5v3.7M234.1 648.5v3.7M261.1 648.5v3.7M264.1 648.5v3.7M269.1 648.5v3.7M271.1 648.5v3.7M273.1 648.5v3.7M283.1 648.5v3.7M294.1 648.5v3.7M296.1 648.5v3.7M300.1 648.5v3.7M305.1 648.5v3.7M306.1 648.5v3.7M311.1 648.5v3.7" stroke="#E76BF3" stroke-opacity="0.9" stroke-width="1"/>
<path d="M36.1 655.8v3.7M51.1 655.8v3.7M66.1 655.8v3.7M78.1 655.8v3.7M79.1 655.8v3.7M82.1 655.8v3.7M83.1 655.8v3.7M84.1 655.8v3.7M91.1 655.8v3.7M93.1 655.8v3.7M95.1 655.8v3.7M100.1 655.8v3.7M103.1 655.8v3.7M112.1 655.8v3.7M113.1 655.8v3.7M125.1 655.8v3.7M132.1 655.8v3.7M141.1 655.8v3.7M176.1 655.8v3.7M181.1 655.8v3.7M187.1 655.8v3.7M192.1 655.8v3.7M196.1 655.8v3.7M198.1 655.8v3.7M201.1 655.8v3.7M207.1 655.8v3.7M208.1 655.8v3.7M221.1 655.8v3.7M226.1 655.8v3.7M234.1 655.8v3.7M235.1 655.8v3.7M238.1 655.8v3.7M242.1 655.8v3.7M258.1 655.8v3.7M265.1 655.8v3.7M298.1 655.8v3.7" stroke="#FF62BC" stroke-opacity="0.2" stroke-width="1"/>
<path d="M42.1 655.8v3.7M53.1 655.8v3.7M61.1 655.8v3.7M92.1 655.8v3.7M99.1 655.8v3.7M108.1 655.8v3.7M109.1 655.8v3.7M120.1 655.8v3.7M124.1 655.8v3.7M128.1 655.8v3.7M129.1 655.8v3.7M130.1 655.8v3.7M146.1 655.8v3.7M149.1 655.8v3.7M164.1 655.8v3.7M165.1 655.8v3.7M170.1 655.8v3.7M171.1 655.8v3.7M202.1 655.8v3.7M206.1 655.8v3.7M213.1 655.8v3.7M216.1 655.8v3.7M222.1 655.8v3.7M232.1 655.8v3.7M244.1 655.8v3.7M249.1 655.8v3.7M271.1 655.8v3.7M273.1 655.8v3.7M282.1 655.8v3.7M284.1 655.8v3.7M288.1 655.8v3.7M289.1 655.8v3.7M293.1 655.8v3.7M296.1 655.8v3.7M305.1 655.8v3.7" stroke="#FF62BC" stroke-opacity="0.3" stroke-width="1"/>
<path d="M47.1 655.8v3.7M48.1 655.8v3.7M59.1 655.8v3.7M67.1 655.8v3.7M73.1 655.8v3.7M77.1 655.8v3.7M80.1 655.8v3.7M85.1 655.8v3.7M110.1 655.8v3.7M121.1 655.8v3.7M135.1 655.8v3.7M136.1 655.8v3.7M138.1 655.8v3.7M144.1 655.8v3.7M148.1 655.8v3.7M150.1 655.8v3.7M152.1 655.8v3.7M158.1 655.8v3.7M172.1 655.8v3.7M179.1 655.8v3.7M180.1 655.8v3.7M182.1 655.8v3.7M191.1 655.8v3.7M197.1 655.8v3.7M211.1 655.8v3.7M212.1 655.8v3.7M215.1 655.8v3.7M228.1 655.8v3.7M229.1 655.8v3.7M252.1 655.8v3.7M262.1 655.8v3.7M266.1 655.8v3.7M268.1 655.8v3.7M272.1 655.8v3.7M287.1 655.8v3.7M291.1 655.8v3.7M294.1 655.8v3.7M297.1 655.8v3.7M301.1 655.8v3.7M311.1 655.8v3.7" stroke="#FF62BC" stroke-opacity="0.5" stroke-width="1"/>
<path d="M46.1 655.8v3.7M57.1 655.8v3.7M60.1 655.8v3.7M72.1 655.8v3.7M86.1 655.8v3.7M88.1 655.8v3.7M105.1 655.8v3.7M115.1 655.8v3.7M131.1 655.8v3.7M142.1 655.8v3.7M143.1 655.8v3.7M145.1 655.8v3.7M147.1 655.8v3.7M157.1 655.8v3.7M159.1 655.8v3.7M166.1 655.8v3.7M174.1 655.8v3.7M185.1 655.8v3.7M199.1 655.8v3.7M205.1 655.8v3.7M209.1 655.8v3.7M230.1 655.8v3.7M233.1 655.8v3.7M236.1 655.8v3.7M237.1 655.8v3.7M241.1 655.8v3.7M245.1 655.8v3.7M257.1 655.8v3.7M274.1 655.8v3.7M281.1 655.8v3.7M283.1 655.8v3.7M299.1 655.8v3.7M300.1 655.8v3.7M310.1 655.8v3.7M313.1 655.8v3.7M314.1 655.8v3.7" stroke="#FF62BC" stroke-opacity="0.7" stroke-width="1"/>
<path d="M45.1 655.8v3.7M58.1 655.8v3.7M71.1 655.8v3.7M75.1 655.8v3.7M81.1 655.8v3.7M90.1 655.8v3.7M102.1 655.8v3.7M107.1 655.8v3.7M117.1 655.8v3.7M123.1 655.8v3.7M126.1 655.8v3.7M133.1 655.8v3.7M134.1 655.8v3.7M139.1 655.8v3.7M151.1 655.8v3.7M168.1 655.8v3.7M169.1 655.8v3.7M173.1 655.8v3.7M177.1 655.8v3.7M178.1 655.8v3.7M183.1 655.8v3.7M184.1 655.8v3.7M186.1 655.8v3.7M188.1 655.8v3.7M190.1 655.8v3.7M200.1 655.8v3.7M203.1 655.8v3.7M204.1 655.8v3.7M210.1 655.8v3.7M227.1 655.8v3.7M239.1 655.8v3.7M243.1 655.8v3.7M246.1 655.8v3.7M250.1 655.8v3.7M251.1 655.8v3.7M253.1 655.8v3.7M254.1 655.8v3.7M255.1 655.8v3.7M256.1 655.8v3.7M259.1 655.8v3.7M263.1 655.8v3.7M267.1 655.8v3.7M270.1 655.8v3.7M278.1 655.8v3.7M280.1 655.8v3.7M295.1 655.8v3.7M304.1 655.8v3.7M306.1 655.8v3.7M309.1 655.8v3.7" stroke="#FF62BC" stroke-opacity="0.9" stroke-width="1"/>
<path d="M41.1 659.5v3.7M51.1 659.5v3.7M52.1 659.5v3.7M60.1 659.5v3.7M71.1 659.5v3.7M72.1 659.5v3.7M87.1 659.5v3.7M96.1 659.5v3.7M101.1 659.5v3.7M109.1 659.5v3.7M127.1 659.5v3.7M129.1 659.5v3.7M133.1 659.5v3.7M144.1 659.5v3.7M147.1 659.5v3.7M151.1 659.5v3.7M159.1 659.5v3.7M162.1 659.5v3.7M164.1 659.5v3.7M175.1 659.5v3.7M184.1 659.5v3.7M186.1 659.5v3.7M188.1 659.5v3.7M192.1 659.5v3.7M202.1 659.5v3.7M231.1 659.5v3.7M233.1 659.5v3.7M247.1 659.5v3.7M266.1 659.5v3.7M299.1 659.5v3.7M304.1 659.5v3.7M311.1 659.5v3.7" stroke="#00B0F6" stroke-opacity="0.2" stroke-width="1"/>
<path d="M36.1 659.5v3.7M56.1 659.5v3.7M57.1 659.5v3.7M61.1 659.5v3.7M67.1 659.5v3.7M73.1 659.5v3.7M79.1 659.5v3.7M81.1 659.5v3.7M89.1 659.5v3.7M110.1 659.5v3.7M117.1 659.5v3.7M118.1 659.5v3.7M119.1 659.5v3.7M121.1 659.5v3.7M124.1 659.5v3.7M128.1 659.5v3.7M156.1 659.5v3.7M160.1 659.5v3.7M161.1 659.5v3.7M166.1 659.5v3.7M167.1 659.5v3.7M169.1 659.5v3.7M171.1 659.5v3.7M173.1 659.5v3.7M176.1 659.5v3.7M178.1 659.5v3.7M181.1 659.5v3.7M182.1 659.5v3.7M183.1 659.5v3.7M194.1 659.5v3.7M205.1 659.5v3.7M213.1 659.5v3.7M215.1 659.5v3.7M230.1 659.5v3.7M239.1 659.5v3.7M243.1 659.5v3.7M251.1 659.5v3.7M255.1 659.5v3.7M269.1 659.5v3.7M279.1 659.5v3.7M291.1 659.5v3.7M296.1 659.5v3.7M306.1 659.5v3.7M307.1 659.5v3.7" stroke="#00B0F6" stroke-opacity="0.3" stroke-width="1"/>
<path d="M62.1 659.5v3.7M65.1 659.5v3.7M68.1 659.5v3.7M74.1 659.5v3.7M77.1 659.5v3.7M78.1 659.5v3.7M82.1 659.5v3.7M86.1 659.5v3.7M90.1 659.5v3.7M102.1 659.5v3.7M108.1 659.5v3.7M112.1 659.5v3.7M120.1 659.5v3.7M122.1 659.5v3.7M125.1 659.5v3.7M148.1 659.5v3.7M152.1 659.5v3.7M157.1 659.5v3.7M177.1 659.5v3.7M185.1 659.5v3.7M189.1 659.5v3.7M195.1 659.5v3.7M198.1 659.5v3.7M212.1 659.5v3.7M214.1 659.5v3.7M217.1 659.5v3.7M228.1 659.5v3.7M234.1 659.5v3.7M246.1 659.5v3.7M250.1 659.5v3.7M253.1 659.5v3.7M259.1 659.5v3.7M260.1 659.5v3.7M265.1 659.5v3.7M267.1 659.5v3.7M268.1 659.5v3.7M273.1 659.5v3.7M274.1 659.5v3.7M275.1 659.5v3.7M278.1 659.5v3.7M281.1 659.5v3.7M285.1 659.5v3.7M289.1 659.5v3.7M290.1 659.5v3.7M302.1 659.5v3.7M308.1 659.5v3.7" stroke="#00B0F6" stroke-opacity="0.5" stroke-width="1"/>
<path d="M44.1 659.5v3.7M47.1 659.5v3.7M59.1 659.5v3.7M64.1 659.5v3.7M88.1 659.5v3.7M92.1 659.5v3.7M94.1 659.5v3.7M95.1 659.5v3.7M103.1 659.5v3.7M123.1 659.5v3.7M126.1 659.5v3.7M134.1 659.5v3.7M135.1 659.5v3.7M136.1 659.5v3.7M142.1 659.5v3.7M143.1 659.5v3.7M146.1 659.5v3.7M153.1 659.5v3.7M163.1 659.5v3.7M165.1 659.5v3.7M170.1 659.5v3.7M172.1 659.5v3.7M179.1 659.5v3.7M203.1 659.5v3.7M209.1 659.5v3.7M211.1 659.5v3.7M218.1 659.5v3.7M221.1 659.5v3.7M222.1 659.5v3.7M224.1 659.5v3.7M232.1 659.5v3.7M240.1 659.5v3.7M241.1 659.5v3.7M242.1 659.5v3.7M254.1 659.5v3.7M261.1 659.5v3.7M262.1 659.5v3.7M272.1 659.5v3.7M277.1 659.5v3.7M283.1 659.5v3.7M284.1 659.5v3.7M286.1 659.5v3.7M287.1 659.5v3.7M288.1 659.5v3.7M294.1 659.5v3.7M298.1 659.5v3.7M300.1 659.5v3.7M305.1 659.5v3.7M309.1 659.5v3.7" stroke="#00B0F6" stroke-opacity="0.7" stroke-width="1"/>
<path d="M35.1 659.5v3.7M83.1 659.5v3.7M84.1 659.5v3.7M91.1 659.5v3.7M93.1 659.5v3.7M98.1 659.5v3.7M113.1 659.5v3.7M137.1 659.5v3.7M140.1 659.5v3.7M141.1 659.5v3.7M145.1 659.5v3.7M150.1 659.5v3.7M168.1 659.5v3.7M174.1 659.5v3.7M180.1 659.5v3.7M190.1 659.5v3.7M191.1 659.5v3.7M197.1 659.5v3.7M199.1 659.5v3.7M204.1 659.5v3.7M208.1 659.5v3.7M210.1 659.5v3.7M216.1 659.5v3.7M220.1 659.5v3.7M223.1 659.5v3.7M225.1 659.5v3.7M226.1 659.5v3.7M235.1 659.5v3.7M236.1 659.5v3.7M238.1 659.5v3.7M256.1 659.5v3.7M257.1 659.5v3.7M258.1 659.5v3.7M263.1 659.5v3.7M264.1 659.5v3.7M270.1 659.5v3.7M271.1 659.5v3.7M276.1 659.5v3.7M280.1 659.5v3.7M282.1 659.5v3.7M292.1 659.5v3.7M297.1 659.5v3.7M301.1 659.5v3.7M303.1 659.5v3.7M312.1 659.5v3.7M313.1 659.5v3.7" stroke="#00B0F6" stroke-opacity="0.9" stroke-width="1"/>
<path d="M39.1 666.8v3.7M40.1 666.8v3.7M41.1 666.8v3.7M94.1 666.8v3.7M104.1 666.8v3.7M129.1 666.8v3.7M136.1 666.8v3.7M151.1 666.8v3.7M160.1 666.8v3.7M165.1 666.8v3.7M175.1 666.8v3.7M200.1 666.8v3.7M209.1 666.8v3.7M216.1 666.8v3.7M221.1 666.8v3.7M235.1 666.8v3.7M259.1 666.8v3.7M261.1 666.8v3.7M282.1 666.8v3.7M285.1 666.8v3.7M309.1 666.8v3.7" stroke="#39B600" stroke-opacity="0.2" stroke-width="1"/>
<path d="M38.1 666.8v3.7M51.1 666.8v3.7M55.1 666.8v3.7M57.1 666.8v3.7M59.1 666.8v3.7M65.1 666.8v3.7M77.1 666.8v3.7M79.1 666.8v3.7M137.1 666.8v3.7M140.1 666.8v3.7M144.1 666.8v3.7M155.1 666.8v3.7M172.1 666.8v3.7M187.1 666.8v3.7M207.1 666.8v3.7M258.1 666.8v3.7M312.1 666.8v3.7" stroke="#39B600" stroke-opacity="0.3" stroke-width="1"/>
<path d="M49.1 666.8v3.7M54.1 666.8v3.7M63.1 666.8v3.7M64.1 666.8v3.7M72.1 666.8v3.7M74.1 666.8v3.7M75.1 666.8v3.7M91.1 666.8v3.7M100.1 666.8v3.7M103.1 666.8v3.7M105.1 666.8v3.7M124.1 666.8v3.7M131.1 666.8v3.7M141.1 666.8v3.7M154.1 666.8v3.7M224.1 666.8v3.7M227.1 666.8v3.7M305.1 666.8v3.7" stroke="#39B600" stroke-opacity="0.5" stroke-width="1"/>
<path d="M36.1 666.8v3.7M45.1 666.8v3.7M47.1 666.8v3.7M53.1 666.8v3.7M58.1 666.8v3.7M61.1 666.8v3.7M67.1 666.8v3.7M82.1 666.8v3.7M86.1 666.8v3.7M93.1 666.8v3.7M138.1 666.8v3.7M189.1 666.8v3.7M199.1 666.8v3.7M214.1 666.8v3.7" stroke="#39B600" stroke-opacity="0.7" stroke-width="1"/>
<path d="M37.1 666.8v3.7M43.1 666.8v3.7M68.1 666.8v3.7M71.1 666.8v3.7M78.1 666.8v3.7M102.1 666.8v3.7M117.1 666.8v3.7M159.1 666.8v3.7M169.1 666.8v3.7M188.1 666.8v3.7M310.1 666.8v3.7" stroke="#39B600" stroke-opacity="0.9" stroke-width="1"/>
<path d="M39.1 670.5v3.7M57.1 670.5v3.7M79.1 670.5v3.7M80.1 670.5v3.7M83.1 670.5v3.7M84.1 670.5v3.7M109.1 670.5v3.7M117.1 670.5v3.7M118.1 670.5v3.7M137.1 670.5v3.7M149.1 670.5v3.7M157.1 670.5v3.7M158.1 670.5v3.7M160.1 670.5v3.7M163.1 670.5v3.7M173.1 670.5v3.7M177.1 670.5v3.7M199.1 670.5v3.7M218.1 670.5v3.7M221.1 670.5v3.7M230.1 670.5v3.7M236.1 670.5v3.7M242.1 670.5v3.7M267.1 670.5v3.7M277.1 670.5v3.7M279.1 670.5v3.7M284.1 670.5v3.7M285.1 670.5v3.7M304.1 670.5v3.7" stroke="#A3A500" stroke-opacity="0.2" stroke-width="1"/>
<path d="M36.1 670.5v3.7M42.1 670.5v3.7M49.1 670.5v3.7M62.1 670.5v3.7M74.1 670.5v3.7M82.1 670.5v3.7M93.1 670.5v3.7M96.1 670.5v3.7M100.1 670.5v3.7M103.1 670.5v3.7M105.1 670.5v3.7M106.1 670.5v3.7M113.1 670.5v3.7M114.1 670.5v3.7M120.1 670.5v3.7M127.1 670.5v3.7M134.1 670.5v3.7M147.1 670.5v3.7M165.1 670.5v3.7M171.1 670.5v3.7M182.1 670.5v3.7M193.1 670.5v3.7M206.1 670.5v3.7M210.1 670.5v3.7M217.1 670.5v3.7M244.1 670.5v3.7M245.1 670.5v3.7M289.1 670.5v3.7" stroke="#A3A500" stroke-opacity="0.3" stroke-width="1"/>
<path d="M40.1 670.5v3.7M43.1 670.5v3.7M52.1 670.5v3.7M54.1 670.5v3.7M58.1 670.5v3.7M71.1 670.5v3.7M73.1 670.5v3.7M78.1 670.5v3.7M88.1 670.5v3.7M97.1 670.5v3.7M99.1 670.5v3.7M123.1 670.5v3.7M140.1 670.5v3.7M152.1 670.5v3.7M153.1 670.5v3.7M161.1 670.5v3.7M189.1 670.5v3.7M201.1 670.5v3.7M228.1 670.5v3.7M240.1 670.5v3.7M254.1 670.5v3.7M269.1 670.5v3.7M278.1 670.5v3.7M305.1 670.5v3.7M310.1 670.5v3.7" stroke="#A3A500" stroke-opacity="0.5" stroke-width="1"/>
<path d="M45.1 670.5v3.7M46.1 670.5v3.7M51.1 670.5v3.7M64.1 670.5v3.7M68.1 670.5v3.7M87.1 670.5v3.7M90.1 670.5v3.7M128.1 670.5v3.7M129.1 670.5v3.7M136.1 670.5v3.7M148.1 670.5v3.7M150.1 670.5v3.7M168.1 670.5v3.7M170.1 670.5v3.7M184.1 670.5v3.7M194.1 670.5v3.7M234.1 670.5v3.7M239.1 670.5v3.7M253.1 670.5v3.7M287.1 670.5v3.7" stroke="#A3A500" stroke-opacity="0.7" stroke-width="1"/>
<path d="M35.1 670.5v3.7M38.1 670.5v3.7M41.1 670.5v3.7M48.1 670.5v3.7M53.1 670.5v3.7M56.1 670.5v3.7M66.1 670.5v3.7M67.1 670.5v3.7M69.1 670.5v3.7M76.1 670.5v3.7M94.1 670.5v3.7M112.1 670.5v3.7M131.1 670.5v3.7M141.1 670.5v3.7M142.1 670.5v3.7M180.1 670.5v3.7M186.1 670.5v3.7M187.1 670.5v3.7M203.1 670.5v3.7M222.1 670.5v3.7M250.1 670.5v3.7M259.1 670.5v3.7" stroke="#A3A500" stroke-opacity="0.9" stroke-width="1"/>
<path d="M56.1 674.2v3.7M57.1 674.2v3.7M81.1 674.2v3.7M85.1 674.2v3.7M95.1 674.2v3.7M96.1 674.2v3.7M105.1 674.2v3.7M108.1 674.2v3.7M127.1 674.2v3.7M139.1 674.2v3.7M143.1 674.2v3.7M148.1 674.2v3.7M150.1 674.2v3.7M163.1 674.2v3.7M164.1 674.2v3.7M171.1 674.2v3.7M178.1 674.2v3.7M182.1 674.2v3.7M199.1 674.2v3.7M201.1 674.2v3.7M214.1 674.2v3.7M220.1 674.2v3.7M221.1 674.2v3.7M239.1 674.2v3.7M248.1 674.2v3.7M253.1 674.2v3.7M262.1 674.2v3.7M267.1 674.2v3.7M270.1 674.2v3.7M271.1 674.2v3.7M277.1 674.2v3.7M287.1 674.2v3.7M295.1 674.2v3.7M300.1 674.2v3.7M306.1 674.2v3.7M311.1 674.2v3.7" stroke="#00BFC4" stroke-opacity="0.2" stroke-width="1"/>
<path d="M50.1 674.2v3.7M51.1 674.2v3.7M93.1 674.2v3.7M97.1 674.2v3.7M104.1 674.2v3.7M128.1 674.2v3.7M138.1 674.2v3.7M159.1 674.2v3.7M166.1 674.2v3.7M198.1 674.2v3.7M203.1 674.2v3.7M207.1 674.2v3.7M215.1 674.2v3.7M219.1 674.2v3.7M223.1 674.2v3.7M230.1 674.2v3.7M245.1 674.2v3.7M247.1 674.2v3.7M255.1 674.2v3.7M263.1 674.2v3.7M266.1 674.2v3.7M275.1 674.2v3.7M276.1 674.2v3.7M282.1 674.2v3.7M284.1 674.2v3.7M285.1 674.2v3.7M286.1 674.2v3.7M291.1 674.2v3.7M293.1 674.2v3.7" stroke="#00BFC4" stroke-opacity="0.3" stroke-width="1"/>
<path d="M80.1 674.2v3.7M130.1 674.2v3.7M131.1 674.2v3.7M136.1 674.2v3.7M141.1 674.2v3.7M153.1 674.2v3.7M179.1 674.2v3.7M188.1 674.2v3.7M205.1 674.2v3.7M206.1 674.2v3.7M209.1 674.2v3.7M212.1 674.2v3.7M226.1 674.2v3.7M233.1 674.2v3.7M234.1 674.2v3.7M240.1 674.2v3.7M256.1 674.2v3.7M279.1 674.2v3.7M288.1 674.2v3.7" stroke="#00BFC4" stroke-opacity="0.5" stroke-width="1"/>
<path d="M78.1 674.2v3.7M107.1 674.2v3.7M116.1 674.2v3.7M142.1 674.2v3.7M146.1 674.2v3.7M152.1 674.2v3.7M158.1 674.2v3.7M170.1 674.2v3.7M181.1 674.2v3.7M191.1 674.2v3.7M200.1 674.2v3.7M241.1 674.2v3.7M244.1 674.2v3.7M249.1 674.2v3.7M254.1 674.2v3.7M258.1 674.2v3.7M259.1 674.2v3.7M272.1 674.2v3.7M278.1 674.2v3.7M280.1 674.2v3.7M303.1 674.2v3.7M307.1 674.2v3.7M312.1 674.2v3.7M313.1 674.2v3.7" stroke="#00BFC4" stroke-opacity="0.7" stroke-width="1"/>
<path d="M63.1 674.2v3.7M71.1 674.2v3.7M89.1 674.2v3.7M115.1 674.2v3.7M125.1 674.2v3.7M126.1 674.2v3.7M184.1 674.2v3.7M210.1 674.2v3.7M211.1 674.2v3.7M237.1 674.2v3.7M238.1 674.2v3.7M257.1 674.2v3.7M261.1 674.2v3.7M281.1 674.2v3.7M290.1 674.2v3.7M308.1 674.2v3.7M310.1 674.2v3.7M314.1 674.2v3.7" stroke="#00BFC4" stroke-opacity="0.9" stroke-width="1"/>
<path d="M70.1 677.8v3.7M105.1 677.8v3.7M145.1 677.8v3.7M181.1 677.8v3.7M186.1 677.8v3.7M192.1 677.8v3.7M242.1 677.8v3.7M244.1 677.8v3.7M251.1 677.8v3.7M257.1 677.8v3.7M264.1 677.8v3.7M286.1 677.8v3.7M297.1 677.8v3.7" stroke="#F8766D" stroke-opacity="0.2" stroke-width="1"/>
<path d="M211.1 677.8v3.7M224.1 677.8v3.7M252.1 677.8v3.7M256.1 677.8v3.7M259.1 677.8v3.7M270.1 677.8v3.7M280.1 677.8v3.7M282.1 677.8v3.7M288.1 677.8v3.7M299.1 677.8v3.7M300.1 677.8v3.7M301.1 677.8v3.7M309.1 677.8v3.7" stroke="#F8766D" stroke-opacity="0.3" stroke-width="1"/>
<path d="M184.1 677.8v3.7M204.1 677.8v3.7M231.1 677.8v3.7M235.1 677.8v3.7M266.1 677.8v3.7M279.1 677.8v3.7M290.1 677.8v3.7M293.1 677.8v3.7M294.1 677.8v3.7M303.1 677.8v3.7" stroke="#F8766D" stroke-opacity="0.5" stroke-width="1"/>
<path d="M210.1 677.8v3.7M228.1 677.8v3.7M255.1 677.8v3.7M283.1 677.8v3.7M284.1 677.8v3.7M307.1 677.8v3.7" stroke="#F8766D" stroke-opacity="0.7" stroke-width="1"/>
<path d="M152.1 677.8v3.7M216.1 677.8v3.7M218.1 677.8v3.7M222.1 677.8v3.7M226.1 677.8v3.7M239.1 677.8v3.7M254.1 677.8v3.7M258.1 677.8v3.7M261.1 677.8v3.7M263.1 677.8v3.7M273.1 677.8v3.7M277.1 677.8v3.7M291.1 677.8v3.7M296.1 677.8v3.7M308.1 677.8v3.7M311.1 677.8v3.7" stroke="#F8766D" stroke-opacity="0.9" stroke-width="1"/>
<path d="M38.1 652.1v3.7M51.1 652.1v3.7M52.1 652.1v3.7M71.1 652.1v3.7M101.1 652.1v3.7M139.1 652.1v3.7M147.1 652.1v3.7M159.1 652.1v3.7M164.1 652.1v3.7M175.1 652.1v3.7M184.1 652.1v3.7M188.1 652.1v3.7M192.1 652.1v3.7M202.1 652.1v3.7M231.1 652.1v3.7M266.1 652.1v3.7M280.1 652.1v3.7M299.1 652.1v3.7M304.1 652.1v3.7M305.1 652.1v3.7M310.1 652.1v3.7" stroke="#9590FF" stroke-opacity="0.2" stroke-width="1"/>
<path d="M56.1 652.1v3.7M57.1 652.1v3.7M61.1 652.1v3.7M67.1 652.1v3.7M73.1 652.1v3.7M81.1 652.1v3.7M89.1 652.1v3.7M118.1 652.1v3.7M119.1 652.1v3.7M121.1 652.1v3.7M160.1 652.1v3.7M161.1 652.1v3.7M167.1 652.1v3.7M169.1 652.1v3.7M171.1 652.1v3.7M176.1 652.1v3.7M178.1 652.1v3.7M182.1 652.1v3.7M183.1 652.1v3.7M194.1 652.1v3.7M213.1 652.1v3.7M215.1 652.1v3.7M230.1 652.1v3.7M239.1 652.1v3.7M251.1 652.1v3.7M255.1 652.1v3.7M279.1 652.1v3.7M295.1 652.1v3.7M296.1 652.1v3.7M307.1 652.1v3.7" stroke="#9590FF" stroke-opacity="0.3" stroke-width="1"/>
<path d="M63.1 652.1v3.7M65.1 652.1v3.7M77.1 652.1v3.7M78.1 652.1v3.7M82.1 652.1v3.7M86.1 652.1v3.7M90.1 652.1v3.7M102.1 652.1v3.7M108.1 652.1v3.7M112.1 652.1v3.7M122.1 652.1v3.7M152.1 652.1v3.7M157.1 652.1v3.7M177.1 652.1v3.7M189.1 652.1v3.7M195.1 652.1v3.7M212.1 652.1v3.7M214.1 652.1v3.7M217.1 652.1v3.7M228.1 652.1v3.7M237.1 652.1v3.7M246.1 652.1v3.7M249.1 652.1v3.7M250.1 652.1v3.7M259.1 652.1v3.7M265.1 652.1v3.7M267.1 652.1v3.7M273.1 652.1v3.7M278.1 652.1v3.7M281.1 652.1v3.7" stroke="#9590FF" stroke-opacity="0.5" stroke-width="1"/>
<path d="M47.1 652.1v3.7M64.1 652.1v3.7M94.1 652.1v3.7M95.1 652.1v3.7M123.1 652.1v3.7M126.1 652.1v3.7M136.1 652.1v3.7M142.1 652.1v3.7M143.1 652.1v3.7M151.1 652.1v3.7M153.1 652.1v3.7M163.1 652.1v3.7M165.1 652.1v3.7M170.1 652.1v3.7M172.1 652.1v3.7M179.1 652.1v3.7M209.1 652.1v3.7M218.1 652.1v3.7M221.1 652.1v3.7M222.1 652.1v3.7M224.1 652.1v3.7M241.1 652.1v3.7M242.1 652.1v3.7M261.1 652.1v3.7M262.1 652.1v3.7M272.1 652.1v3.7M283.1 652.1v3.7M288.1 652.1v3.7M292.1 652.1v3.7M294.1 652.1v3.7M300.1 652.1v3.7" stroke="#9590FF" stroke-opacity="0.7" stroke-width="1"/>
<path d="M35.1 652.1v3.7M83.1 652.1v3.7M84.1 652.1v3.7M93.1 652.1v3.7M98.1 652.1v3.7M137.1 652.1v3.7M140.1 652.1v3.7M141.1 652.1v3.7M145.1 652.1v3.7M150.1 652.1v3.7M174.1 652.1v3.7M180.1 652.1v3.7M208.1 652.1v3.7M210.1 652.1v3.7M216.1 652.1v3.7M220.1 652.1v3.7M223.1 652.1v3.7M225.1 652.1v3.7M226.1 652.1v3.7M235.1 652.1v3.7M256.1 652.1v3.7M257.1 652.1v3.7M258.1 652.1v3.7M263.1 652.1v3.7M264.1 652.1v3.7M271.1 652.1v3.7M282.1 652.1v3.7M297.1 652.1v3.7M313.1 652.1v3.7" stroke="#9590FF" stroke-opacity="0.9" stroke-width="1"/>
<path d="M41.1 663.1v3.7M51.1 663.1v3.7M52.1 663.1v3.7M60.1 663.1v3.7M71.1 663.1v3.7M72.1 663.1v3.7M87.1 663.1v3.7M96.1 663.1v3.7M101.1 663.1v3.7M109.1 663.1v3.7M127.1 663.1v3.7M129.1 663.1v3.7M133.1 663.1v3.7M144.1 663.1v3.7M147.1 663.1v3.7M151.1 663.1v3.7M159.1 663.1v3.7M162.1 663.1v3.7M164.1 663.1v3.7M175.1 663.1v3.7M184.1 663.1v3.7M186.1 663.1v3.7M188.1 663.1v3.7M192.1 663.1v3.7M202.1 663.1v3.7M231.1 663.1v3.7M233.1 663.1v3.7M247.1 663.1v3.7M266.1 663.1v3.7M299.1 663.1v3.7M304.1 663.1v3.7M311.1 663.1v3.7" stroke="#D89000" stroke-opacity="0.2" stroke-width="1"/>
<path d="M36.1 663.1v3.7M56.1 663.1v3.7M57.1 663.1v3.7M61.1 663.1v3.7M67.1 663.1v3.7M73.1 663.1v3.7M79.1 663.1v3.7M81.1 663.1v3.7M89.1 663.1v3.7M110.1 663.1v3.7M117.1 663.1v3.7M118.1 663.1v3.7M119.1 663.1v3.7M121.1 663.1v3.7M124.1 663.1v3.7M128.1 663.1v3.7M156.1 663.1v3.7M160.1 663.1v3.7M161.1 663.1v3.7M166.1 663.1v3.7M167.1 663.1v3.7M169.1 663.1v3.7M171.1 663.1v3.7M173.1 663.1v3.7M176.1 663.1v3.7M178.1 663.1v3.7M181.1 663.1v3.7M182.1 663.1v3.7M183.1 663.1v3.7M194.1 663.1v3.7M205.1 663.1v3.7M213.1 663.1v3.7M215.1 663.1v3.7M230.1 663.1v3.7M239.1 663.1v3.7M243.1 663.1v3.7M251.1 663.1v3.7M255.1 663.1v3.7M269.1 663.1v3.7M279.1 663.1v3.7M291.1 663.1v3.7M296.1 663.1v3.7M306.1 663.1v3.7M307.1 663.1v3.7" stroke="#D89000" stroke-opacity="0.3" stroke-width="1"/>
<path d="M62.1 663.1v3.7M65.1 663.1v3.7M68.1 663.1v3.7M74.1 663.1v3.7M77.1 663.1v3.7M78.1 663.1v3.7M82.1 663.1v3.7M86.1 663.1v3.7M90.1 663.1v3.7M102.1 663.1v3.7M108.1 663.1v3.7M112.1 663.1v3.7M120.1 663.1v3.7M122.1 663.1v3.7M125.1 663.1v3.7M148.1 663.1v3.7M152.1 663.1v3.7M157.1 663.1v3.7M177.1 663.1v3.7M185.1 663.1v3.7M189.1 663.1v3.7M195.1 663.1v3.7M198.1 663.1v3.7M212.1 663.1v3.7M214.1 663.1v3.7M217.1 663.1v3.7M228.1 663.1v3.7M234.1 663.1v3.7M246.1 663.1v3.7M250.1 663.1v3.7M253.1 663.1v3.7M259.1 663.1v3.7M260.1 663.1v3.7M265.1 663.1v3.7M267.1 663.1v3.7M268.1 663.1v3.7M273.1 663.1v3.7M274.1 663.1v3.7M275.1 663.1v3.7M278.1 663.1v3.7M281.1 663.1v3.7M285.1 663.1v3.7M289.1 663.1v3.7M290.1 663.1v3.7M302.1 663.1v3.7M308.1 663.1v3.7" stroke="#D89000" stroke-opacity="0.5" stroke-width="1"/>
<path d="M44.1 663.1v3.7M47.1 663.1v3.7M59.1 663.1v3.7M64.1 663.1v3.7M88.1 663.1v3.7M92.1 663.1v3.7M94.1 663.1v3.7M95.1 663.1v3.7M103.1 663.1v3.7M123.1 663.1v3.7M126.1 663.1v3.7M134.1 663.1v3.7M135.1 663.1v3.7M136.1 663.1v3.7M142.1 663.1v3.7M143.1 663.1v3.7M146.1 663.1v3.7M153.1 663.1v3.7M163.1 663.1v3.7M165.1 663.1v3.7M170.1 663.1v3.7M172.1 663.1v3.7M179.1 663.1v3.7M203.1 663.1v3.7M209.1 663.1v3.7M211.1 663.1v3.7M218.1 663.1v3.7M221.1 663.1v3.7M222.1 663.1v3.7M224.1 663.1v3.7M232.1 663.1v3.7M240.1 663.1v3.7M241.1 663.1v3.7M242.1 663.1v3.7M254.1 663.1v3.7M261.1 663.1v3.7M262.1 663.1v3.7M272.1 663.1v3.7M277.1 663.1v3.7M283.1 663.1v3.7M284.1 663.1v3.7M286.1 663.1v3.7M287.1 663.1v3.7M288.1 663.1v3.7M294.1 663.1v3.7M298.1 663.1v3.7M300.1 663.1v3.7M305.1 663.1v3.7M309.1 663.1v3.7" stroke="#D89000" stroke-opacity="0.7" stroke-width="1"/>
<path d="M35.1 663.1v3.7M83.1 663.1v3.7M84.1 663.1v3.7M91.1 663.1v3.7M93.1 663.1v3.7M98.1 663.1v3.7M113.1 663.1v3.7M137.1 663.1v3.7M140.1 663.1v3.7M141.1 663.1v3.7M145.1 663.1v3.7M150.1 663.1v3.7M168.1 663.1v3.7M174.1 663.1v3.7M180.1 663.1v3.7M190.1 663.1v3.7M191.1 663.1v3.7M197.1 663.1v3.7M199.1 663.1v3.7M204.1 663.1v3.7M208.1 663.1v3.7M210.1 663.1v3.7M216.1 663.1v3.7M220.1 663.1v3.7M223.1 663.1v3.7M225.1 663.1v3.7M226.1 663.1v3.7M235.1 663.1v3.7M236.1 663.1v3.7M238.1 663.1v3.7M256.1 663.1v3.7M257.1 663.1v3.7M258.1 663.1v3.7M263.1 663.1v3.7M264.1 663.1v3.7M270.1 663.1v3.7M271.1 663.1v3.7M276.1 663.1v3.7M280.1 663.1v3.7M282.1 663.1v3.7M292.1 663.1v3.7M297.1 663.1v3.7M301.1 663.1v3.7M303.1 663.1v3.7M312.1 663.1v3.7M313.1 663.1v3.7" stroke="#D89000" stroke-opacity="0.9" stroke-width="1"/>
<path d="M34.6 587.4l0.6 0.2v-1.8l0.8 0.3v-1.3l0.8 0.4v-2.5l1 0.4v-2.2l1 0.4v-1.8l0.8 0.3v-1.7l1.4 0.6v-2.7l1 0.4v-1.5l1.2 0.4v-0.9l0.2 0.1v-1.6l2 0.8v-2l2 0.8v-0.9l0.2 0v-1.3l1 0.4v-2.7l3.4 1.4v-2.6l2 0.8v-2.7l2.4 0.9v-1l0.8 0.4v-1.3l0.2 0.1v-0.9l1 0.4v-0.9l0.6 0.2v-0.7l0.2 0.1v-1.6l3.2 1.2v-0.8l0.2 0.1v-1.9l2.4 1v-2.1l2 0.8v-1.9l2.4 0.9v-0.9l2.4 1v-1.4l1.6 0.6v-1l2.2 0.8v-1.3l1.2 0.5v-0.9l1.8 0.7v-1.5l2.8 1.1v-0.8l1.6 0.6v-1.5l1.6 0.6v-2.1l4.8 1.9v-2.4l1.8 0.7v-1.8l3 1.2v-0.9l1.4 0.6v-1.9l1.8 0.7v-1.9l2 0.8v-1.4l2.2 0.8v-1l3 1.2v-0.7l2.6 1v-1.7l4.8 1.9v-0.9l0.2 0.1v-0.6l4.6 1.8v-1.1l3.2 1.2v-2.2l4.6 1.8v-0.9l9.4 3.7v-1.2l6.2 2.4v-1.8l10.8 4.2v-0.8l0.2 0.1v-1.1l21.6 8.5v-0.4l0.2 0.1v-0.7l6.6 2.6v-0.8l3.2 1.2v-0.3l1.4 0.6v-0.5l1.8 0.7v-0.4l2.2 0.8v-0.5l3.6 1.4v-0.3l0.8 0.3v-0.3l1.6 0.6v-0.1l1 0.3v-0.1l0.4 0.1v-0.1l0.6 0.3v-0.2l1.8 0.7v-0.2l0.6 0.3v-0.2l1.8 0.7v-0.2l1 0.4v-0.2l1.4 0.5v-0.2l1.6 0.6v-0.2l0.6 0.2v-0.3l1.8 0.7v-0.2l3.6 1.4v-0.5l4.4 1.8v-0.4l3.2 1.2v-0.6l4.8 1.9v-0.7l6 2.3v-0.8l1.8 0.7v-1.4l12 4.7v-0.8l0.4 0.1v-1l12 4.7v-1.8l12 4.7v-2.1l5.2 2.1v-1.7l9.4 3.7v-1.5l4.8 1.9v-0.7l4 1.6v-2.2l9.2 3.7v-2.1l4 1.5v-2l5.2 2v-2.1l2.6 1v-1.9l3.5 1.4" stroke="#00BF7D" stroke-width="0.7" fill="none"/>
<path d="M34.6 587.4l0.4 0.2v-1.2l0.4 0.2v-2.7l1.6 0.7v-2.3l0.4 0.2v-0.8l0.2 0.1v-1.9l1 0.3v-1.8l1.4 0.6v-2.1l0.8 0.3v-1.1l0.6 0.3v-1.6l0.2 0v-1l0.6 0.2v-0.9l0.8 0.3v-2.2l1.6 0.7v-1.2l0.2 0v-2l2.2 0.9v-2.3l1.8 0.7v-2.6l2 0.8v-1.2l1.4 0.5v-1l0.2 0.1v-1.1l1.2 0.5v-2.6l1.4 0.6v-0.8l0.2 0v-1.4l1 0.4v-1.2l0.2 0.1v-1l0.8 0.3v-2.4l1.2 0.4v-0.8l1 0.4v-2.1l1.6 0.6v-2l3 1.2v-2l2 0.8v-2.4l2 0.8v-1.4l4 1.6v-1.1l0.4 0.1v-1.9l4.4 1.8v-1l0.2 0.1v-2.5l4.8 1.9v-1.9l3.6 1.4v-1.2l3.4 1.3v-0.7l0.2 0.1v-1.7l2 0.7v-0.9l0.8 0.3v-2.2l4.8 1.9v-1.5l1 0.4v-1.1l1.6 0.6v-1.6l0.6 0.3v-1.5l2.2 0.9v-1l0.2 0.1v-2.3l7.4 2.9v-1.8l4.6 1.8v-1.2l4.8 1.9v-0.9l2.6 1v-0.7l3 1.2v-0.6l1.8 0.7v-2.2l8.4 3.3v-1l9.8 3.8v-1l14.2 5.6v-1.1l6.4 2.5v-1.1l8.8 3.4v-1l12.8 5v-0.4l3.4 1.4v-0.4l3 1.1v-0.1l1.8 0.7v-0.1l0.8 0.3v-0.2l2 0.8v-0.2l2.2 0.8v-0.2l1 0.4v-0.1l3 1.1v-0.2l1.8 0.7v-0.2l2.4 1v-0.2l0.2 0v-0.2l3.4 1.4v-0.5l3.8 1.5v-0.3l2.4 1v-0.4l2 0.8v-0.9l14.6 5.7v-0.7l1.2 0.5v-0.6l7.6 3v-1.3l11 4.3v-1l7.6 3v-0.7l9.2 3.6v-2.3l9.2 3.6v-1.4l6 2.4v-1.4l8.4 3.3v-2.5l9.8 3.8v-2.3l4.6 1.8v-2l3.8 1.4v-2.6l1.9 0.7" stroke="#A3A500" stroke-width="0.7" fill="none"/>
<path d="M34.6 587.4l0.8 0.3v-2.2l1.2 0.5v-1.9l0.2 0.1v-1.2l1.2 0.5v-2.2l1 0.4v-2.8l0.8 0.3v-2.7l1.6 0.6v-1l0.8 0.4v-1.4l0.6 0.2v-2l2.2 0.9v-2.2l1 0.4v-2.1l1.4 0.6v-1.2l1.2 0.5v-2.1l2 0.8v-0.8l0.2 0.1v-2.6l2.2 0.8v-0.7l1.6 0.6v-2.1l1.8 0.7v-2.1l2.2 0.9v-0.9l1.2 0.5v-2.5l1 0.4v-2.6l4.4 1.8v-1.1l0.2 0.1v-1.8l2 0.8v-2l2.4 0.9v-1.4l2.8 1.1v-2.6l1.6 0.6v-2.1l4.6 1.8v-1.8l1.6 0.6v-2l2.6 1v-1l3.6 1.4v-2.2l1.4 0.6v-2.3l4.2 1.6v-2.6l3.6 1.5v-1l2.6 1v-2.1l1.8 0.8v-1.6l1.6 0.6v-1.9l1.8 0.7v-2.5l2 0.8v-1.7l2.2 0.9v-2.1l4.8 1.9v-0.9l0.2 0v-1l2.2 0.9v-1.5l1.6 0.6v-0.9l2.4 0.9v-1.3l2.4 0.9v-1.8l6 2.3v-1.2l7.2 2.8v-1.1l3.8 1.5v-0.7l7 2.7v-1.3l10.6 4.2v-1.2l3.4 1.3v-0.7l26.8 10.5v-0.5l3.8 1.5v-0.4l3.6 1.4v-0.3l3.6 1.4v-0.1l0.2 0.1v-0.2l2.4 0.9v-0.2l1.4 0.6v-0.3l2.6 1v-0.1l0.2 0.1v-0.3l4.8 1.8v-0.4l4.2 1.7v-0.7l5.4 2.1v-0.4l1.4 0.6v-0.6l9.6 3.7v-1l10 3.9v-1.3l13.8 5.4v-1.3l10.2 4v-1.3l4.6 1.8v-2.2l9.6 3.8v-0.6l0.2 0.1v-1.1l2.4 0.9v-0.6l1.6 0.6v-0.8l0.2 0v-1l2.4 1v-0.7l0.2 0.1v-1.2l3 1.1v-1.4l2.8 1.1v-0.7l1.4 0.6v-2.4l23.1 9.1" stroke="#39B600" stroke-width="0.7" fill="none"/>
<path d="M34.6 587.4l3 1.2v-1.6l17.4 6.8v-1.2l5.8 2.3v-1l1 0.4v-2.4l15.2 6v-1.3l38.6 15.2v-1l5.8 2.3v-1.5l4 1.5v-1.4l1.6 0.6v-0.9l5.2 2v-0.8l0.2 0v-1.4l3.8 1.4v-1.1l2.6 1v-1.2l3.6 1.4v-1.4l4 1.6v-1.2l8.4 3.3v-1.1l5.6 2.2v-0.8l3.8 1.5v-1.2l6.8 2.6v-0.8l5.4 2.1v-0.9l5.8 2.3v-0.2l3 1.1v-0.3l3.6 1.4v-0.3l0.8 0.3v-0.1l2.2 0.8v-0.1l1.2 0.5v-0.2l4.2 1.7v-0.2l1.6 0.6v-0.1l3 1.2v-0.2l2.8 1.1v-0.3l2.4 0.9v-0.1l3 1.2v-0.5l24.6 9.6v-1l1.6 0.7v-1.2l5 2v-1.1l2 0.7v-0.9l1.6 0.6v-0.9l2.8 1.1v-0.7l2.6 1v-1.8l2 0.7v-0.8l2.2 0.8v-1.3l2.2 0.8v-1.2l2.2 0.9v-1.6l1.4 0.6v-1.7l1 0.4v-1.9l2 0.8v-1.4l0.4 0.2v-2l2.8 1.1v-1.8l1.8 0.7v-1.4l1.4 0.6v-1.4l2.4 1v-1.7l0.6 0.3v-1.2l1.6 0.6v-2l3.6 1.4v-1.1l0.2 0.1v-2.3l3.4 1.3v-1.6l1 0.4v-1.4l1.4 0.6v-2.5l3.2 1.3v-1.7l2.8 1.1v-1.5l1.8 0.7v-1.6l2.2 0.9v-2.2l2.8 1.1v-2.5l2.2 0.9v-1.4l0.4 0.1v-2.5l2.4 0.9v-1.1l1.2 0.5v-1.4l0.2 0.1v-1.6l1.2 0.5v-1.8l0.4 0.1v-1.5l1 0.4v-1.1l0.2 0.1v-1.7l1.2 0.4v-2.4l0.6 0.2v-1l0.4 0.1v-1.5l1 0.4v-2.1l0.8 0.4v-2.1l1 0.4v-1.2l0.2 0.1v-1.3l0.4 0.1v-1.9l1 0.3v-2.1l1 0.4v-1.8l0.2 0v-1.5l0.6 0.2v-1.6l0.6 0.2v-2.4l0.1 0.1" stroke="#F8766D" stroke-width="0.7" fill="none"/>
<path d="M34.6 587.4l5 2v-2.6l11.2 4.4v-2l9.6 3.7v-2.3l11.4 4.5v-0.7l3.8 1.5v-0.7l2 0.7v-0.6l2.6 1v-0.8l3.2 1.3v-1.5l3.2 1.3v-2l6 2.3v-1.9l5.6 2.2v-0.7l6 2.4v-1.9l5.2 2v-1.5l4.8 1.9v-1.2l5.4 2.1v-1l4.6 1.8v-2l4.6 1.8v-0.7l0.2 0v-0.7l2.8 1.1v-1.7l4.6 1.8v-1l3 1.2v-0.7l2.6 1v-0.5l2.8 1.1v-1.8l5.2 2v-0.5l3.4 1.4v-1.3l5.6 2.2v-1.4l5.4 2.2v-1l8.8 3.5v-0.8l1 0.4v-0.8l12.4 4.9v-0.2l10.8 4.2v-0.2l4.4 1.8v-0.1l5.6 2.2v-0.3l10.2 4v-0.3l1 0.4v-0.4l6.4 2.5v-0.4l1.6 0.6v-0.4l0.2 0.1v-1l3.6 1.5v-1.2l4.8 1.9v-0.5l2.6 1v-1.6l5 1.9v-0.5l0.2 0.1v-1.6l4.2 1.7v-0.7l0.4 0.1v-1.7l2.8 1.1v-0.6l0.8 0.4v-1.3l1.4 0.5v-1.4l2.6 1v-1.7l4 1.5v-1.3l2.2 0.9v-1l0.2 0.1v-1l1.6 0.6v-2.2l4.2 1.7v-1.7l2.6 1v-0.6l0.2 0.1v-0.9l0.2 0.1v-2.1l4.4 1.7v-0.8l0.2 0.1v-1.1l1.6 0.6v-1.1l2.2 0.9v-1.1l0.2 0.1v-2.3l4.4 1.7v-1.7l2.2 0.8v-1.3l1.6 0.7v-1.2l0.2 0v-1.4l2.8 1.1v-0.7l1 0.4v-2.5l2.6 1v-1.2l0.8 0.4v-0.9l0.8 0.3v-2.4l2 0.8v-1.2l2.6 1v-0.9l0.4 0.1v-1l0.4 0.1v-1.3l2.4 0.9v-0.8l0.4 0.1v-1.8l1 0.4v-1.2l1.4 0.6v-2.1l1.6 0.6v-1.4l0.8 0.3v-1.8l0.8 0.3v-1.7l0.4 0.1v-0.9l0.6 0.3v-1l0.4 0.2v-2.7l1.4 0.5v-0.9l0.4 0.1v-1.2l1 0.4v-2.2l0.4 0.2v-1.5l1 0.4v-1.8l0.1 0.1" stroke="#00BFC4" stroke-width="0.7" fill="none"/>
<path d="M34.6 587.4l3.6 1.4v-2.1l4.8 1.8v-1.8l3.4 1.3v-1.9l9.8 3.8v-1.8l1 0.4v-2.2l9 3.5v-1.3l2 0.8v-0.7l1.2 0.5v-1l4.2 1.6v-2l4.4 1.7v-2l6.6 2.6v-1.5l2.8 1.1v-2.1l6.8 2.7v-2.2l7.4 2.9v-1.5l3.6 1.4v-2.3l5.6 2.2v-2.1l7.4 2.9v-0.8l1.6 0.6v-1.9l10.2 4v-1.9l7 2.8v-0.6l2.6 1v-1.6l6 2.3v-1.2l9.4 3.7v-0.6l0.4 0.1v-0.4l3.6 1.4v-0.6l1.8 0.7v-0.8l4 1.6v-1l7.2 2.8v-1l5.6 2.2v-0.8l3.6 1.4v-0.7l4.8 1.9v-0.4l4.8 1.9v-0.2l4.2 1.7v-0.3l2.6 1v-0.1l1.2 0.5v-0.2l3.8 1.5v-0.3l4.2 1.6v-0.3l3.8 1.5v-0.3l2.2 0.9v-0.6l7.6 2.9v-1l8.8 3.5v-0.7l1 0.4v-1.3l4.8 1.9v-1.1l6 2.3v-1.1l1 0.4v-1.2l2.8 1.1v-1.2l3.6 1.4v-1.1l1.8 0.7v-1.1l2.6 1v-1.3l2.4 0.9v-2.1l3.4 1.3v-1.8l1.6 0.6v-0.8l0.6 0.3v-1.1l1.4 0.6v-1.4l3.4 1.3v-2l2.4 0.9v-1.7l2.6 1.1v-0.9l1 0.4v-1.7l3.2 1.2v-1.2l1.4 0.5v-1l1.8 0.7v-0.8l0.8 0.3v-0.8l2 0.8v-1l0.6 0.2v-0.9l2 0.8v-2.4l3.2 1.3v-2l1.4 0.6v-0.8l0.6 0.2v-2l4 1.5v-1.7l1.4 0.5v-1.3l2.4 1v-1.8l1.4 0.5v-2.3l3 1.2v-1.8l0.8 0.4v-1.2l1.8 0.8v-2.7l2.2 0.9v-0.8l0.6 0.2v-0.9l0.4 0.1v-1.9l2.4 1v-2.4l1.2 0.4v-1.6l1.2 0.4v-2.2l1.2 0.5v-2.1l1.6 0.7v-2.7l0.7 0.3" stroke="#D89000" stroke-width="0.7" fill="none"/>
<path d="M34.6 587.4l0.4 0.2v-1.4l4.2 1.7v-2.5l11.2 4.4v-2.5l6.8 2.7v-0.8l0.2 0.1v-1.8l3.6 1.4v-2.6l8.4 3.2v-0.9l3 1.2v-1l2.2 0.9v-1.4l3 1.1v-1l3.4 1.3v-0.9l6.2 2.5v-2l1.8 0.7v-0.9l5.4 2.1v-1l2 0.8v-1.3l5.8 2.3v-2.3l6.6 2.6v-1.1l0.2 0v-1.9l9 3.5v-1.6l3.2 1.2v-1l3.6 1.5v-0.8l2.4 0.9v-1.6l5.6 2.2v-1.7l11.6 4.5v-0.6l1 0.4v-1.7l6.2 2.5v-1.6l11 4.3v-1.2l6.4 2.5v-0.9l4.2 1.6v-0.4l1.2 0.4v-1l7.6 3v-0.5l3 1.2v-0.6l7.6 3v-0.2l1.8 0.7v-0.2l1.8 0.7v-0.1l3.8 1.5v-0.2l2 0.8v-0.1l0.2 0.1v-0.1l1.8 0.7v-0.1l0.4 0.2v-0.2l3.2 1.2v-0.2l3 1.2v-0.5l5.4 2.1v-0.3l3.2 1.2v-0.6l3 1.2v-0.6l4.8 1.9v-0.7l4.2 1.6v-0.6l3.4 1.3v-1.1l4.8 1.9v-1.7l4.6 1.8v-0.6l1 0.4v-1.5l3.2 1.3v-2l3.6 1.5v-0.6l0.2 0.1v-1.5l3.4 1.3v-2.1l2.6 1.1v-1.5l2.4 0.9v-1.6l2.8 1.1v-1.7l1.4 0.5v-0.9l1.6 0.6v-1.6l1.6 0.6v-2.3l3.4 1.4v-1.6l3.2 1.3v-1.6l1.2 0.5v-1l1.4 0.6v-1.9l2.4 1v-1.4l3 1.2v-0.7l1.2 0.4v-1.4l1.2 0.4v-0.8l0.4 0.2v-1l1.2 0.5v-1.3l1.6 0.7v-1.7l3.4 1.3v-1.6l1.2 0.5v-1.6l2.6 1v-1l0.2 0v-2.4l3.8 1.4v-2.6l2 0.8v-2.6l3.6 1.4v-1l0.6 0.2v-0.7l0.6 0.3v-2.4l1.2 0.4v-0.9l1.2 0.5v-1.7l1 0.4v-2.4l1.8 0.7v-0.7l0.2 0v-2.6l2.4 1v-0.9l0.2 0.1v-2.2l0.9 0.4" stroke="#9590FF" stroke-width="0.7" fill="none"/>
<path d="M34.6 587.4l3.4 1.3v-2.1l6.4 2.5v-2.5l5.4 2.1v-1l4.8 1.9v-2.4l5.4 2.1v-0.7l3.8 1.5v-2.6l6.8 2.7v-0.9l4.2 1.7v-2.6l6 2.4v-2.1l6.8 2.7v-0.9l2 0.7v-0.8l2 0.8v-1.9l2.8 1.1v-1.4l7.2 2.9v-1.6l1.2 0.5v-1.8l4.4 1.7v-1.8l5.2 2v-2.3l10.6 4.2v-0.9l1.4 0.6v-1l2.8 1.1v-1.5l6.8 2.6v-1.6l5.2 2.1v-1.6l10 3.9v-1.3l2 0.8v-0.7l4.8 1.9v-1.2l7.2 2.8v-0.5l4 1.5v-1.2l3.2 1.2v-0.8l7 2.8v-0.8l4.4 1.7v-0.5l4 1.6v-0.3l5.4 2.1v-0.3l3.2 1.2v-0.1l0.8 0.3v-0.2l4.2 1.7v-0.2l0.2 0.1v-0.3l5.6 2.2v-0.2l2.4 1v-0.2l1.6 0.6v-0.4l5.6 2.2v-0.3l1 0.4v-0.6l3.6 1.4v-0.9l9 3.5v-1.2l4 1.6v-1.5l4 1.6v-1.7l5.2 2.1v-0.9l0.2 0.1v-1.6l5.2 2v-1.1l0.2 0v-0.8l2.6 1.1v-1.4l1.2 0.5v-1.7l2.2 0.8v-1.6l3.6 1.4v-0.7l0.4 0.1v-1.4l1.6 0.7v-0.7l1.4 0.6v-0.9l2.6 1v-0.9l1 0.4v-1.2l2.2 0.9v-1.2l0.4 0.2v-0.7l1 0.4v-1.1l3.2 1.3v-2.3l1.8 0.7v-1l3.2 1.3v-1.4l0.2 0.1v-0.8l2.2 0.9v-2.2l2 0.8v-1.8l2.8 1v-2.4l4.2 1.7v-2.3l1.4 0.6v-1.9l2.8 1.1v-2.5l3.6 1.4v-1.5l1 0.4v-0.8l2.2 0.9v-1.3l0.2 0v-1.8l3.4 1.3v-1.8l1.4 0.6v-1.4l1.6 0.6v-2.3l2.2 0.9v-1.7l0.6 0.2v-1.9l1.8 0.7v-0.9l0.2 0.1v-2.6l3.2 1.3v-1.9l0.4 0.1v-2.6l1.9 0.8" stroke="#00B0F6" stroke-width="0.7" fill="none"/>
<path d="M34.6 587.4l2.6 1v-1.8l4 1.5v-1.7l1.4 0.5v-0.8l3.8 1.5v-2.3l4 1.5v-1.6l3.2 1.3v-1.6l3.8 1.5v-1.6l2 0.8v-2.4l4.2 1.7v-2.3l9.4 3.7v-2.1l4.4 1.7v-1.2l2.2 0.9v-2.5l10 3.9v-1.6l5 2v-2.4l7.8 3.1v-2l7.4 2.9v-1l9.2 3.6v-1.7l3.4 1.4v-1.3l3.8 1.5v-1.8l10.8 4.3v-0.7l0.4 0.1v-0.7l8 3.2v-0.9l0.2 0.1v-1.7l6.8 2.7v-1l7.4 3v-0.9l3.8 1.5v-0.5l0.2 0.1v-0.7l5.2 2.1v-1.1l6 2.4v-0.8l4 1.6v-0.3l4.4 1.7v-0.6l4.2 1.6v-0.5l8.4 3.3v-0.1l0.2 0.1v-0.2l1.6 0.7v-0.3l3 1.2v-0.1l3 1.2v-0.3l2.8 1.1v-0.4l4.8 1.9v-0.2l3 1.2v-0.8l8.6 3.4v-1.1l4 1.6v-1l5.2 2v-1.3l3.6 1.4v-0.6l4.4 1.7v-1.2l3 1.2v-1l1.2 0.5v-0.5l3.2 1.2v-1l1.8 0.7v-1.2l0.8 0.3v-1.5l4.2 1.6v-1l0.6 0.2v-1.9l3.6 1.4v-1l0.4 0.2v-0.6l2.2 0.8v-2l2.4 0.9v-0.8l0.2 0.1v-2l2.6 1v-1.6l1.8 0.7v-1.3l3.2 1.2v-1.5l1.4 0.5v-0.9l2.8 1.1v-1.8l2.4 0.9v-1.4l2 0.8v-1.1l1.8 0.7v-1.4l1 0.4v-1l2.2 0.9v-2.4l2.8 1.1v-0.7l1 0.4v-0.9l1.6 0.6v-1.4l2.4 0.9v-1.5l1.6 0.7v-2.1l1.2 0.4v-1.1l1.2 0.5v-2.3l3.8 1.5v-0.8l0.2 0.1v-0.8l1.2 0.5v-1.9l0.6 0.3v-0.8l2 0.8v-1l0.8 0.3v-1.6l1.4 0.6v-2.5l2.2 0.8v-1.8l0.6 0.3v-0.7l0.2 0v-1.6l2 0.8v-2.5l1 0.4v-0.9l0.8 0.3v-2.4l1.3 0.5" stroke="#E76BF3" stroke-width="0.7" fill="none"/>
<path d="M34.6 587.4l0.8 0.3v-0.8l4.2 1.6v-2l1.2 0.5v-2l4.6 1.8v-1.3l3.8 1.5v-1.2l0.2 0.1v-2.2l6 2.4v-2l1 0.4v-1.8l5.8 2.3v-1.1l1.8 0.7v-2.1l7.8 3v-1.3l4.8 1.9v-1.5l4.8 1.8v-2.4l7 2.8v-0.9l1.4 0.6v-2.1l4.2 1.7v-1.1l3.6 1.4v-2.2l12.8 5v-2.2l11.2 4.4v-2l4.6 1.8v-0.8l3.2 1.3v-1.3l9.2 3.6v-1.2l5.8 2.3v-1.1l4.6 1.8v-1.2l2.4 0.9v-1.3l7 2.7v-0.8l4.2 1.7v-1.1l7 2.8v-0.9l4.6 1.8v-0.8l4.4 1.7v-0.3l1.2 0.5v-0.3l3.6 1.4v-0.4l5.4 2.1v-0.1l0.2 0.1v-0.4l2.6 1v-0.2l4.4 1.7v-0.3l5.2 2v-0.3l3.2 1.3v-0.3l4.2 1.6v-0.3l4.4 1.7v-0.4l5.6 2.2v-0.7l2 0.8v-0.9l8.4 3.3v-1.4l4.6 1.9v-1l4 1.5v-0.7l1.8 0.7v-0.9l3.8 1.5v-1.5l4.6 1.8v-0.6l0.4 0.1v-1.5l3.6 1.4v-1.6l2.4 1v-2.1l3.4 1.4v-1.3l0.8 0.3v-1.9l1.8 0.7v-0.8l1.4 0.5v-1.5l3.4 1.3v-2.3l1.6 0.6v-1.5l3.6 1.4v-1.8l1.6 0.7v-1l1.2 0.5v-0.9l2.8 1.1v-1.7l2.8 1.1v-1.8l1.2 0.5v-1.9l2.4 1v-0.8l2.6 1.1v-1.1l0.6 0.2v-1.4l1.6 0.7v-0.9l0.8 0.3v-1.9l3.4 1.3v-1.7l2.4 0.9v-0.7l0.2 0v-1.2l1.6 0.7v-0.8l0.2 0.1v-2.4l4 1.5v-1.2l0.4 0.2v-1.6l2.4 0.9v-2.1l0.8 0.3v-1.3l1.6 0.6v-2.1l2 0.8v-1.2l2 0.7v-1.8l1 0.4v-1.7l0.8 0.3v-1.7l1.6 0.6v-2.4l2 0.8v-1.3l0.7 0.3v-2.1" stroke="#FF62BC" stroke-width="0.7" fill="none"/>
<line x1="171.7" y1="537" x2="175.9" y2="537" stroke="#F8766D" stroke-width="1.2" stroke-opacity="0.75"/>
<text x="177.7" y="538.1" font-size="8.29">autophagosome</text>
<line x1="171.7" y1="543.4" x2="175.9" y2="543.4" stroke="#D89000" stroke-width="1.2" stroke-opacity="0.75"/>
<text x="177.7" y="544.5" font-size="8.29">autophagy</text>
<line x1="171.7" y1="549.8" x2="175.9" y2="549.8" stroke="#A3A500" stroke-width="1.2" stroke-opacity="0.75"/>
<text x="177.7" y="550.9" font-size="8.29">collagen−containing extracellular matrix</text>
<line x1="171.7" y1="556.2" x2="175.9" y2="556.2" stroke="#39B600" stroke-width="1.2" stroke-opacity="0.75"/>
<text x="177.7" y="557.3" font-size="8.29">DNA−templated DNA replication</text>
<line x1="171.7" y1="562.6" x2="175.9" y2="562.6" stroke="#00BF7D" stroke-width="1.2" stroke-opacity="0.75"/>
<text x="177.7" y="563.7" font-size="8.29">extracellular matrix</text>
<line x1="171.7" y1="569" x2="175.9" y2="569" stroke="#00BFC4" stroke-width="1.2" stroke-opacity="0.75"/>
<text x="177.7" y="570.1" font-size="8.29">macroautophagy</text>
<line x1="171.7" y1="575.5" x2="175.9" y2="575.5" stroke="#00B0F6" stroke-width="1.2" stroke-opacity="0.75"/>
<text x="177.7" y="576.6" font-size="8.29">process utilizing autophagic mechanism</text>
<line x1="171.7" y1="581.9" x2="175.9" y2="581.9" stroke="#9590FF" stroke-width="1.2" stroke-opacity="0.75"/>
<text x="177.7" y="583" font-size="8.29">regulation of autophagy</text>
<line x1="171.7" y1="588.3" x2="175.9" y2="588.3" stroke="#E76BF3" stroke-width="1.2" stroke-opacity="0.75"/>
<text x="177.7" y="589.4" font-size="8.29">vacuolar membrane</text>
<line x1="171.7" y1="594.7" x2="175.9" y2="594.7" stroke="#FF62BC" stroke-width="1.2" stroke-opacity="0.75"/>
<text x="177.7" y="595.8" font-size="8.29">vacuole</text>
<line x1="420.9" y1="280.1" x2="420.9" y2="469.3" stroke="#EBEBEB" stroke-width="0.6"/>
<line x1="456.1" y1="280.1" x2="456.1" y2="469.3" stroke="#EBEBEB" stroke-width="0.6"/>
<line x1="491.2" y1="280.1" x2="491.2" y2="469.3" stroke="#EBEBEB" stroke-width="0.6"/>
<line x1="526.4" y1="280.1" x2="526.4" y2="469.3" stroke="#EBEBEB" stroke-width="0.6"/>
<line x1="561.5" y1="280.1" x2="561.5" y2="469.3" stroke="#EBEBEB" stroke-width="0.6"/>
<line x1="596.7" y1="280.1" x2="596.7" y2="469.3" stroke="#EBEBEB" stroke-width="0.6"/>
<line x1="631.8" y1="280.1" x2="631.8" y2="469.3" stroke="#EBEBEB" stroke-width="0.6"/>
<line x1="667" y1="280.1" x2="667" y2="469.3" stroke="#EBEBEB" stroke-width="0.6"/>
<polygon points="385.8,450.8 385.8,433.6 389.5,433.7 393.1,433.7 396.8,433.8 400.4,433.8 404.1,433.9 407.7,433.9 411.4,434 415,434 418.7,434.1 422.3,434.2 426,434.3 429.6,434.4 433.3,434.5 437,434.6 440.6,434.7 444.3,434.8 447.9,434.9 451.6,435.1 455.2,435.3 458.9,435.4 462.5,435.7 466.2,435.9 469.8,436.2 473.5,436.6 477.1,436.9 480.8,437.2 484.5,437.6 488.1,438.1 491.8,438.5 495.4,438.9 499.1,439.3 502.7,439.7 506.4,440.2 510,440.6 513.7,441.1 517.3,441.6 521,442.1 524.6,442.7 528.3,443.2 532,443.8 535.6,444.5 539.3,445.4 542.9,446.4 546.6,447.4 550.2,448.5 553.9,449.6 557.5,450.8 561.2,451.8 564.8,452.9 568.5,453.9 572.1,455.1 575.8,456.2 579.5,457.3 583.1,458.3 586.8,459.1 590.4,459.9 594.1,460.6 597.7,461.3 601.4,461.9 605,462.5 608.7,463 612.3,463.5 616,463.9 619.6,464.2 623.3,464.6 627,464.9 630.6,465.1 634.3,465.4 637.9,465.6 641.6,465.9 645.2,466.1 648.9,466.3 652.5,466.5 656.2,466.6 659.8,466.8 663.5,466.9 667.1,467.1 670.8,467.2 674.5,467.3 674.5,450.8" fill="#BEBEBE"/>
<line x1="385.6" y1="280.1" x2="385.6" y2="469.8" stroke="#A3A3A3" stroke-width="1"/>
<line x1="385.1" y1="469.3" x2="674.5" y2="469.3" stroke="#A3A3A3" stroke-width="1"/>
<line x1="384" y1="302" x2="385.6" y2="302" stroke="#A3A3A3" stroke-width="0.7"/>
<text x="383.9" y="304.6" font-size="8.1" text-anchor="end" fill="#3A3A3A" class="t">0.4</text>
<line x1="384" y1="323.9" x2="385.6" y2="323.9" stroke="#A3A3A3" stroke-width="0.7"/>
<text x="383.9" y="326.5" font-size="8.1" text-anchor="end" fill="#3A3A3A" class="t">0.2</text>
<line x1="384" y1="346.2" x2="385.6" y2="346.2" stroke="#A3A3A3" stroke-width="0.7"/>
<text x="383.9" y="348.8" font-size="8.1" text-anchor="end" fill="#3A3A3A" class="t">0.0</text>
<line x1="384" y1="367.7" x2="385.6" y2="367.7" stroke="#A3A3A3" stroke-width="0.7"/>
<text x="383.9" y="370.3" font-size="8.1" text-anchor="end" fill="#3A3A3A" class="t">−0.2</text>
<line x1="384" y1="390" x2="385.6" y2="390" stroke="#A3A3A3" stroke-width="0.7"/>
<text x="383.9" y="392.6" font-size="8.1" text-anchor="end" fill="#3A3A3A" class="t">−0.4</text>
<line x1="384" y1="433.5" x2="385.6" y2="433.5" stroke="#A3A3A3" stroke-width="0.7"/>
<text x="384.2" y="436.4" font-size="8.1" text-anchor="end" fill="#3A3A3A" class="t">1.0</text>
<line x1="384" y1="442" x2="385.6" y2="442" stroke="#A3A3A3" stroke-width="0.7"/>
<text x="384.2" y="444.8" font-size="8.1" text-anchor="end" fill="#3A3A3A" class="t">0.5</text>
<line x1="384" y1="450.6" x2="385.6" y2="450.6" stroke="#A3A3A3" stroke-width="0.7"/>
<text x="384.2" y="453.5" font-size="8.1" text-anchor="end" fill="#3A3A3A" class="t">0.0</text>
<line x1="384" y1="459.2" x2="385.6" y2="459.2" stroke="#A3A3A3" stroke-width="0.7"/>
<text x="384.2" y="462.7" font-size="8.1" text-anchor="end" fill="#3A3A3A" class="t">−0.5</text>
<line x1="384" y1="467.7" x2="385.6" y2="467.7" stroke="#A3A3A3" stroke-width="0.7"/>
<text x="384.2" y="471.1" font-size="8.1" text-anchor="end" fill="#3A3A3A" class="t">−1.0</text>
<line x1="456.1" y1="469.3" x2="456.1" y2="470.9" stroke="#A3A3A3" stroke-width="0.7"/>
<text x="456.4" y="477.1" font-size="8.1" text-anchor="middle" fill="#3A3A3A" class="t">3000</text>
<line x1="526.4" y1="469.3" x2="526.4" y2="470.9" stroke="#A3A3A3" stroke-width="0.7"/>
<text x="526.4" y="477.1" font-size="8.1" text-anchor="middle" fill="#3A3A3A" class="t">6000</text>
<line x1="596.7" y1="469.3" x2="596.7" y2="470.9" stroke="#A3A3A3" stroke-width="0.7"/>
<text x="596.1" y="477.1" font-size="8.1" text-anchor="middle" fill="#3A3A3A" class="t">9000</text>
<line x1="667" y1="469.3" x2="667" y2="470.9" stroke="#A3A3A3" stroke-width="0.7"/>
<text x="668.4" y="477.1" font-size="8.1" text-anchor="middle" fill="#3A3A3A" class="t">12000</text>
<text x="532" y="485.7" font-size="8.4" text-anchor="middle">Rank in Ordered Dataset</text>
<text x="366" y="340.4" font-size="8.47" text-anchor="middle" transform="rotate(-90 366 340.4)">Running Enrichment Score</text>
<text x="366" y="438" font-size="8.43" text-anchor="middle" transform="rotate(-90 366 438)">Ranked List Metric</text>
<text x="336.2" y="262.7" font-size="16" font-weight="bold">(D)</text>
<path d="M386.3 393.4v3.8M394.3 393.4v3.8M408.3 393.4v3.8M436.3 393.4v3.8M437.3 393.4v3.8M486.3 393.4v3.8M493.3 393.4v3.8M544.3 393.4v3.8M557.3 393.4v3.8M624.3 393.4v3.8M647.3 393.4v3.8" stroke="#33A02C" stroke-opacity="0.2" stroke-width="1"/>
<path d="M402.3 393.4v3.8M426.3 393.4v3.8M631.3 393.4v3.8" stroke="#33A02C" stroke-opacity="0.3" stroke-width="1"/>
<path d="M388.3 393.4v3.8M447.3 393.4v3.8" stroke="#33A02C" stroke-opacity="0.5" stroke-width="1"/>
<path d="M390.3 393.4v3.8M392.3 393.4v3.8M393.3 393.4v3.8M395.3 393.4v3.8M530.3 393.4v3.8M551.3 393.4v3.8M569.3 393.4v3.8" stroke="#33A02C" stroke-opacity="0.7" stroke-width="1"/>
<path d="M389.3 393.4v3.8M397.3 393.4v3.8M414.3 393.4v3.8M455.3 393.4v3.8M611.3 393.4v3.8" stroke="#33A02C" stroke-opacity="0.9" stroke-width="1"/>
<path d="M390.3 397.2v3.8M395.3 397.2v3.8M400.3 397.2v3.8M409.3 397.2v3.8M414.3 397.2v3.8M417.3 397.2v3.8M420.3 397.2v3.8M428.3 397.2v3.8M431.3 397.2v3.8M437.3 397.2v3.8M438.3 397.2v3.8M441.3 397.2v3.8M442.3 397.2v3.8M452.3 397.2v3.8M455.3 397.2v3.8M456.3 397.2v3.8M459.3 397.2v3.8M460.3 397.2v3.8M467.3 397.2v3.8M474.3 397.2v3.8M484.3 397.2v3.8M489.3 397.2v3.8M501.3 397.2v3.8M519.3 397.2v3.8M524.3 397.2v3.8M542.3 397.2v3.8M547.3 397.2v3.8M551.3 397.2v3.8M555.3 397.2v3.8M557.3 397.2v3.8M566.3 397.2v3.8M567.3 397.2v3.8M581.3 397.2v3.8M586.3 397.2v3.8M594.3 397.2v3.8M595.3 397.2v3.8M599.3 397.2v3.8M600.3 397.2v3.8M614.3 397.2v3.8M624.3 397.2v3.8M642.3 397.2v3.8M647.3 397.2v3.8M651.3 397.2v3.8M655.3 397.2v3.8" stroke="#FF7F00" stroke-opacity="0.2" stroke-width="1"/>
<path d="M393.3 397.2v3.8M401.3 397.2v3.8M418.3 397.2v3.8M419.3 397.2v3.8M433.3 397.2v3.8M435.3 397.2v3.8M436.3 397.2v3.8M449.3 397.2v3.8M451.3 397.2v3.8M463.3 397.2v3.8M465.3 397.2v3.8M466.3 397.2v3.8M470.3 397.2v3.8M471.3 397.2v3.8M475.3 397.2v3.8M478.3 397.2v3.8M483.3 397.2v3.8M486.3 397.2v3.8M491.3 397.2v3.8M507.3 397.2v3.8M516.3 397.2v3.8M531.3 397.2v3.8M549.3 397.2v3.8M552.3 397.2v3.8M554.3 397.2v3.8M558.3 397.2v3.8M593.3 397.2v3.8M598.3 397.2v3.8M602.3 397.2v3.8M623.3 397.2v3.8M628.3 397.2v3.8M629.3 397.2v3.8M644.3 397.2v3.8M653.3 397.2v3.8M661.3 397.2v3.8M665.3 397.2v3.8M669.3 397.2v3.8M670.3 397.2v3.8" stroke="#FF7F00" stroke-opacity="0.3" stroke-width="1"/>
<path d="M392.3 397.2v3.8M398.3 397.2v3.8M399.3 397.2v3.8M405.3 397.2v3.8M406.3 397.2v3.8M425.3 397.2v3.8M439.3 397.2v3.8M450.3 397.2v3.8M482.3 397.2v3.8M485.3 397.2v3.8M494.3 397.2v3.8M497.3 397.2v3.8M512.3 397.2v3.8M515.3 397.2v3.8M520.3 397.2v3.8M537.3 397.2v3.8M538.3 397.2v3.8M540.3 397.2v3.8M545.3 397.2v3.8M556.3 397.2v3.8M569.3 397.2v3.8M577.3 397.2v3.8M578.3 397.2v3.8M579.3 397.2v3.8M582.3 397.2v3.8M585.3 397.2v3.8M604.3 397.2v3.8M607.3 397.2v3.8M612.3 397.2v3.8M613.3 397.2v3.8M617.3 397.2v3.8M641.3 397.2v3.8M645.3 397.2v3.8M649.3 397.2v3.8" stroke="#FF7F00" stroke-opacity="0.5" stroke-width="1"/>
<path d="M386.3 397.2v3.8M388.3 397.2v3.8M389.3 397.2v3.8M397.3 397.2v3.8M402.3 397.2v3.8M410.3 397.2v3.8M411.3 397.2v3.8M416.3 397.2v3.8M430.3 397.2v3.8M440.3 397.2v3.8M453.3 397.2v3.8M469.3 397.2v3.8M490.3 397.2v3.8M500.3 397.2v3.8M502.3 397.2v3.8M505.3 397.2v3.8M508.3 397.2v3.8M521.3 397.2v3.8M533.3 397.2v3.8M563.3 397.2v3.8M572.3 397.2v3.8M603.3 397.2v3.8M606.3 397.2v3.8M610.3 397.2v3.8M636.3 397.2v3.8" stroke="#FF7F00" stroke-opacity="0.7" stroke-width="1"/>
<path d="M391.3 397.2v3.8M394.3 397.2v3.8M396.3 397.2v3.8M407.3 397.2v3.8M424.3 397.2v3.8M429.3 397.2v3.8M446.3 397.2v3.8M448.3 397.2v3.8M468.3 397.2v3.8M473.3 397.2v3.8M477.3 397.2v3.8M493.3 397.2v3.8M504.3 397.2v3.8M522.3 397.2v3.8M528.3 397.2v3.8M548.3 397.2v3.8M559.3 397.2v3.8M560.3 397.2v3.8M574.3 397.2v3.8M588.3 397.2v3.8M615.3 397.2v3.8M646.3 397.2v3.8M658.3 397.2v3.8M659.3 397.2v3.8M671.3 397.2v3.8" stroke="#FF7F00" stroke-opacity="0.9" stroke-width="1"/>
<path d="M397.3 400.9v3.8M409.3 400.9v3.8M410.3 400.9v3.8M412.3 400.9v3.8M443.3 400.9v3.8M446.3 400.9v3.8M448.3 400.9v3.8M466.3 400.9v3.8M472.3 400.9v3.8M473.3 400.9v3.8M478.3 400.9v3.8M487.3 400.9v3.8M498.3 400.9v3.8M500.3 400.9v3.8M501.3 400.9v3.8M504.3 400.9v3.8M517.3 400.9v3.8M527.3 400.9v3.8M531.3 400.9v3.8M536.3 400.9v3.8M544.3 400.9v3.8M553.3 400.9v3.8M556.3 400.9v3.8M557.3 400.9v3.8M565.3 400.9v3.8M572.3 400.9v3.8M575.3 400.9v3.8M576.3 400.9v3.8M580.3 400.9v3.8M593.3 400.9v3.8M598.3 400.9v3.8M612.3 400.9v3.8M613.3 400.9v3.8M614.3 400.9v3.8M615.3 400.9v3.8M621.3 400.9v3.8M630.3 400.9v3.8M647.3 400.9v3.8M652.3 400.9v3.8M661.3 400.9v3.8M669.3 400.9v3.8M673.3 400.9v3.8" stroke="#CAB2D6" stroke-opacity="0.2" stroke-width="1"/>
<path d="M395.3 400.9v3.8M404.3 400.9v3.8M417.3 400.9v3.8M421.3 400.9v3.8M431.3 400.9v3.8M433.3 400.9v3.8M437.3 400.9v3.8M440.3 400.9v3.8M449.3 400.9v3.8M450.3 400.9v3.8M463.3 400.9v3.8M481.3 400.9v3.8M494.3 400.9v3.8M518.3 400.9v3.8M522.3 400.9v3.8M539.3 400.9v3.8M547.3 400.9v3.8M564.3 400.9v3.8M573.3 400.9v3.8M577.3 400.9v3.8M601.3 400.9v3.8M657.3 400.9v3.8M659.3 400.9v3.8M662.3 400.9v3.8M666.3 400.9v3.8" stroke="#CAB2D6" stroke-opacity="0.3" stroke-width="1"/>
<path d="M388.3 400.9v3.8M391.3 400.9v3.8M394.3 400.9v3.8M398.3 400.9v3.8M399.3 400.9v3.8M400.3 400.9v3.8M406.3 400.9v3.8M408.3 400.9v3.8M419.3 400.9v3.8M424.3 400.9v3.8M432.3 400.9v3.8M434.3 400.9v3.8M460.3 400.9v3.8M476.3 400.9v3.8M479.3 400.9v3.8M486.3 400.9v3.8M488.3 400.9v3.8M492.3 400.9v3.8M508.3 400.9v3.8M524.3 400.9v3.8M555.3 400.9v3.8M559.3 400.9v3.8M578.3 400.9v3.8M592.3 400.9v3.8M596.3 400.9v3.8M604.3 400.9v3.8M620.3 400.9v3.8M628.3 400.9v3.8M631.3 400.9v3.8M665.3 400.9v3.8" stroke="#CAB2D6" stroke-opacity="0.5" stroke-width="1"/>
<path d="M392.3 400.9v3.8M396.3 400.9v3.8M413.3 400.9v3.8M415.3 400.9v3.8M435.3 400.9v3.8M457.3 400.9v3.8M459.3 400.9v3.8M482.3 400.9v3.8M485.3 400.9v3.8M528.3 400.9v3.8M532.3 400.9v3.8M543.3 400.9v3.8M566.3 400.9v3.8M568.3 400.9v3.8M590.3 400.9v3.8M626.3 400.9v3.8M634.3 400.9v3.8M638.3 400.9v3.8M667.3 400.9v3.8" stroke="#CAB2D6" stroke-opacity="0.7" stroke-width="1"/>
<path d="M386.3 400.9v3.8M401.3 400.9v3.8M403.3 400.9v3.8M414.3 400.9v3.8M423.3 400.9v3.8M427.3 400.9v3.8M444.3 400.9v3.8M454.3 400.9v3.8M455.3 400.9v3.8M465.3 400.9v3.8M468.3 400.9v3.8M484.3 400.9v3.8M499.3 400.9v3.8M523.3 400.9v3.8M552.3 400.9v3.8M583.3 400.9v3.8M603.3 400.9v3.8M607.3 400.9v3.8M637.3 400.9v3.8M645.3 400.9v3.8M655.3 400.9v3.8" stroke="#CAB2D6" stroke-opacity="0.9" stroke-width="1"/>
<path d="M403.3 404.7v3.8M406.3 404.7v3.8M407.3 404.7v3.8M420.3 404.7v3.8M430.3 404.7v3.8M438.3 404.7v3.8M441.3 404.7v3.8M448.3 404.7v3.8M450.3 404.7v3.8M455.3 404.7v3.8M466.3 404.7v3.8M468.3 404.7v3.8M479.3 404.7v3.8M513.3 404.7v3.8M529.3 404.7v3.8M540.3 404.7v3.8M545.3 404.7v3.8M563.3 404.7v3.8M579.3 404.7v3.8M588.3 404.7v3.8M596.3 404.7v3.8M616.3 404.7v3.8M617.3 404.7v3.8M621.3 404.7v3.8M644.3 404.7v3.8M659.3 404.7v3.8M666.3 404.7v3.8M667.3 404.7v3.8M669.3 404.7v3.8" stroke="#B2DF8A" stroke-opacity="0.2" stroke-width="1"/>
<path d="M394.3 404.7v3.8M412.3 404.7v3.8M446.3 404.7v3.8M454.3 404.7v3.8M477.3 404.7v3.8M484.3 404.7v3.8M485.3 404.7v3.8M488.3 404.7v3.8M492.3 404.7v3.8M493.3 404.7v3.8M506.3 404.7v3.8M511.3 404.7v3.8M514.3 404.7v3.8M516.3 404.7v3.8M543.3 404.7v3.8M549.3 404.7v3.8M557.3 404.7v3.8M559.3 404.7v3.8M564.3 404.7v3.8M569.3 404.7v3.8M580.3 404.7v3.8M592.3 404.7v3.8M595.3 404.7v3.8M598.3 404.7v3.8M613.3 404.7v3.8M619.3 404.7v3.8M625.3 404.7v3.8M626.3 404.7v3.8M630.3 404.7v3.8M635.3 404.7v3.8M642.3 404.7v3.8M653.3 404.7v3.8M664.3 404.7v3.8M674.3 404.7v3.8" stroke="#B2DF8A" stroke-opacity="0.3" stroke-width="1"/>
<path d="M388.3 404.7v3.8M395.3 404.7v3.8M404.3 404.7v3.8M405.3 404.7v3.8M414.3 404.7v3.8M421.3 404.7v3.8M426.3 404.7v3.8M442.3 404.7v3.8M460.3 404.7v3.8M462.3 404.7v3.8M470.3 404.7v3.8M500.3 404.7v3.8M509.3 404.7v3.8M510.3 404.7v3.8M536.3 404.7v3.8M541.3 404.7v3.8M565.3 404.7v3.8M571.3 404.7v3.8M594.3 404.7v3.8M607.3 404.7v3.8M610.3 404.7v3.8M618.3 404.7v3.8M627.3 404.7v3.8M631.3 404.7v3.8M661.3 404.7v3.8M668.3 404.7v3.8" stroke="#B2DF8A" stroke-opacity="0.5" stroke-width="1"/>
<path d="M392.3 404.7v3.8M399.3 404.7v3.8M400.3 404.7v3.8M409.3 404.7v3.8M419.3 404.7v3.8M429.3 404.7v3.8M443.3 404.7v3.8M456.3 404.7v3.8M457.3 404.7v3.8M474.3 404.7v3.8M475.3 404.7v3.8M481.3 404.7v3.8M486.3 404.7v3.8M487.3 404.7v3.8M533.3 404.7v3.8M573.3 404.7v3.8M599.3 404.7v3.8M611.3 404.7v3.8M623.3 404.7v3.8M652.3 404.7v3.8" stroke="#B2DF8A" stroke-opacity="0.7" stroke-width="1"/>
<path d="M391.3 404.7v3.8M393.3 404.7v3.8M413.3 404.7v3.8M435.3 404.7v3.8M445.3 404.7v3.8M452.3 404.7v3.8M453.3 404.7v3.8M463.3 404.7v3.8M467.3 404.7v3.8M483.3 404.7v3.8M495.3 404.7v3.8M504.3 404.7v3.8M515.3 404.7v3.8M525.3 404.7v3.8M527.3 404.7v3.8M542.3 404.7v3.8M554.3 404.7v3.8M649.3 404.7v3.8M672.3 404.7v3.8" stroke="#B2DF8A" stroke-opacity="0.9" stroke-width="1"/>
<path d="M426.3 408.4v3.8M462.3 408.4v3.8M463.3 408.4v3.8M482.3 408.4v3.8M512.3 408.4v3.8M526.3 408.4v3.8M536.3 408.4v3.8M573.3 408.4v3.8M575.3 408.4v3.8M586.3 408.4v3.8M633.3 408.4v3.8M640.3 408.4v3.8M645.3 408.4v3.8M646.3 408.4v3.8M670.3 408.4v3.8" stroke="#E31A1C" stroke-opacity="0.2" stroke-width="1"/>
<path d="M429.3 408.4v3.8M444.3 408.4v3.8M520.3 408.4v3.8M539.3 408.4v3.8M565.3 408.4v3.8M567.3 408.4v3.8M574.3 408.4v3.8M592.3 408.4v3.8M596.3 408.4v3.8M598.3 408.4v3.8M627.3 408.4v3.8M658.3 408.4v3.8M659.3 408.4v3.8M666.3 408.4v3.8M669.3 408.4v3.8" stroke="#E31A1C" stroke-opacity="0.3" stroke-width="1"/>
<path d="M409.3 408.4v3.8M452.3 408.4v3.8M470.3 408.4v3.8M530.3 408.4v3.8M535.3 408.4v3.8M548.3 408.4v3.8M572.3 408.4v3.8M631.3 408.4v3.8M632.3 408.4v3.8" stroke="#E31A1C" stroke-opacity="0.5" stroke-width="1"/>
<path d="M422.3 408.4v3.8M431.3 408.4v3.8M451.3 408.4v3.8M469.3 408.4v3.8M480.3 408.4v3.8M605.3 408.4v3.8M610.3 408.4v3.8M626.3 408.4v3.8M642.3 408.4v3.8M647.3 408.4v3.8M650.3 408.4v3.8M657.3 408.4v3.8M663.3 408.4v3.8M674.3 408.4v3.8" stroke="#E31A1C" stroke-opacity="0.7" stroke-width="1"/>
<path d="M432.3 408.4v3.8M467.3 408.4v3.8M479.3 408.4v3.8M537.3 408.4v3.8M568.3 408.4v3.8M571.3 408.4v3.8M579.3 408.4v3.8M608.3 408.4v3.8M612.3 408.4v3.8M618.3 408.4v3.8M620.3 408.4v3.8M634.3 408.4v3.8M660.3 408.4v3.8" stroke="#E31A1C" stroke-opacity="0.9" stroke-width="1"/>
<path d="M392.3 412.2v3.8M400.3 412.2v3.8M403.3 412.2v3.8M431.3 412.2v3.8M441.3 412.2v3.8M447.3 412.2v3.8M449.3 412.2v3.8M475.3 412.2v3.8M493.3 412.2v3.8M508.3 412.2v3.8M556.3 412.2v3.8" stroke="#1F78B4" stroke-opacity="0.2" stroke-width="1"/>
<path d="M425.3 412.2v3.8M457.3 412.2v3.8M467.3 412.2v3.8M478.3 412.2v3.8M481.3 412.2v3.8M523.3 412.2v3.8M574.3 412.2v3.8" stroke="#1F78B4" stroke-opacity="0.3" stroke-width="1"/>
<path d="M405.3 412.2v3.8M423.3 412.2v3.8M464.3 412.2v3.8M473.3 412.2v3.8M608.3 412.2v3.8M654.3 412.2v3.8" stroke="#1F78B4" stroke-opacity="0.5" stroke-width="1"/>
<path d="M411.3 412.2v3.8M488.3 412.2v3.8M500.3 412.2v3.8M553.3 412.2v3.8" stroke="#1F78B4" stroke-opacity="0.7" stroke-width="1"/>
<path d="M487.3 412.2v3.8" stroke="#1F78B4" stroke-opacity="0.9" stroke-width="1"/>
<path d="M386.3 416v3.8M398.3 416v3.8M414.3 416v3.8M417.3 416v3.8M418.3 416v3.8M419.3 416v3.8M428.3 416v3.8M433.3 416v3.8M439.3 416v3.8M464.3 416v3.8M466.3 416v3.8M472.3 416v3.8M510.3 416v3.8M519.3 416v3.8M536.3 416v3.8" stroke="#6A3D9A" stroke-opacity="0.2" stroke-width="1"/>
<path d="M396.3 416v3.8M402.3 416v3.8M416.3 416v3.8M421.3 416v3.8M440.3 416v3.8M476.3 416v3.8M480.3 416v3.8M512.3 416v3.8M546.3 416v3.8M566.3 416v3.8M616.3 416v3.8" stroke="#6A3D9A" stroke-opacity="0.3" stroke-width="1"/>
<path d="M390.3 416v3.8M401.3 416v3.8M413.3 416v3.8M435.3 416v3.8M626.3 416v3.8" stroke="#6A3D9A" stroke-opacity="0.5" stroke-width="1"/>
<path d="M394.3 416v3.8M461.3 416v3.8M483.3 416v3.8M509.3 416v3.8M653.3 416v3.8" stroke="#6A3D9A" stroke-opacity="0.7" stroke-width="1"/>
<path d="M532.3 416v3.8M567.3 416v3.8" stroke="#6A3D9A" stroke-opacity="0.9" stroke-width="1"/>
<path d="M397.3 419.7v3.8M402.3 419.7v3.8M413.3 419.7v3.8M423.3 419.7v3.8M427.3 419.7v3.8M442.3 419.7v3.8M468.3 419.7v3.8M472.3 419.7v3.8M520.3 419.7v3.8M524.3 419.7v3.8M532.3 419.7v3.8M538.3 419.7v3.8M544.3 419.7v3.8M547.3 419.7v3.8M553.3 419.7v3.8M556.3 419.7v3.8M576.3 419.7v3.8M580.3 419.7v3.8M583.3 419.7v3.8M585.3 419.7v3.8M586.3 419.7v3.8M588.3 419.7v3.8M590.3 419.7v3.8M607.3 419.7v3.8M620.3 419.7v3.8M627.3 419.7v3.8M660.3 419.7v3.8M674.3 419.7v3.8" stroke="#FB9A99" stroke-opacity="0.2" stroke-width="1"/>
<path d="M404.3 419.7v3.8M444.3 419.7v3.8M446.3 419.7v3.8M497.3 419.7v3.8M502.3 419.7v3.8M511.3 419.7v3.8M545.3 419.7v3.8M562.3 419.7v3.8M565.3 419.7v3.8M595.3 419.7v3.8M624.3 419.7v3.8M628.3 419.7v3.8M634.3 419.7v3.8M650.3 419.7v3.8M652.3 419.7v3.8M668.3 419.7v3.8" stroke="#FB9A99" stroke-opacity="0.3" stroke-width="1"/>
<path d="M408.3 419.7v3.8M417.3 419.7v3.8M429.3 419.7v3.8M430.3 419.7v3.8M435.3 419.7v3.8M457.3 419.7v3.8M474.3 419.7v3.8M506.3 419.7v3.8M546.3 419.7v3.8M559.3 419.7v3.8M573.3 419.7v3.8M577.3 419.7v3.8M591.3 419.7v3.8M599.3 419.7v3.8M605.3 419.7v3.8M637.3 419.7v3.8M640.3 419.7v3.8" stroke="#FB9A99" stroke-opacity="0.5" stroke-width="1"/>
<path d="M387.3 419.7v3.8M426.3 419.7v3.8M438.3 419.7v3.8M512.3 419.7v3.8M518.3 419.7v3.8M541.3 419.7v3.8M566.3 419.7v3.8M600.3 419.7v3.8M611.3 419.7v3.8M635.3 419.7v3.8M646.3 419.7v3.8M659.3 419.7v3.8M671.3 419.7v3.8" stroke="#FB9A99" stroke-opacity="0.7" stroke-width="1"/>
<path d="M392.3 419.7v3.8M406.3 419.7v3.8M412.3 419.7v3.8M436.3 419.7v3.8M469.3 419.7v3.8M483.3 419.7v3.8M486.3 419.7v3.8M516.3 419.7v3.8M517.3 419.7v3.8M521.3 419.7v3.8M540.3 419.7v3.8M550.3 419.7v3.8M554.3 419.7v3.8M570.3 419.7v3.8M594.3 419.7v3.8M598.3 419.7v3.8M601.3 419.7v3.8M623.3 419.7v3.8M638.3 419.7v3.8M645.3 419.7v3.8M669.3 419.7v3.8M672.3 419.7v3.8" stroke="#FB9A99" stroke-opacity="0.9" stroke-width="1"/>
<path d="M394.3 423.5v3.8M398.3 423.5v3.8M411.3 423.5v3.8M444.3 423.5v3.8M446.3 423.5v3.8M472.3 423.5v3.8M510.3 423.5v3.8M536.3 423.5v3.8M556.3 423.5v3.8M583.3 423.5v3.8M598.3 423.5v3.8M599.3 423.5v3.8M609.3 423.5v3.8M613.3 423.5v3.8M620.3 423.5v3.8M623.3 423.5v3.8M626.3 423.5v3.8M628.3 423.5v3.8M661.3 423.5v3.8M663.3 423.5v3.8M671.3 423.5v3.8M674.3 423.5v3.8" stroke="#A6CEE3" stroke-opacity="0.2" stroke-width="1"/>
<path d="M392.3 423.5v3.8M432.3 423.5v3.8M452.3 423.5v3.8M464.3 423.5v3.8M484.3 423.5v3.8M507.3 423.5v3.8M544.3 423.5v3.8M548.3 423.5v3.8M551.3 423.5v3.8M565.3 423.5v3.8M579.3 423.5v3.8M581.3 423.5v3.8M593.3 423.5v3.8M595.3 423.5v3.8M604.3 423.5v3.8M630.3 423.5v3.8M633.3 423.5v3.8M638.3 423.5v3.8M667.3 423.5v3.8" stroke="#A6CEE3" stroke-opacity="0.3" stroke-width="1"/>
<path d="M388.3 423.5v3.8M401.3 423.5v3.8M417.3 423.5v3.8M420.3 423.5v3.8M426.3 423.5v3.8M429.3 423.5v3.8M450.3 423.5v3.8M461.3 423.5v3.8M496.3 423.5v3.8M515.3 423.5v3.8M519.3 423.5v3.8M547.3 423.5v3.8M549.3 423.5v3.8M564.3 423.5v3.8M566.3 423.5v3.8M574.3 423.5v3.8M586.3 423.5v3.8M596.3 423.5v3.8M603.3 423.5v3.8M610.3 423.5v3.8M635.3 423.5v3.8M636.3 423.5v3.8M645.3 423.5v3.8M659.3 423.5v3.8M660.3 423.5v3.8M664.3 423.5v3.8M665.3 423.5v3.8M673.3 423.5v3.8" stroke="#A6CEE3" stroke-opacity="0.5" stroke-width="1"/>
<path d="M439.3 423.5v3.8M513.3 423.5v3.8M514.3 423.5v3.8M518.3 423.5v3.8M557.3 423.5v3.8M562.3 423.5v3.8M569.3 423.5v3.8M591.3 423.5v3.8M614.3 423.5v3.8M625.3 423.5v3.8M637.3 423.5v3.8M650.3 423.5v3.8" stroke="#A6CEE3" stroke-opacity="0.7" stroke-width="1"/>
<path d="M389.3 423.5v3.8M440.3 423.5v3.8M493.3 423.5v3.8M495.3 423.5v3.8M503.3 423.5v3.8M538.3 423.5v3.8M542.3 423.5v3.8M576.3 423.5v3.8M584.3 423.5v3.8M588.3 423.5v3.8M589.3 423.5v3.8M606.3 423.5v3.8M617.3 423.5v3.8M618.3 423.5v3.8M619.3 423.5v3.8M624.3 423.5v3.8M632.3 423.5v3.8M639.3 423.5v3.8M651.3 423.5v3.8M670.3 423.5v3.8M672.3 423.5v3.8" stroke="#A6CEE3" stroke-opacity="0.9" stroke-width="1"/>
<path d="M390.3 427.2v3.8M393.3 427.2v3.8M398.3 427.2v3.8M438.3 427.2v3.8M449.3 427.2v3.8M451.3 427.2v3.8M493.3 427.2v3.8M496.3 427.2v3.8M508.3 427.2v3.8M510.3 427.2v3.8M542.3 427.2v3.8M548.3 427.2v3.8M567.3 427.2v3.8M576.3 427.2v3.8M583.3 427.2v3.8M594.3 427.2v3.8" stroke="#FDBF6F" stroke-opacity="0.2" stroke-width="1"/>
<path d="M386.3 427.2v3.8M387.3 427.2v3.8M396.3 427.2v3.8M401.3 427.2v3.8M456.3 427.2v3.8M469.3 427.2v3.8M537.3 427.2v3.8M565.3 427.2v3.8M615.3 427.2v3.8M643.3 427.2v3.8" stroke="#FDBF6F" stroke-opacity="0.3" stroke-width="1"/>
<path d="M403.3 427.2v3.8M410.3 427.2v3.8M416.3 427.2v3.8M457.3 427.2v3.8M478.3 427.2v3.8M487.3 427.2v3.8M523.3 427.2v3.8M524.3 427.2v3.8M568.3 427.2v3.8M574.3 427.2v3.8M663.3 427.2v3.8" stroke="#FDBF6F" stroke-opacity="0.5" stroke-width="1"/>
<path d="M409.3 427.2v3.8M412.3 427.2v3.8M414.3 427.2v3.8M454.3 427.2v3.8M490.3 427.2v3.8M495.3 427.2v3.8M504.3 427.2v3.8M528.3 427.2v3.8M533.3 427.2v3.8M552.3 427.2v3.8M605.3 427.2v3.8" stroke="#FDBF6F" stroke-opacity="0.7" stroke-width="1"/>
<path d="M388.3 427.2v3.8M423.3 427.2v3.8M424.3 427.2v3.8M434.3 427.2v3.8M440.3 427.2v3.8M452.3 427.2v3.8M476.3 427.2v3.8M586.3 427.2v3.8M612.3 427.2v3.8M628.3 427.2v3.8" stroke="#FDBF6F" stroke-opacity="0.9" stroke-width="1"/>
<path d="M385.8 345.5l1 0.4v-1.5l9.8 3.7v-1.2l1 0.4v-0.8l3.6 1.4v-1.2l6.6 2.5v-1.6l3.4 1.3v-0.6l0.6 0.2v-0.6l2.6 1v-1.2l9.2 3.5v-0.8l0.2 0v-2.3l6.2 2.4v-2.4l9 3.4v-0.9l3.8 1.5v-2.2l7.6 2.9v-1.9l5.6 2.1v-1.9l5 1.9v-2.5l7.8 3v-2.4l6.4 2.4v-1.6l5 1.9v-2.1l6.2 2.3v-1l4.2 1.6v-1l2 0.8v-1.9l12 4.6v-1.2l19 7.3v-0.5l1.6 0.6v-1.4l21.6 8.3v-0.5l6.4 2.5v-0.4l9.4 3.6v-0.2l2.2 0.9v-0.2l4 1.6v-0.3l4.2 1.7v-0.9l1.8 0.7v-0.3l7.8 3v-0.6l5.6 2.2v-1.6l7.8 3v-1.6l10.2 3.9v-2.3l6.6 2.5v-2.9l2.2 0.9v-2.5l2 0.7v-1.2l1.6 0.6v-1.8l0.4 0.1v-2.4l2.4 0.9v-2.4l2.6 1v-1.1l1 0.4v-2.5l5 1.9v-1.4l2.2 0.9v-3.7l2.4 0.9v-3.5l6.2 2.4v-3.1l6.2 2.4v-2.1l3.2 1.2v-2.4l3 1.1v-3.4l4.2 1.6v-2.9l1.8 0.7v-2.2l1.4 0.5v-2.6l4.2 1.6v-2.7l0.4 0.2v-3.4l3.6 1.4v-4.6l1.4 0.6v-3.1l2.4 1v-4.4l1.2 0.4v-1.6l0.7 0.4" stroke="#A6CEE3" stroke-width="0.7" fill="none"/>
<path d="M385.8 345.5l3 1.1v-1.1l1 0.4v-1.9l9.8 3.7v-1.6l4.6 1.8v-2l5 1.9v-1l5 1.9v-2.2l4.4 1.7v-2.2l7.8 2.9v-1.8l9.6 3.7v-1.5l2.8 1v-1.8l8 3.1v-1.8l2.6 1v-0.9l4.8 1.9v-1.5l1.8 0.7v-2.4l9.2 3.5v-2.4l4 1.5v-2.2l4.6 1.8v-2.4l6.8 2.6v-1.7l7 2.7v-1.9l5 2v-1.1l14.2 5.4v-1.9l24 9.2v-1.3l23.8 9.1v-0.1l5.4 2.1v-0.4l7 2.7v-0.6l6.6 2.5v-0.4l10.6 4.1v-0.9l4 1.6v-0.7l4.8 1.8v-1.9l9.2 3.5v-2.7l12.4 4.8v-1.8l2 0.7v-2.3l2.4 0.9v-1.1l1.6 0.7v-1.4l2.6 1v-1.4l2.8 1v-2.4l0.6 0.2v-1l1 0.3v-2.5l2.8 1.1v-1.1l2.6 1v-2.9l3.4 1.3v-4l3 1.1v-3.1l6 2.3v-2.3l2.8 1.1v-1.2l0.2 0.1v-2.9l2.4 0.9v-1.5l0.8 0.4v-3.5l4 1.5v-1.6l3 1.1v-4.3l2.8 1v-1.3l0.2 0.1v-1.7l0.8 0.3v-4.3l4 1.5v-4.4l3 1.2v-1.9l1.6 0.6v-2l1.2 0.5v-3.7l0.8 0.3v-5l1.5 0.6" stroke="#FB9A99" stroke-width="0.7" fill="none"/>
<path d="M385.8 345.5l1.8 0.7v-2l9 3.5v-1.1l19.6 7.5v-0.7l0.2 0v-2.1l2.2 0.8v-1.8l3 1.2v-2.3l1.6 0.6v-2.3l10 3.8v-2.7l22.4 8.5v-0.8l2.2 0.8v-2.4l3.2 1.2v-1.8l0.6 0.2v-2.8l5.4 2v-1.4l5.2 2v-1.5l9.2 3.5v-3.1l25 9.5v-1.7l7.6 3v-1.3l8.6 3.3v-2.1l9.6 3.7v-1.8l19.8 7.6v-0.2l10.2 3.9v-0.2l2.8 1v-0.3l4.4 1.7v-0.4l1 0.4v-0.6l6 2.3v-1.7l10.8 4.1v-2l19 7.2v-4.5l10.2 3.9v-4.2l6.6 2.6v-4.8l3.6 1.4v-1.8l5 1.9v-3.7l4.4 1.7v-4.9l5.4 2.1v-2.1l0.4 0.1v-3l5.2 2v-4.5l5 2v-4.8l7.2 2.8v-2.4l0.2 0.1v-1.9l1 0.4v-3.2l4.8 1.8v-2l1.2 0.4v-3.8l4.8 1.9v-3.9l1.2 0.5v-5.1l1.2 0.4v-4.8l0.9 0.4v-7.5" stroke="#E31A1C" stroke-width="0.7" fill="none"/>
<path d="M385.8 345.5l0.4 0.2v-2.6l2.4 0.9v-2.4l2.4 0.9v-1.3l1.6 0.7v-2.4l0.8 0.3v-1.2l2 0.7v-1.3l0.8 0.3v-2.2l1.8 0.7v-0.7l0.4 0.1v-1.7l2.8 1v-1.2l1.6 0.6v-1.3l2 0.8v-1.7l1.2 0.5v-2.2l3.8 1.5v-2.6l3.6 1.4v-2l3.2 1.2v-1.8l3.2 1.2v-2.4l3.8 1.4v-1l1 0.4v-1.7l3 1.1v-1.9l2.4 1v-1.3l2.2 0.9v-1.5l1 0.4v-1.7l3.6 1.4v-2.1l3.8 1.4v-1l1.4 0.5v-1.4l2.2 0.9v-1.7l1.4 0.5v-1.6l3.6 1.4v-1.9l5.4 2.1v-1.1l2.8 1.1v-1l1.8 0.7v-1.4l1.6 0.7v-1.7l3 1.2v-0.9l1.6 0.6v-1.1l2.6 1v-2.1l3.6 1.4v-1.3l2.6 1v-1.8l2.2 0.8v-0.7l0.4 0.1v-1l1.8 0.7v-1.8l2.2 0.8v-1.2l0.4 0.2v-1.6l2.8 1.1v-1.4l2.2 0.8v-0.9l1 0.4v-1.2l2.8 1.1v-0.7l3 1.1v-1.6l5.6 2.1v-1.2l3.4 1.3v-0.6l1.4 0.5v-0.7l2.6 1v-1.3l3.8 1.5v-1.3l2.6 1v-0.8l2.6 1v-0.8l5.4 2v-0.7l0.2 0.1v-1.2l6.8 2.6v-1l2.4 0.9v-1.1l6 2.3v-0.5l1.8 0.7v-0.2l1.2 0.4v-0.3l1.6 0.6v-0.7l5.2 1.9v-0.3l1.8 0.7v-0.2l1.4 0.5v-0.1l2 0.8v-0.2l0.8 0.3v-0.1l1.6 0.6v-0.3l2.2 0.9v-0.2l0.8 0.3v-0.3l3 1.2v-0.3l1.2 0.5v-0.3l2 0.8v-0.3l2.2 0.8v-0.1l0.8 0.3v-0.2l3.2 1.2v-0.4l5.4 2v-0.6l6.6 2.6v-0.8l7.4 2.8v-0.6l8 3.1v-0.6l4.8 1.8v-1.1l5.2 2v-1.2l8.4 3.2v-1.8l6.8 2.6v-0.9l1.8 0.7v-1.9l10 3.9v-2l11 4.2v-1.1l4.6 1.8v-0.8l0.2 0.1v-1.3l5.8 2.2v-1.9l9.8 3.8v-1.1l0.2 0v-2l9.9 3.8" stroke="#CAB2D6" stroke-width="0.7" fill="none"/>
<path d="M385.8 345.5l0.6 0.2v-1.5l1.2 0.4v-1.7l1.6 0.6v-1.4l0.6 0.2v-1.6l1.4 0.5v-0.9l1 0.4v-2.4l2.8 1v-1.8l0.4 0.2v-1.5l1.8 0.7v-1.1l0.8 0.3v-1.4l1.4 0.5v-2.2l2.2 0.8v-1.2l1.4 0.5v-2.5l3.6 1.3v-0.7l0.2 0.1v-2.6l3.8 1.5v-1.1l1.6 0.6v-1.9l0.6 0.3v-0.7l1.6 0.6v-2.1l3 1.2v-1.9l2 0.8v-1.9l2.6 1v-1.3l3.4 1.3v-1.5l2 0.8v-0.9l1.6 0.6v-0.6l0.2 0v-1.1l2.4 0.9v-1.9l1.8 0.7v-0.8l1.2 0.5v-0.8l2.2 0.8v-1.9l4.6 1.8v-2.3l3.4 1.3v-2l8.8 3.4v-1.2l1.8 0.7v-2.2l4.4 1.7v-1.9l4.6 1.8v-1.6l2.6 1v-1.8l2.4 1v-1.6l2.2 0.9v-1.5l1.6 0.6v-0.8l0.8 0.3v-1.1l0.4 0.2v-2.2l3.6 1.4v-0.6l0.2 0.1v-1.7l3.2 1.2v-1.6l4 1.5v-1.8l9.2 3.5v-0.7l3.2 1.3v-0.6l0.2 0.1v-1.3l6.6 2.5v-1.1l2.2 0.9v-1.3l4.6 1.8v-1l5.2 2v-0.8l2.8 1v-0.8l1.6 0.6v-0.9l4.2 1.6v-0.4l1.6 0.6v-0.9l2 0.8v-0.4l3 1.1v-1l5.6 2.2v-0.7l4 1.5v-0.7l7 2.7v-0.3l4.6 1.7v-0.2l2 0.8v-0.1l3 1.1v-0.2l2 0.8v-0.1l0.2 0.1v-0.3l3.4 1.3v-0.2l1.8 0.7v-0.2l4 1.5v-0.2l4 1.5v-0.4l4.6 1.8v-0.7l12.6 4.8v-1.3l16.8 6.4v-1.5l3.8 1.4v-0.9l6.8 2.6v-1.4l5.6 2.1v-1.8l2.8 1v-1l4.6 1.7v-0.8l2.4 0.9v-0.5l4 1.5v-1.5l4.2 1.6v-1.5l2.4 0.9v-1.1l3.4 1.3v-2.2l6.4 2.5v-0.9l1.6 0.6v-2.2l6.6 2.5v-2.4l6.8 2.6v-2.4l5.7 2.2" stroke="#FF7F00" stroke-width="0.7" fill="none"/>
<path d="M385.8 345.5l1.4 0.5v-1l0.6 0.2v-2.4l1.8 0.7v-1.6l0.8 0.3v-1.8l1.4 0.5v-0.6l1.2 0.4v-2.4l2.4 0.9v-1.4l0.2 0.1v-2.6l2.4 1v-0.8l0.4 0.2v-1.9l1.4 0.6v-1.3l2.4 0.9v-2.4l2.6 1v-1.2l1.8 0.6v-2.4l1.4 0.6v-1.7l2.8 1v-1.6l0.4 0.2v-1.7l3 1.2v-2.3l3.4 1.3v-1.5l0.8 0.3v-1.6l1.8 0.7v-1.1l2.2 0.9v-1.5l0.6 0.2v-1.2l2.2 0.9v-1.8l2.4 1v-0.8l0.8 0.3v-0.8l0.2 0.1v-0.9l0.6 0.2v-2.3l3.6 1.4v-2.3l2.2 0.9v-0.9l1.6 0.6v-2.1l4.6 1.8v-1.1l0.2 0v-1.8l3.4 1.3v-2l3.8 1.4v-2.2l4.2 1.7v-0.7l1.2 0.5v-2.3l2.8 1v-0.9l2.4 1v-1.4l1.8 0.7v-0.8l1.8 0.7v-0.9l3.8 1.5v-2.1l3.2 1.2v-1.9l5.8 2.3v-1.1l4.8 1.8v-1.6l8.4 3.2v-1.1l6.4 2.4v-1.1l5 2v-1.4l6 2.3v-1.2l5.6 2.2v-0.9l1.6 0.6v-0.7l14.4 5.5v-0.3l0.2 0v-0.8l61.4 23.5v-1l6 2.3v-1.3l5.8 2.2v-0.8l5 1.9v-0.9l3 1.2v-1.1l4.4 1.7v-1.7l4.6 1.8v-1.6l6.2 2.3v-2l3.2 1.2v-1.6l2.4 0.9v-1.7l4.4 1.6v-0.7l0.4 0.2v-1.4l3.8 1.5v-0.8l0.8 0.3v-1.2l2.4 0.9v-0.9l3.2 1.2v-2.3l5.4 2v-1.4l1.2 0.5v-1l3.2 1.2v-1l0.2 0.1v-0.7l3.4 1.3v-0.9l1.2 0.4v-0.8l3.4 1.3v-1.3l4 1.5v-1.4l3 1.2v-1.7l3.4 1.3v-1l0.6 0.2v-2.3l0.5 0.3" stroke="#B2DF8A" stroke-width="0.7" fill="none"/>
<path d="M385.8 345.5l0.2 0.1v-1.1l1.2 0.4v-2.1l0.8 0.3v-2.8l1 0.4v-3.3l1.6 0.6v-1.9l1.4 0.5v-1.5l1.8 0.7v-2l2.4 0.9v-1.2l1.2 0.5v-1l2 0.7v-2.1l1.4 0.5v-1.1l2.2 0.9v-3l4.6 1.8v-1.9l5.2 2v-3.2l2.8 1v-2.6l4 1.5v-2.7l2.6 1v-2.7l3.6 1.4v-1.8l2.4 0.9v-3.1l2.4 0.9v-2.6l2.6 1v-1.9l1.2 0.5v-2.2l1.2 0.4v-1.9l1.4 0.5v-2.2l1.6 0.6v-0.9l0.8 0.3v-1.3l1.8 0.7v-3.2l1.6 0.6v-0.8l1 0.4v-2.4l1 0.4v-1.2l0.2 0v-1l0.4 0.2v-2l1.2 0.4v-1.9l1.4 0.5v-1.1l1 0.4v-3.1l1.6 0.7v-1.7l1.6 0.6v-2.3l1.4 0.6v-1.7l6.8 2.6v-1.8l5.6 2.1v-0.8l0.8 0.3v-1.8l3 1.1v-2l1.6 0.6v-1.1l1.4 0.5v-1.1l2.2 0.8v-2.1l1.6 0.6v-1.8l33.4 12.8v-2.1l7.8 3v-1.3l3.6 1.4v-1.1l5.4 2.1v-1.3l5.6 2.2v-1.4l63 24.1v-0.9l8 3v-1.2l16.2 6.2v-1.5l9 3.4v-2.4l8.8 3.4v-2.7l13.8 5.3v-2.7l13 4.9v-1.8l10.3 4" stroke="#FDBF6F" stroke-width="0.7" fill="none"/>
<path d="M385.8 345.5l0.2 0.1v-2l1.8 0.7v-2.7l0.2 0v-2l1 0.4v-3.9l0.6 0.2v-2.5l0.6 0.3v-4.3l0.6 0.3v-3.1l0.2 0.1v-1.4l0.2 0.1v-1.9l0.4 0.1v-2.5l0.2 0.1v-3.3l0.6 0.2v-2.6l0.6 0.3v-4l0.4 0.2v-1.9l0.2 0.1v-2.2l0.4 0.2v-3.7l0.4 0.2v-2.6l4.6 1.8v-3.1l5.2 2v-2.3l2.2 0.8v-2.6l5.6 2.1v-3.8l5.6 2.2v-3.3l3.8 1.5v-3.3l4.4 1.7v-3.9l20.2 7.7v-3.4l7.6 2.9v-2.2l17.2 6.6v-2.7l7 2.7v-3.4l10.4 4v-2.5l8.6 3.3v-1.8l6.4 2.5v-1.5l8.2 3.1v-1.2l0.8 0.3v-0.9l4.8 1.8v-1.3l13.6 5.2v-1.1l7.8 3v-0.8l2.4 1v-0.7l2.4 0.9v-0.5l2.8 1.1v-0.9l3.2 1.3v-0.3l2.6 1v-0.2l0.2 0.1v-0.5l2.2 0.9v-0.3l1.6 0.6v-0.2l2.2 0.9v-0.3l3.6 1.4v-0.2l37.8 14.4v-1.8l26.2 10.1v-1.4l3.8 1.4v-2.8l6.8 2.6v-2.7l3.4 1.3v-3.5l23.8 9.1v-2.9l11.1 4.3" stroke="#33A02C" stroke-width="0.7" fill="none"/>
<path d="M385.8 345.5l1 0.4v-2.9l0.4 0.1v-1.8l1 0.3v-5.4l2.6 1v-5.2l9.2 3.5v-3.5l6 2.3v-4.6l4 1.6v-2.8l6 2.3v-4.2l3.6 1.4v-6.2l8 3.1v-6.6l2 0.8v-5.6l3 1.1v-2.2l4 1.5v-2.2l3 1.2v-2.1l2 0.8v-5.2l1.2 0.4v-3.3l3 1.1v-6.3l3.2 1.2v-4.3l2.2 0.9v-5.6l2.8 1v-1.9l2 0.7v-5.3l7.8 3v-2.3l5.4 2.1v-5.7l47.8 18.3v-2.6l17.8 6.8v-2.1l23 8.8v-0.3l4.4 1.6v-0.2l0.2 0v-0.5l5.4 2.1v-0.5l16 6.1v-3l62.8 24v-5.4l27.9 10.7" stroke="#6A3D9A" stroke-width="0.7" fill="none"/>
<path d="M385.8 345.5l0.8 0.3v-4.1l0.8 0.3v-7.2l1.4 0.6v-2.3l0.8 0.3v-7.9l3.2 1.2v-7.6l10 3.8v-4.7l8.2 3.1v-5.3l5 2v-4.7l4.4 1.7v-3.2l4.8 1.8v-4.8l0.8 0.3v-5.9l1.6 0.6v-6.2l1.6 0.6v-2.9l0.8 0.3v-5.2l5.6 2.2v-4.4l14.8 5.7v-4.2l6.4 2.4v-5.5l1.6 0.6v-6.7l15.4 5.9v-2.3l32 12.2v-3.2l17.8 6.8v-3.5l16.2 6.2v-2.3l39.2 15v-2.2l12.4 4.8v-1.7l83.1 31.9" stroke="#1F78B4" stroke-width="0.7" fill="none"/>
<line x1="527.8" y1="282.8" x2="532" y2="282.8" stroke="#A6CEE3" stroke-width="1.2" stroke-opacity="0.75"/>
<text x="534" y="284.3" font-size="8.55">Autophagy − animal</text>
<line x1="527.8" y1="290.4" x2="532" y2="290.4" stroke="#1F78B4" stroke-width="1.2" stroke-opacity="0.75"/>
<text x="534" y="291.9" font-size="8.55">Biosynthesis of nucleotide sugars</text>
<line x1="527.8" y1="297.9" x2="532" y2="297.9" stroke="#B2DF8A" stroke-width="1.2" stroke-opacity="0.75"/>
<text x="534" y="299.4" font-size="8.55">Focal adhesion</text>
<line x1="527.8" y1="305.5" x2="532" y2="305.5" stroke="#33A02C" stroke-width="1.2" stroke-opacity="0.75"/>
<text x="534" y="307" font-size="8.55">Glycolysis / Gluconeogenesis</text>
<line x1="527.8" y1="313" x2="532" y2="313" stroke="#FB9A99" stroke-width="1.2" stroke-opacity="0.75"/>
<text x="534" y="314.5" font-size="8.55">Lysosome</text>
<line x1="527.8" y1="320.6" x2="532" y2="320.6" stroke="#E31A1C" stroke-width="1.2" stroke-opacity="0.75"/>
<text x="534" y="322.1" font-size="8.55">Mitophagy − animal</text>
<line x1="527.8" y1="328.2" x2="532" y2="328.2" stroke="#FDBF6F" stroke-width="1.2" stroke-opacity="0.75"/>
<text x="534" y="329.7" font-size="8.55">Nucleotide metabolism</text>
<line x1="527.8" y1="335.7" x2="532" y2="335.7" stroke="#FF7F00" stroke-width="1.2" stroke-opacity="0.75"/>
<text x="534" y="337.2" font-size="8.55">Parkinson disease</text>
<line x1="527.8" y1="343.3" x2="532" y2="343.3" stroke="#CAB2D6" stroke-width="1.2" stroke-opacity="0.75"/>
<text x="534" y="344.8" font-size="8.55">Prion disease</text>
<line x1="527.8" y1="350.8" x2="532" y2="350.8" stroke="#6A3D9A" stroke-width="1.2" stroke-opacity="0.75"/>
<text x="534" y="352.3" font-size="8.55">Pyrimidine metabolism</text>
<line x1="422.8" y1="534.3" x2="422.8" y2="723.6" stroke="#EBEBEB" stroke-width="0.6"/>
<line x1="458" y1="534.3" x2="458" y2="723.6" stroke="#EBEBEB" stroke-width="0.6"/>
<line x1="493.1" y1="534.3" x2="493.1" y2="723.6" stroke="#EBEBEB" stroke-width="0.6"/>
<line x1="528.3" y1="534.3" x2="528.3" y2="723.6" stroke="#EBEBEB" stroke-width="0.6"/>
<line x1="563.5" y1="534.3" x2="563.5" y2="723.6" stroke="#EBEBEB" stroke-width="0.6"/>
<line x1="598.6" y1="534.3" x2="598.6" y2="723.6" stroke="#EBEBEB" stroke-width="0.6"/>
<line x1="633.8" y1="534.3" x2="633.8" y2="723.6" stroke="#EBEBEB" stroke-width="0.6"/>
<line x1="669" y1="534.3" x2="669" y2="723.6" stroke="#EBEBEB" stroke-width="0.6"/>
<polygon points="387.6,705 387.6,687.8 391.3,687.8 394.9,687.9 398.6,687.9 402.2,688 405.9,688 409.5,688.1 413.2,688.1 416.8,688.2 420.5,688.3 424.1,688.4 427.8,688.5 431.4,688.6 435.1,688.7 438.7,688.8 442.4,688.9 446,689 449.7,689.2 453.3,689.4 457,689.5 460.6,689.8 464.3,690 467.9,690.3 471.6,690.7 475.2,691 478.9,691.4 482.5,691.7 486.2,692.2 489.8,692.6 493.5,693 497.1,693.4 500.8,693.9 504.4,694.3 508.1,694.8 511.7,695.2 515.4,695.7 519,696.2 522.7,696.8 526.3,697.3 530,698 533.6,698.7 537.3,699.5 540.9,700.5 544.6,701.5 548.2,702.6 551.9,703.8 555.5,704.9 559.2,706 562.9,707 566.5,708.1 570.2,709.2 573.8,710.4 577.5,711.5 581.1,712.5 584.8,713.3 588.4,714.1 592.1,714.9 595.7,715.5 599.4,716.1 603,716.7 606.7,717.2 610.3,717.7 614,718.1 617.6,718.5 621.3,718.8 624.9,719.1 628.6,719.4 632.2,719.7 635.9,719.9 639.5,720.1 643.2,720.4 646.8,720.6 650.5,720.7 654.1,720.9 657.8,721.1 661.4,721.2 665.1,721.4 668.7,721.5 672.4,721.6 676,721.6 676,705" fill="#BEBEBE"/>
<line x1="387.5" y1="534.3" x2="387.5" y2="724.1" stroke="#A3A3A3" stroke-width="1"/>
<line x1="387" y1="723.6" x2="676" y2="723.6" stroke="#A3A3A3" stroke-width="1"/>
<line x1="385.9" y1="553.8" x2="387.5" y2="553.8" stroke="#A3A3A3" stroke-width="0.7"/>
<text x="385.8" y="556.4" font-size="8.5" text-anchor="end" fill="#3A3A3A" class="t">0.4</text>
<line x1="385.9" y1="576.5" x2="387.5" y2="576.5" stroke="#A3A3A3" stroke-width="0.7"/>
<text x="385.8" y="579.1" font-size="8.5" text-anchor="end" fill="#3A3A3A" class="t">0.2</text>
<line x1="385.9" y1="599.2" x2="387.5" y2="599.2" stroke="#A3A3A3" stroke-width="0.7"/>
<text x="385.8" y="601.8" font-size="8.5" text-anchor="end" fill="#3A3A3A" class="t">0.0</text>
<line x1="385.9" y1="621.6" x2="387.5" y2="621.6" stroke="#A3A3A3" stroke-width="0.7"/>
<text x="385.8" y="624.2" font-size="8.5" text-anchor="end" fill="#3A3A3A" class="t">−0.2</text>
<line x1="385.9" y1="644.2" x2="387.5" y2="644.2" stroke="#A3A3A3" stroke-width="0.7"/>
<text x="385.8" y="646.8" font-size="8.5" text-anchor="end" fill="#3A3A3A" class="t">−0.4</text>
<line x1="385.9" y1="687.5" x2="387.5" y2="687.5" stroke="#A3A3A3" stroke-width="0.7"/>
<text x="386.1" y="691.9" font-size="8.5" text-anchor="end" fill="#3A3A3A" class="t">1.0</text>
<line x1="385.9" y1="695.8" x2="387.5" y2="695.8" stroke="#A3A3A3" stroke-width="0.7"/>
<text x="386.1" y="699.8" font-size="8.5" text-anchor="end" fill="#3A3A3A" class="t">0.5</text>
<line x1="385.9" y1="704.2" x2="387.5" y2="704.2" stroke="#A3A3A3" stroke-width="0.7"/>
<text x="386.1" y="707.8" font-size="8.5" text-anchor="end" fill="#3A3A3A" class="t">0.0</text>
<line x1="385.9" y1="712.6" x2="387.5" y2="712.6" stroke="#A3A3A3" stroke-width="0.7"/>
<text x="386.1" y="716.3" font-size="8.5" text-anchor="end" fill="#3A3A3A" class="t">−0.5</text>
<line x1="385.9" y1="721" x2="387.5" y2="721" stroke="#A3A3A3" stroke-width="0.7"/>
<text x="386.1" y="725.1" font-size="8.5" text-anchor="end" fill="#3A3A3A" class="t">−1.0</text>
<line x1="458" y1="723.6" x2="458" y2="725.2" stroke="#A3A3A3" stroke-width="0.7"/>
<text x="457.8" y="732.5" font-size="8.5" text-anchor="middle" fill="#3A3A3A" class="t">3000</text>
<line x1="528.3" y1="723.6" x2="528.3" y2="725.2" stroke="#A3A3A3" stroke-width="0.7"/>
<text x="528.3" y="732.5" font-size="8.5" text-anchor="middle" fill="#3A3A3A" class="t">6000</text>
<line x1="598.6" y1="723.6" x2="598.6" y2="725.2" stroke="#A3A3A3" stroke-width="0.7"/>
<text x="598.1" y="732.5" font-size="8.5" text-anchor="middle" fill="#3A3A3A" class="t">9000</text>
<line x1="669" y1="723.6" x2="669" y2="725.2" stroke="#A3A3A3" stroke-width="0.7"/>
<text x="670.1" y="732.5" font-size="8.5" text-anchor="middle" fill="#3A3A3A" class="t">12000</text>
<text x="552.2" y="740.6" font-size="8.4" text-anchor="middle">Rank in Ordered Dataset</text>
<text x="365.2" y="594.4" font-size="8.48" text-anchor="middle" transform="rotate(-90 365.2 594.4)">Running Enrichment Score</text>
<text x="365.2" y="693.9" font-size="8.44" text-anchor="middle" transform="rotate(-90 365.2 693.9)">Ranked List Metric</text>
<text x="336.3" y="510.7" font-size="16" font-weight="bold">(F)</text>
<path d="M400.1 647.7v3.8M415.1 647.7v3.8M435.1 647.7v3.8M439.1 647.7v3.8M441.1 647.7v3.8M444.1 647.7v3.8M448.1 647.7v3.8M458.1 647.7v3.8M485.1 647.7v3.8M497.1 647.7v3.8M498.1 647.7v3.8M527.1 647.7v3.8M549.1 647.7v3.8M578.1 647.7v3.8M589.1 647.7v3.8M619.1 647.7v3.8M625.1 647.7v3.8M638.1 647.7v3.8M659.1 647.7v3.8" stroke="#33A02C" stroke-opacity="0.2" stroke-width="1"/>
<path d="M496.1 647.7v3.8M501.1 647.7v3.8M510.1 647.7v3.8M569.1 647.7v3.8M587.1 647.7v3.8" stroke="#33A02C" stroke-opacity="0.3" stroke-width="1"/>
<path d="M434.1 647.7v3.8M465.1 647.7v3.8M471.1 647.7v3.8M490.1 647.7v3.8M503.1 647.7v3.8M667.1 647.7v3.8" stroke="#33A02C" stroke-opacity="0.5" stroke-width="1"/>
<path d="M419.1 647.7v3.8M424.1 647.7v3.8M425.1 647.7v3.8M426.1 647.7v3.8M447.1 647.7v3.8M464.1 647.7v3.8M488.1 647.7v3.8M530.1 647.7v3.8M551.1 647.7v3.8M597.1 647.7v3.8" stroke="#33A02C" stroke-opacity="0.7" stroke-width="1"/>
<path d="M398.1 647.7v3.8M451.1 647.7v3.8M461.1 647.7v3.8M472.1 647.7v3.8M483.1 647.7v3.8M500.1 647.7v3.8" stroke="#33A02C" stroke-opacity="0.9" stroke-width="1"/>
<path d="M494.1 651.5v3.8M506.1 651.5v3.8M572.1 651.5v3.8M591.1 651.5v3.8M611.1 651.5v3.8M660.1 651.5v3.8M663.1 651.5v3.8" stroke="#B2DF8A" stroke-opacity="0.2" stroke-width="1"/>
<path d="M415.1 651.5v3.8M512.1 651.5v3.8M522.1 651.5v3.8M557.1 651.5v3.8" stroke="#B2DF8A" stroke-opacity="0.3" stroke-width="1"/>
<path d="M487.1 651.5v3.8" stroke="#B2DF8A" stroke-opacity="0.5" stroke-width="1"/>
<path d="M463.1 651.5v3.8M504.1 651.5v3.8" stroke="#B2DF8A" stroke-opacity="0.7" stroke-width="1"/>
<path d="M537.1 651.5v3.8M562.1 651.5v3.8" stroke="#B2DF8A" stroke-opacity="0.9" stroke-width="1"/>
<path d="M395.1 655.3v3.8M408.1 655.3v3.8M410.1 655.3v3.8M418.1 655.3v3.8M422.1 655.3v3.8M424.1 655.3v3.8M447.1 655.3v3.8M452.1 655.3v3.8M458.1 655.3v3.8M462.1 655.3v3.8M468.1 655.3v3.8M473.1 655.3v3.8M475.1 655.3v3.8M492.1 655.3v3.8M494.1 655.3v3.8M499.1 655.3v3.8M502.1 655.3v3.8M518.1 655.3v3.8M521.1 655.3v3.8M524.1 655.3v3.8M545.1 655.3v3.8M550.1 655.3v3.8M560.1 655.3v3.8M562.1 655.3v3.8M566.1 655.3v3.8M582.1 655.3v3.8M587.1 655.3v3.8M588.1 655.3v3.8M592.1 655.3v3.8M601.1 655.3v3.8M602.1 655.3v3.8M609.1 655.3v3.8M617.1 655.3v3.8M621.1 655.3v3.8M623.1 655.3v3.8M632.1 655.3v3.8M642.1 655.3v3.8" stroke="#A6CEE3" stroke-opacity="0.2" stroke-width="1"/>
<path d="M406.1 655.3v3.8M426.1 655.3v3.8M439.1 655.3v3.8M455.1 655.3v3.8M486.1 655.3v3.8M491.1 655.3v3.8M509.1 655.3v3.8M515.1 655.3v3.8M517.1 655.3v3.8M526.1 655.3v3.8M532.1 655.3v3.8M534.1 655.3v3.8M557.1 655.3v3.8M567.1 655.3v3.8M578.1 655.3v3.8M633.1 655.3v3.8M640.1 655.3v3.8M649.1 655.3v3.8" stroke="#A6CEE3" stroke-opacity="0.3" stroke-width="1"/>
<path d="M391.1 655.3v3.8M401.1 655.3v3.8M409.1 655.3v3.8M417.1 655.3v3.8M420.1 655.3v3.8M428.1 655.3v3.8M449.1 655.3v3.8M451.1 655.3v3.8M456.1 655.3v3.8M460.1 655.3v3.8M479.1 655.3v3.8M482.1 655.3v3.8M485.1 655.3v3.8M490.1 655.3v3.8M493.1 655.3v3.8M523.1 655.3v3.8M537.1 655.3v3.8M538.1 655.3v3.8M556.1 655.3v3.8M583.1 655.3v3.8M591.1 655.3v3.8M595.1 655.3v3.8M606.1 655.3v3.8M608.1 655.3v3.8M616.1 655.3v3.8M660.1 655.3v3.8M673.1 655.3v3.8" stroke="#A6CEE3" stroke-opacity="0.5" stroke-width="1"/>
<path d="M396.1 655.3v3.8M397.1 655.3v3.8M400.1 655.3v3.8M403.1 655.3v3.8M411.1 655.3v3.8M429.1 655.3v3.8M431.1 655.3v3.8M437.1 655.3v3.8M470.1 655.3v3.8M478.1 655.3v3.8M481.1 655.3v3.8M483.1 655.3v3.8M498.1 655.3v3.8M507.1 655.3v3.8M511.1 655.3v3.8M529.1 655.3v3.8M551.1 655.3v3.8M553.1 655.3v3.8M563.1 655.3v3.8M564.1 655.3v3.8M655.1 655.3v3.8M666.1 655.3v3.8" stroke="#A6CEE3" stroke-opacity="0.7" stroke-width="1"/>
<path d="M404.1 655.3v3.8M419.1 655.3v3.8M461.1 655.3v3.8M467.1 655.3v3.8M474.1 655.3v3.8M503.1 655.3v3.8M554.1 655.3v3.8M555.1 655.3v3.8M565.1 655.3v3.8M603.1 655.3v3.8M629.1 655.3v3.8M630.1 655.3v3.8" stroke="#A6CEE3" stroke-opacity="0.9" stroke-width="1"/>
<path d="M407.1 659v3.8M409.1 659v3.8M416.1 659v3.8M421.1 659v3.8M422.1 659v3.8M444.1 659v3.8M468.1 659v3.8M481.1 659v3.8M488.1 659v3.8M491.1 659v3.8M493.1 659v3.8M523.1 659v3.8M562.1 659v3.8M564.1 659v3.8M587.1 659v3.8M599.1 659v3.8M600.1 659v3.8M619.1 659v3.8M629.1 659v3.8M632.1 659v3.8M638.1 659v3.8M639.1 659v3.8M645.1 659v3.8M646.1 659v3.8M650.1 659v3.8M664.1 659v3.8M669.1 659v3.8M671.1 659v3.8M673.1 659v3.8" stroke="#FB9A99" stroke-opacity="0.2" stroke-width="1"/>
<path d="M414.1 659v3.8M417.1 659v3.8M427.1 659v3.8M448.1 659v3.8M458.1 659v3.8M460.1 659v3.8M510.1 659v3.8M535.1 659v3.8M541.1 659v3.8M578.1 659v3.8M595.1 659v3.8M596.1 659v3.8M601.1 659v3.8M603.1 659v3.8M606.1 659v3.8M607.1 659v3.8M616.1 659v3.8M634.1 659v3.8M670.1 659v3.8M675.1 659v3.8" stroke="#FB9A99" stroke-opacity="0.3" stroke-width="1"/>
<path d="M389.1 659v3.8M401.1 659v3.8M410.1 659v3.8M440.1 659v3.8M452.1 659v3.8M478.1 659v3.8M485.1 659v3.8M490.1 659v3.8M492.1 659v3.8M497.1 659v3.8M499.1 659v3.8M504.1 659v3.8M513.1 659v3.8M532.1 659v3.8M546.1 659v3.8M574.1 659v3.8M575.1 659v3.8M590.1 659v3.8M594.1 659v3.8M618.1 659v3.8M641.1 659v3.8M644.1 659v3.8M653.1 659v3.8M659.1 659v3.8" stroke="#FB9A99" stroke-opacity="0.5" stroke-width="1"/>
<path d="M424.1 659v3.8M455.1 659v3.8M463.1 659v3.8M487.1 659v3.8M509.1 659v3.8M514.1 659v3.8M518.1 659v3.8M528.1 659v3.8M529.1 659v3.8M534.1 659v3.8M545.1 659v3.8M549.1 659v3.8M553.1 659v3.8M554.1 659v3.8M579.1 659v3.8M610.1 659v3.8M622.1 659v3.8M625.1 659v3.8M630.1 659v3.8M637.1 659v3.8M657.1 659v3.8M660.1 659v3.8" stroke="#FB9A99" stroke-opacity="0.7" stroke-width="1"/>
<path d="M413.1 659v3.8M428.1 659v3.8M482.1 659v3.8M522.1 659v3.8M531.1 659v3.8M555.1 659v3.8M558.1 659v3.8M580.1 659v3.8M583.1 659v3.8M591.1 659v3.8M605.1 659v3.8M611.1 659v3.8M613.1 659v3.8M614.1 659v3.8M628.1 659v3.8M636.1 659v3.8M651.1 659v3.8M658.1 659v3.8" stroke="#FB9A99" stroke-opacity="0.9" stroke-width="1"/>
<path d="M394.1 662.8v3.8M419.1 662.8v3.8M435.1 662.8v3.8M451.1 662.8v3.8M452.1 662.8v3.8M469.1 662.8v3.8M492.1 662.8v3.8M500.1 662.8v3.8M501.1 662.8v3.8M537.1 662.8v3.8M555.1 662.8v3.8M556.1 662.8v3.8M565.1 662.8v3.8M570.1 662.8v3.8M588.1 662.8v3.8M595.1 662.8v3.8M612.1 662.8v3.8M613.1 662.8v3.8M616.1 662.8v3.8M627.1 662.8v3.8M628.1 662.8v3.8M635.1 662.8v3.8M639.1 662.8v3.8M646.1 662.8v3.8M648.1 662.8v3.8M651.1 662.8v3.8M655.1 662.8v3.8M665.1 662.8v3.8M668.1 662.8v3.8M672.1 662.8v3.8M675.1 662.8v3.8" stroke="#FDBF6F" stroke-opacity="0.2" stroke-width="1"/>
<path d="M401.1 662.8v3.8M432.1 662.8v3.8M439.1 662.8v3.8M468.1 662.8v3.8M475.1 662.8v3.8M476.1 662.8v3.8M486.1 662.8v3.8M506.1 662.8v3.8M515.1 662.8v3.8M574.1 662.8v3.8M610.1 662.8v3.8M643.1 662.8v3.8M644.1 662.8v3.8M647.1 662.8v3.8" stroke="#FDBF6F" stroke-opacity="0.3" stroke-width="1"/>
<path d="M407.1 662.8v3.8M409.1 662.8v3.8M549.1 662.8v3.8M573.1 662.8v3.8M578.1 662.8v3.8M583.1 662.8v3.8M591.1 662.8v3.8M611.1 662.8v3.8M649.1 662.8v3.8M657.1 662.8v3.8M671.1 662.8v3.8" stroke="#FDBF6F" stroke-opacity="0.5" stroke-width="1"/>
<path d="M411.1 662.8v3.8M444.1 662.8v3.8M446.1 662.8v3.8M540.1 662.8v3.8M576.1 662.8v3.8M581.1 662.8v3.8M597.1 662.8v3.8M632.1 662.8v3.8M654.1 662.8v3.8M663.1 662.8v3.8" stroke="#FDBF6F" stroke-opacity="0.7" stroke-width="1"/>
<path d="M485.1 662.8v3.8M525.1 662.8v3.8M531.1 662.8v3.8M577.1 662.8v3.8M592.1 662.8v3.8" stroke="#FDBF6F" stroke-opacity="0.9" stroke-width="1"/>
<path d="M395.1 666.6v3.8M398.1 666.6v3.8M405.1 666.6v3.8M410.1 666.6v3.8M415.1 666.6v3.8M416.1 666.6v3.8M428.1 666.6v3.8M429.1 666.6v3.8M430.1 666.6v3.8M438.1 666.6v3.8M440.1 666.6v3.8M468.1 666.6v3.8M475.1 666.6v3.8M483.1 666.6v3.8M490.1 666.6v3.8M492.1 666.6v3.8M496.1 666.6v3.8M513.1 666.6v3.8M528.1 666.6v3.8M532.1 666.6v3.8M536.1 666.6v3.8M551.1 666.6v3.8M555.1 666.6v3.8M559.1 666.6v3.8M561.1 666.6v3.8M583.1 666.6v3.8M595.1 666.6v3.8M600.1 666.6v3.8M612.1 666.6v3.8M614.1 666.6v3.8M626.1 666.6v3.8M653.1 666.6v3.8M656.1 666.6v3.8M659.1 666.6v3.8M668.1 666.6v3.8" stroke="#CAB2D6" stroke-opacity="0.2" stroke-width="1"/>
<path d="M400.1 666.6v3.8M402.1 666.6v3.8M407.1 666.6v3.8M420.1 666.6v3.8M427.1 666.6v3.8M442.1 666.6v3.8M443.1 666.6v3.8M459.1 666.6v3.8M481.1 666.6v3.8M486.1 666.6v3.8M494.1 666.6v3.8M510.1 666.6v3.8M526.1 666.6v3.8M530.1 666.6v3.8M540.1 666.6v3.8M543.1 666.6v3.8M552.1 666.6v3.8M563.1 666.6v3.8M569.1 666.6v3.8M582.1 666.6v3.8M587.1 666.6v3.8M593.1 666.6v3.8M596.1 666.6v3.8M618.1 666.6v3.8M630.1 666.6v3.8M657.1 666.6v3.8M665.1 666.6v3.8M667.1 666.6v3.8M673.1 666.6v3.8" stroke="#CAB2D6" stroke-opacity="0.3" stroke-width="1"/>
<path d="M390.1 666.6v3.8M421.1 666.6v3.8M425.1 666.6v3.8M432.1 666.6v3.8M441.1 666.6v3.8M448.1 666.6v3.8M450.1 666.6v3.8M452.1 666.6v3.8M453.1 666.6v3.8M462.1 666.6v3.8M474.1 666.6v3.8M476.1 666.6v3.8M482.1 666.6v3.8M514.1 666.6v3.8M537.1 666.6v3.8M544.1 666.6v3.8M549.1 666.6v3.8M550.1 666.6v3.8M557.1 666.6v3.8M558.1 666.6v3.8M572.1 666.6v3.8M580.1 666.6v3.8M598.1 666.6v3.8M620.1 666.6v3.8M621.1 666.6v3.8M642.1 666.6v3.8M662.1 666.6v3.8" stroke="#CAB2D6" stroke-opacity="0.5" stroke-width="1"/>
<path d="M389.1 666.6v3.8M403.1 666.6v3.8M409.1 666.6v3.8M417.1 666.6v3.8M426.1 666.6v3.8M431.1 666.6v3.8M437.1 666.6v3.8M439.1 666.6v3.8M445.1 666.6v3.8M449.1 666.6v3.8M454.1 666.6v3.8M460.1 666.6v3.8M463.1 666.6v3.8M478.1 666.6v3.8M507.1 666.6v3.8M516.1 666.6v3.8M591.1 666.6v3.8M599.1 666.6v3.8M611.1 666.6v3.8M624.1 666.6v3.8M669.1 666.6v3.8M671.1 666.6v3.8" stroke="#CAB2D6" stroke-opacity="0.7" stroke-width="1"/>
<path d="M411.1 666.6v3.8M424.1 666.6v3.8M434.1 666.6v3.8M444.1 666.6v3.8M456.1 666.6v3.8M471.1 666.6v3.8M479.1 666.6v3.8M493.1 666.6v3.8M497.1 666.6v3.8M499.1 666.6v3.8M519.1 666.6v3.8M525.1 666.6v3.8M534.1 666.6v3.8M547.1 666.6v3.8M553.1 666.6v3.8M556.1 666.6v3.8M579.1 666.6v3.8M602.1 666.6v3.8M608.1 666.6v3.8M609.1 666.6v3.8M631.1 666.6v3.8M650.1 666.6v3.8M651.1 666.6v3.8M655.1 666.6v3.8M663.1 666.6v3.8" stroke="#CAB2D6" stroke-opacity="0.9" stroke-width="1"/>
<path d="M400.1 670.4v3.8M421.1 670.4v3.8M449.1 670.4v3.8M464.1 670.4v3.8M483.1 670.4v3.8M484.1 670.4v3.8M485.1 670.4v3.8M488.1 670.4v3.8M490.1 670.4v3.8M501.1 670.4v3.8M503.1 670.4v3.8M515.1 670.4v3.8M519.1 670.4v3.8M588.1 670.4v3.8M644.1 670.4v3.8" stroke="#6A3D9A" stroke-opacity="0.2" stroke-width="1"/>
<path d="M389.1 670.4v3.8M408.1 670.4v3.8M427.1 670.4v3.8M434.1 670.4v3.8M446.1 670.4v3.8M480.1 670.4v3.8M498.1 670.4v3.8M499.1 670.4v3.8M507.1 670.4v3.8M522.1 670.4v3.8M613.1 670.4v3.8M649.1 670.4v3.8" stroke="#6A3D9A" stroke-opacity="0.3" stroke-width="1"/>
<path d="M420.1 670.4v3.8M443.1 670.4v3.8M451.1 670.4v3.8M554.1 670.4v3.8M598.1 670.4v3.8M668.1 670.4v3.8" stroke="#6A3D9A" stroke-opacity="0.5" stroke-width="1"/>
<path d="M393.1 670.4v3.8M412.1 670.4v3.8M430.1 670.4v3.8M452.1 670.4v3.8M481.1 670.4v3.8M575.1 670.4v3.8M662.1 670.4v3.8" stroke="#6A3D9A" stroke-opacity="0.7" stroke-width="1"/>
<path d="M404.1 670.4v3.8M409.1 670.4v3.8M447.1 670.4v3.8M453.1 670.4v3.8M474.1 670.4v3.8M478.1 670.4v3.8M511.1 670.4v3.8" stroke="#6A3D9A" stroke-opacity="0.9" stroke-width="1"/>
<path d="M388.1 674.2v3.8M424.1 674.2v3.8M429.1 674.2v3.8M441.1 674.2v3.8M450.1 674.2v3.8M473.1 674.2v3.8M477.1 674.2v3.8M481.1 674.2v3.8M492.1 674.2v3.8M494.1 674.2v3.8M519.1 674.2v3.8M529.1 674.2v3.8M541.1 674.2v3.8M545.1 674.2v3.8M546.1 674.2v3.8M553.1 674.2v3.8M563.1 674.2v3.8M584.1 674.2v3.8M587.1 674.2v3.8M591.1 674.2v3.8M595.1 674.2v3.8M596.1 674.2v3.8M601.1 674.2v3.8M603.1 674.2v3.8M605.1 674.2v3.8M623.1 674.2v3.8M624.1 674.2v3.8M626.1 674.2v3.8M630.1 674.2v3.8M636.1 674.2v3.8M648.1 674.2v3.8M650.1 674.2v3.8M658.1 674.2v3.8M663.1 674.2v3.8" stroke="#E31A1C" stroke-opacity="0.2" stroke-width="1"/>
<path d="M446.1 674.2v3.8M453.1 674.2v3.8M461.1 674.2v3.8M468.1 674.2v3.8M471.1 674.2v3.8M495.1 674.2v3.8M503.1 674.2v3.8M536.1 674.2v3.8M569.1 674.2v3.8M574.1 674.2v3.8M583.1 674.2v3.8M597.1 674.2v3.8M610.1 674.2v3.8M625.1 674.2v3.8M628.1 674.2v3.8M642.1 674.2v3.8" stroke="#E31A1C" stroke-opacity="0.3" stroke-width="1"/>
<path d="M455.1 674.2v3.8M466.1 674.2v3.8M469.1 674.2v3.8M476.1 674.2v3.8M486.1 674.2v3.8M487.1 674.2v3.8M497.1 674.2v3.8M515.1 674.2v3.8M538.1 674.2v3.8M540.1 674.2v3.8M573.1 674.2v3.8M598.1 674.2v3.8M621.1 674.2v3.8M633.1 674.2v3.8M638.1 674.2v3.8M640.1 674.2v3.8M644.1 674.2v3.8M657.1 674.2v3.8M669.1 674.2v3.8" stroke="#E31A1C" stroke-opacity="0.5" stroke-width="1"/>
<path d="M390.1 674.2v3.8M444.1 674.2v3.8M451.1 674.2v3.8M488.1 674.2v3.8M509.1 674.2v3.8M522.1 674.2v3.8M525.1 674.2v3.8M531.1 674.2v3.8M549.1 674.2v3.8M555.1 674.2v3.8M566.1 674.2v3.8M567.1 674.2v3.8M570.1 674.2v3.8M575.1 674.2v3.8M577.1 674.2v3.8M590.1 674.2v3.8M600.1 674.2v3.8M611.1 674.2v3.8M615.1 674.2v3.8M637.1 674.2v3.8M643.1 674.2v3.8M655.1 674.2v3.8M660.1 674.2v3.8M674.1 674.2v3.8" stroke="#E31A1C" stroke-opacity="0.7" stroke-width="1"/>
<path d="M420.1 674.2v3.8M520.1 674.2v3.8M548.1 674.2v3.8M606.1 674.2v3.8M627.1 674.2v3.8M632.1 674.2v3.8M656.1 674.2v3.8M664.1 674.2v3.8M665.1 674.2v3.8M673.1 674.2v3.8" stroke="#E31A1C" stroke-opacity="0.9" stroke-width="1"/>
<path d="M391.1 677.9v3.8M392.1 677.9v3.8M409.1 677.9v3.8M432.1 677.9v3.8M446.1 677.9v3.8M450.1 677.9v3.8M463.1 677.9v3.8M465.1 677.9v3.8M468.1 677.9v3.8M490.1 677.9v3.8M498.1 677.9v3.8M515.1 677.9v3.8M538.1 677.9v3.8M549.1 677.9v3.8M558.1 677.9v3.8M560.1 677.9v3.8M582.1 677.9v3.8M585.1 677.9v3.8M592.1 677.9v3.8M602.1 677.9v3.8M667.1 677.9v3.8" stroke="#FF7F00" stroke-opacity="0.2" stroke-width="1"/>
<path d="M408.1 677.9v3.8M436.1 677.9v3.8M460.1 677.9v3.8M494.1 677.9v3.8M505.1 677.9v3.8M506.1 677.9v3.8M540.1 677.9v3.8M548.1 677.9v3.8M565.1 677.9v3.8M652.1 677.9v3.8M659.1 677.9v3.8" stroke="#FF7F00" stroke-opacity="0.3" stroke-width="1"/>
<path d="M427.1 677.9v3.8M458.1 677.9v3.8M509.1 677.9v3.8M511.1 677.9v3.8M528.1 677.9v3.8M529.1 677.9v3.8M535.1 677.9v3.8M536.1 677.9v3.8M537.1 677.9v3.8M578.1 677.9v3.8M660.1 677.9v3.8" stroke="#FF7F00" stroke-opacity="0.5" stroke-width="1"/>
<path d="M396.1 677.9v3.8M437.1 677.9v3.8M441.1 677.9v3.8M456.1 677.9v3.8M492.1 677.9v3.8M496.1 677.9v3.8M502.1 677.9v3.8M514.1 677.9v3.8M527.1 677.9v3.8M543.1 677.9v3.8M544.1 677.9v3.8M574.1 677.9v3.8M595.1 677.9v3.8" stroke="#FF7F00" stroke-opacity="0.7" stroke-width="1"/>
<path d="M402.1 677.9v3.8M405.1 677.9v3.8M451.1 677.9v3.8M454.1 677.9v3.8M508.1 677.9v3.8M613.1 677.9v3.8M648.1 677.9v3.8" stroke="#FF7F00" stroke-opacity="0.9" stroke-width="1"/>
<path d="M403.1 681.7v3.8M419.1 681.7v3.8M423.1 681.7v3.8M424.1 681.7v3.8M431.1 681.7v3.8M432.1 681.7v3.8M447.1 681.7v3.8M459.1 681.7v3.8M462.1 681.7v3.8M497.1 681.7v3.8M515.1 681.7v3.8M518.1 681.7v3.8M521.1 681.7v3.8M528.1 681.7v3.8M542.1 681.7v3.8M569.1 681.7v3.8M579.1 681.7v3.8M591.1 681.7v3.8M601.1 681.7v3.8M604.1 681.7v3.8M605.1 681.7v3.8M611.1 681.7v3.8M622.1 681.7v3.8M624.1 681.7v3.8M640.1 681.7v3.8M647.1 681.7v3.8M652.1 681.7v3.8M656.1 681.7v3.8M660.1 681.7v3.8M661.1 681.7v3.8M673.1 681.7v3.8" stroke="#1F78B4" stroke-opacity="0.2" stroke-width="1"/>
<path d="M397.1 681.7v3.8M400.1 681.7v3.8M426.1 681.7v3.8M438.1 681.7v3.8M444.1 681.7v3.8M445.1 681.7v3.8M463.1 681.7v3.8M475.1 681.7v3.8M494.1 681.7v3.8M503.1 681.7v3.8M543.1 681.7v3.8M552.1 681.7v3.8M557.1 681.7v3.8M559.1 681.7v3.8M564.1 681.7v3.8M565.1 681.7v3.8M567.1 681.7v3.8M570.1 681.7v3.8M582.1 681.7v3.8M598.1 681.7v3.8M614.1 681.7v3.8M641.1 681.7v3.8M644.1 681.7v3.8M645.1 681.7v3.8M648.1 681.7v3.8M655.1 681.7v3.8M666.1 681.7v3.8" stroke="#1F78B4" stroke-opacity="0.3" stroke-width="1"/>
<path d="M414.1 681.7v3.8M427.1 681.7v3.8M452.1 681.7v3.8M457.1 681.7v3.8M464.1 681.7v3.8M471.1 681.7v3.8M478.1 681.7v3.8M481.1 681.7v3.8M495.1 681.7v3.8M506.1 681.7v3.8M509.1 681.7v3.8M520.1 681.7v3.8M529.1 681.7v3.8M549.1 681.7v3.8M577.1 681.7v3.8M592.1 681.7v3.8M613.1 681.7v3.8M619.1 681.7v3.8M623.1 681.7v3.8M628.1 681.7v3.8M629.1 681.7v3.8M630.1 681.7v3.8M631.1 681.7v3.8M632.1 681.7v3.8M637.1 681.7v3.8M642.1 681.7v3.8M662.1 681.7v3.8M669.1 681.7v3.8" stroke="#1F78B4" stroke-opacity="0.5" stroke-width="1"/>
<path d="M469.1 681.7v3.8M473.1 681.7v3.8M487.1 681.7v3.8M504.1 681.7v3.8M513.1 681.7v3.8M536.1 681.7v3.8M547.1 681.7v3.8M548.1 681.7v3.8M566.1 681.7v3.8M580.1 681.7v3.8M584.1 681.7v3.8M585.1 681.7v3.8M593.1 681.7v3.8M606.1 681.7v3.8M608.1 681.7v3.8M617.1 681.7v3.8M626.1 681.7v3.8M633.1 681.7v3.8M636.1 681.7v3.8M664.1 681.7v3.8M668.1 681.7v3.8" stroke="#1F78B4" stroke-opacity="0.7" stroke-width="1"/>
<path d="M425.1 681.7v3.8M440.1 681.7v3.8M450.1 681.7v3.8M456.1 681.7v3.8M467.1 681.7v3.8M516.1 681.7v3.8M531.1 681.7v3.8M544.1 681.7v3.8M575.1 681.7v3.8M618.1 681.7v3.8M627.1 681.7v3.8M634.1 681.7v3.8M639.1 681.7v3.8M651.1 681.7v3.8M653.1 681.7v3.8M654.1 681.7v3.8M657.1 681.7v3.8M670.1 681.7v3.8M671.1 681.7v3.8M674.1 681.7v3.8" stroke="#1F78B4" stroke-opacity="0.9" stroke-width="1"/>
<path d="M387.6 598.4l1.4 0.5v-2.4l3 1.2v-1.5l1.8 0.7v-2.3l7.6 3v-2.3l6.6 2.6v-1.1l2.2 0.8v-2.4l5 1.9v-1.7l2.2 0.9v-2.4l4.6 1.8v-2.2l4.8 1.9v-1.5l5 1.9v-1.6l4.6 1.8v-1.6l3.4 1.4v-1.1l4.4 1.7v-1.2l3 1.2v-1.8l6.2 2.4v-2.1l4.2 1.6v-1.7l5.4 2.1v-2.1l2.2 0.8v-1.4l9.8 3.8v-1.9l7 2.7v-0.7l5 2v-1l5.6 2.2v-0.9l5.6 2.2v-1.3l2.4 0.9v-0.8l6 2.3v-1.5l25.4 9.9v-0.8l5.2 2.1v-0.4l1.4 0.6v-0.8l3.2 1.2v-0.2l1 0.4v-0.1l0.4 0.1v-0.3l0.8 0.3v-0.5l2.6 1v-0.1l0.4 0.1v-0.1l0.2 0.1v-0.4l1.4 0.5v-0.1l1 0.4v-0.3l1 0.4v-0.2l0.6 0.3v-0.4l0.8 0.4v-0.1l0.6 0.2v-0.3l1.2 0.5v-0.3l0.8 0.3v-0.2l1 0.4v-0.2l1.2 0.5v-0.3l0.8 0.3v-0.1l0.8 0.3v-0.3l0.6 0.3v-0.1l0.6 0.2v-0.1l0.6 0.2v-0.3l1 0.4v-0.3l1.4 0.6v-0.3l1.2 0.4v-0.2l0.8 0.3v-0.4l3 1.2v-0.2l0.4 0.1v-0.4l3.4 1.3v-0.7l5.8 2.3v-0.9l8.6 3.3v-0.8l3.2 1.2v-1l8.6 3.3v-0.6l7.8 3v-1.5l6 2.4v-1l4.8 1.9v-1.4l3.8 1.5v-1l1.4 0.6v-1.4l1 0.4v-2.1l1.4 0.5v-1.7l2 0.7v-1.9l2.4 0.9v-1.7l2.2 0.9v-1.6l2.4 0.9v-2.1l2.4 0.9v-1.4l2.4 1v-1.5l1.2 0.5v-2.3l2.8 1.1v-2l3.6 1.4v-2.4l2.6 1v-0.8l2.4 0.9v-2.1l2.8 1.1v-1.6l1.2 0.5v-1l2 0.8v-0.6l1.6 0.6v-1.6l1.2 0.4v-1.8l3 1.2v-1.9l2.8 1.1v-2.2l2.4 1v-1.1l0.6 0.3v-0.8l0.2 0.1v-1.6l1 0.4v-2l1.2 0.5v-0.7l0.4 0.1v-1.5l1.2 0.4v-0.6l0.6 0.2v-1l0.2 0.1v-1.4l1 0.4v-0.9l0.6 0.2v-1l0.6 0.2v-1l0.2 0.1v-1.5l0.8 0.3v-1.1l0.2 0.1v-2.6v0.1" stroke="#FB9A99" stroke-width="0.7" fill="none"/>
<path d="M387.6 598.4l10 3.9v-1.9l5.6 2.2v-1.8l15 5.8v-2.6l6.2 2.5v-2.3l8.6 3.4v-2.1l8.2 3.2v-2.2l6.4 2.5v-1.4l3.8 1.5v-1.6l7.6 2.9v-2.1l6.4 2.5v-0.9l3 1.2v-1.3l3.8 1.5v-2.1l8.6 3.4v-1.1l0.6 0.2v-1.2l7 2.8v-1.3l5.2 2v-1l2.4 0.9v-0.7l3.4 1.3v-1.6l9.4 3.6v-1.2l12 4.7v-1.3l6.6 2.6v-0.6l3 1.2v-1l7.2 2.8v-0.6l4.4 1.7v-0.5l3 1.2v-0.5l1 0.4v-0.4l2.4 1v-0.2l0.8 0.3v-0.2l1.6 0.6v-0.2l2 0.8v-0.3l0.8 0.4v-0.3l1.6 0.7v-0.3l0.6 0.2v-0.2l2.2 0.8v-0.1l0.8 0.4v-0.3l1.8 0.7v-0.3l0.6 0.3v-0.4l2.6 1.1v-0.4l1.2 0.5v-0.2l1.8 0.7v-0.4l1.8 0.7v-0.1l0.6 0.2v-0.4l2.2 0.9v-0.6l5.4 2.1v-0.4l4.4 1.7v-0.4l0.4 0.1v-1l5.6 2.2v-0.4l4.6 1.8v-0.8l1.2 0.4v-1.1l8.6 3.3v-1.7l8.6 3.4v-1.8l5.4 2.1v-1.1l3.8 1.4v-0.6l0.8 0.3v-1.7l4.8 1.9v-1.9l6.4 2.6v-1.9l1 0.4v-1.5l1.8 0.7v-1.4l0.6 0.2v-0.8l1 0.4v-1.6l1.8 0.7v-1.3l0.4 0.2v-1.2l3.2 1.3v-0.7l0.2 0.1v-2l2.8 1.1v-1.8l3.4 1.4v-2l4.6 1.8v-1.1l0.8 0.3v-1.3l2 0.7v-2.4l2.2 0.8v-1.4l3 1.1v-1.2l0.2 0v-1.6l1.4 0.6v-2.2l2.2 0.8v-0.8l1.2 0.4v-0.9l0.2 0v-1.3l0.8 0.3v-1.3l1.2 0.5v-1.4l0.8 0.3v-0.8l0.2 0.1v-2.4l1.6 0.6v-2.1l0.6 0.2v-1.2l0.6 0.2v-1.3l0.6 0.2v-1.1l0.4 0.1v-1.9l0.2 0.1v-1.7l0.6 0.3v-0.8l0.2 0v-2.5l0.6 0.3v-1.8l0.2 0v-2.4l0.8 0.4v-1.3l0.2 0.1v-1.5l0.4 0.2v-0.8l0.2 0v-1.4l0.4 0.2v-0.8" stroke="#FDBF6F" stroke-width="0.7" fill="none"/>
<path d="M387.6 598.4l1.4 0.5v-1.4l13 5.1v-1.6l5.8 2.3v-0.8l6.8 2.6v-2.5l11.2 4.4v-1.5l3.4 1.4v-1.5l6.2 2.4v-0.9l1.4 0.5v-2.1l10.8 4.2v-1l1.6 0.6v-2.3l8.2 3.2v-1.1l0.2 0.1v-2.3l9.4 3.7v-0.9l1.6 0.6v-1.1l1.6 0.6v-1.9l10.4 4.1v-2.1l6.2 2.4v-0.7l6 2.4v-1.4l6.8 2.7v-1.3l1.8 0.7v-1.5l11.2 4.4v-1.2l7.8 3v-1.2l7.4 2.8v-1l6 2.3v-0.8l4.6 1.8v-0.8l3.2 1.3v-0.6l3.8 1.5v-0.1l0.2 0v-0.4l2.8 1.1v-0.2l1.4 0.6v-0.3l0.4 0.2v-0.1l0.6 0.2v-0.2l2.6 1v-0.2l0.6 0.3v-0.3l1.8 0.7v-0.3l1.2 0.5v-0.1l0.8 0.3v-0.2l0.8 0.3v-0.3l2.4 1v-0.2l0.2 0.1v-0.3l2.2 0.8v-0.3l2 0.8v-0.4l1.8 0.7v-0.2l3.2 1.2v-0.4l1.6 0.6v-0.4l3.8 1.5v-0.6l3.2 1.2v-0.6l5.6 2.2v-0.7l4.6 1.8v-1.4l5.2 2.1v-1.3l3.8 1.5v-1.7l6 2.4v-1l5.6 2.2v-1.4l2.8 1.1v-1.4l4.2 1.6v-1.8l2.4 1v-2l4.2 1.7v-2l1.4 0.6v-1.1l3 1.2v-1l0.6 0.3v-2.3l2.4 1v-0.7l2.6 1v-1.5l1.4 0.6v-2.3l4.2 1.6v-1.7l2.2 0.9v-0.7l0.4 0.2v-1.9l1.4 0.5v-1.1l1.4 0.5v-1.3l3 1.2v-1.2l0.6 0.2v-2.4l2.8 1.1v-2.4l3 1.2v-1.9l2.6 1v-1l0.2 0.1v-1l1.6 0.6v-0.8l0.6 0.2v-1.5l1 0.4v-2.1l1.6 0.6v-2l2.6 1v-2.1l0.8 0.3v-2.2l2.4 0.9v-2l1.2 0.5v-0.8l1 0.4v-0.8l0.4 0.1v-2l0.4 0.2v-2.2l1.6 0.7v-1.1l0.2 0v-1.7l0.6 0.3v-1.8l0.6 0.3v-0.7l0.2 0.1v-1l0.4 0.2v-1.7l0.8 0.3v-1.9l0.8 0.4v-1.9l0.6 0.3" stroke="#1F78B4" stroke-width="0.7" fill="none"/>
<path d="M387.6 598.4l2.8 1.1v-1.2l6.4 2.5v-1.7l7.6 3v-1l2.8 1.1v-1.4l5.8 2.3v-1.9l2.8 1.1v-1.9l10 3.9v-0.8l0.2 0.1v-1.9l7.4 2.9v-2.3l11.8 4.6v-1.7l3.4 1.4v-1.4l2 0.8v-2.2l3.6 1.5v-1.8l2.6 1v-1.6l2.8 1.1v-2.1l4.4 1.8v-2.4l6.6 2.6v-1.7l5.8 2.3v-0.6l0.2 0v-1.3l19.2 7.5v-1.6l9.6 3.8v-0.9l4.4 1.7v-0.5l25.6 10v-0.9l3.2 1.3v-0.8l2.6 1v-0.6l3.4 1.3v-0.4l1.2 0.4v-0.2l1.2 0.5v-0.3l0.6 0.2v-0.1l0.6 0.2v-0.3l1.2 0.5v-0.1l1 0.4v-0.3l0.6 0.2v-0.1l0.6 0.2v-0.2l0.8 0.4v-0.2l0.4 0.2v-0.1l0.2 0.1v-0.1l0.6 0.2v-0.3l1 0.4v-0.2l0.8 0.4v-0.2l1 0.3v-0.2l0.8 0.3v-0.3l1 0.4v-0.3l1.6 0.6v-0.1l0.4 0.2v-0.3l1.4 0.5v-0.2l0.8 0.3v-0.2l0.6 0.2v-0.2l0.8 0.4v-0.4l1.8 0.7v-0.3l2 0.8v-0.2l0.2 0.1v-0.5l3 1.1v-0.3l1.8 0.7v-0.2l1.2 0.4v-0.4l6.6 2.6v-1.1l5.8 2.3v-0.6l8.2 3.2v-1.5l5.8 2.3v-1.3l3.8 1.5v-1.1l2.6 1v-1.9l9.6 3.8v-1.3l1.8 0.7v-0.9l3.8 1.5v-1.2l0.6 0.3v-1.9l4 1.6v-1.4l1 0.4v-2.1l3.4 1.3v-1.6l1.8 0.7v-1.3l1.6 0.6v-1.7l4 1.5v-2.1l1.8 0.7v-0.9l1.4 0.5v-2.3l4 1.6v-2.4l2.4 1v-1.5l0.4 0.2v-1l2.6 1.1v-1.8l0.6 0.3v-1.9l2.2 0.8v-1l0.8 0.3v-1.9l3 1.2v-2.2l1.8 0.7v-2l1.6 0.7v-0.7l1.4 0.5v-1.5l1.2 0.4v-1.5l1.2 0.5v-1.6l1 0.4v-1.4l0.8 0.3v-2.1l1.8 0.7v-0.6l0.4 0.1v-1.8l1.2 0.4v-2.3l1.4 0.5v-1.9l0.4 0.2v-2.1l0.6 0.2v-1.6l1.2 0.5v-2.2l0.8 0.3v-2.4l0.6 0.2v-2.5l1.2 0.5v-0.7v0.1" stroke="#E31A1C" stroke-width="0.7" fill="none"/>
<path d="M387.6 598.4l0.2 0.1v-0.5l1.6 0.6v-1.4l2.4 0.9v-1.7l2.4 1v-1.8l2.4 1v-1.7l2.4 1v-1.3l1.4 0.5v-1.3l1.2 0.5v-1.5l2.6 1v-1.2l2.4 0.9v-1.1l0.4 0.2v-1.1l2 0.8v-1.5l1.8 0.7v-0.6l1.2 0.4v-1.3l1 0.4v-1.2l2.2 0.8v-0.6l0.2 0v-1l1.4 0.5v-1.7l2.2 0.9v-0.5l1 0.4v-0.8l0.2 0.1v-1.6l3.2 1.3v-0.9l0.4 0.2v-0.7l1.2 0.5v-1l0.8 0.3v-0.6l1.2 0.5v-0.7l1.2 0.5v-1.7l2.2 0.9v-1.4l1.8 0.7v-0.5l0.2 0v-1.6l2.2 0.8v-0.5l1 0.4v-1.1l1.4 0.5v-1.3l1.8 0.7v-0.7l1.4 0.5v-1l0.8 0.3v-0.6l0.4 0.1v-0.6l2 0.8v-1.2l0.8 0.3v-0.6l0.4 0.2v-1.6l2.6 1v-0.9l2.6 1v-1.3l0.8 0.3v-1.4l2.4 1v-1.1l1.8 0.7v-1.3l2.2 0.9v-0.7l2.6 1.1v-1l0.6 0.3v-0.8l1.6 0.6v-0.6l0.8 0.3v-1.3l3 1.2v-1.1l1.8 0.7v-1.2l1.2 0.5v-1.3l3.2 1.2v-0.7l0.2 0.1v-1.4l3 1.1v-0.5l0.2 0.1v-1.5l2.6 1.1v-1.3l2 0.8v-1.3l1.4 0.6v-1l1 0.4v-1.2l2.6 1v-1l1.4 0.5v-0.7l1.4 0.5v-0.9l0.8 0.3v-0.8l1 0.4v-0.9l2.6 1v-0.6l0.2 0.1v-0.7l0.8 0.4v-0.8l1.6 0.6v-0.5l0.2 0.1v-0.4l0.8 0.3v-0.5l0.4 0.2v-0.5l0.8 0.3v-0.7l1.4 0.5v-0.8l2.2 0.8v-0.4l0.2 0v-1l3.8 1.5v-0.5l0.2 0.1v-0.7l3 1.1v-0.6l1.4 0.6v-1l32.6 12.7v-0.1l0.2 0.1v-0.3l1.4 0.6v-0.4l1.4 0.5v-0.1l0.4 0.2v-0.3l0.8 0.3v-0.1l1 0.4v-0.2l0.6 0.2v-0.2l0.8 0.3v-0.2l0.6 0.2v-0.1l0.8 0.3v-0.1l0.2 0.1v-0.2l0.6 0.3v-0.1l0.4 0.1l0.2 0v-0.1l0.2 0.1v-0.1l0.6 0.2v-0.1l0.4 0.1v-0.1l0.8 0.3v-0.2l0.8 0.3v-0.1l0.6 0.2v-0.1l0.2 0.1v-0.2l0.8 0.4v-0.2l0.6 0.2v-0.2l0.8 0.4v-0.1l0.2 0.1v-0.2l0.6 0.2v-0.1l0.8 0.3v-0.2l0.4 0.2v-0.2l0.6 0.2v-0.1l0.6 0.2v-0.1l0.6 0.2v-0.1l0.6 0.2v-0.1l0.6 0.2v-0.1l0.4 0.2v-0.2l0.6 0.2v-0.2l1 0.4v-0.1l0.4 0.2v-0.2l0.4 0.1v-0.1l0.8 0.3v-0.2l1.6 0.6v-0.3l0.8 0.3v-0.3l2.4 0.9v-0.1l0.2 0.1v-0.3l1 0.4v-0.1l1.4 0.5v-0.1l0.2 0v-0.5l1.8 0.7v-0.4l3 1.2v-0.5l2.8 1.1v-0.4l2.8 1.1v-0.7l3 1.2v-0.6l5.2 2.1v-0.9l3.2 1.2v-0.2l1.4 0.5v-1l8 3.1v-0.4l2.4 0.9v-0.5l1.2 0.5v-1l6.8 2.6v-1l1.6 0.6v-0.4l3.4 1.4v-1l5 1.9v-0.5l0.2 0.1v-1.4l4.6 1.8v-1l4.8 1.9v-0.9l4.8 1.9v-0.5l2.4 1v-0.6l0.2 0.1v-1.3l5.6 2.2v-1.4l4.4 1.7v-1.1l4.4 1.7v-1.5l3.4 1.3v-1.1l4.4 1.7v-1.2l5.4 2.1v-1.4l6.8 2.7v-1.4v0.1" stroke="#CAB2D6" stroke-width="0.7" fill="none"/>
<path d="M387.6 598.4l1 0.4v-1.4l0.6 0.2v-1.8l2.6 1v-1.1l0.2 0.1v-0.9l1.8 0.7v-1.3l1.2 0.4v-1.7l1.6 0.6v-0.8l0.4 0.2v-1.6l1.8 0.7v-1.3l1.2 0.5v-1.6l1.6 0.7v-1.1l1.6 0.7v-1.1l0.6 0.2v-1.5l1.8 0.7v-1.7l2.4 0.9v-0.5l0.6 0.2v-1.7l1.4 0.6v-1.4l2 0.7v-1.4l1 0.4v-1.1l1.8 0.7v-1l0.2 0v-0.5l1.2 0.5v-1.8l1 0.4v-1.6l1.4 0.6v-1.5l1.6 0.6v-1.1l0.6 0.3v-1.6l1.6 0.6v-1.4l0.8 0.4v-1.5l1.8 0.7v-0.5l0.2 0.1v-0.7l0.6 0.3v-1l0.8 0.3v-0.9l0.6 0.2v-0.9l1.2 0.5v-0.5l0.4 0.2v-1.5l1.4 0.5v-1.6l1.4 0.5v-0.9l0.6 0.3v-0.9l1.2 0.4v-1.6l1.4 0.5v-0.4l0.2 0v-1.1l2.4 0.9v-1.3l0.4 0.2v-0.9l1 0.4v-0.6l2.2 0.9v-0.9l1.2 0.5v-0.7l0.6 0.3v-0.6l1.6 0.7v-0.5l0.2 0.1v-0.6l1.4 0.5v-0.4l0.4 0.1v-1.5l2.4 0.9v-1.1l1.4 0.6v-0.7l2.6 1.1v-1.4l1.4 0.5v-1.3l3 1.2v-1.3l1.6 0.7v-1.2l3.2 1.2v-0.6l1.4 0.5v-1.1l1.2 0.5v-0.6l0.4 0.2v-0.9l2.6 1.1v-0.7l1.4 0.6v-1.4l2.4 0.9v-0.7l1.2 0.5v-0.4l1.6 0.6v-1.2l2.4 0.9v-1.4l6.2 2.4v-1.3l3.2 1.2v-1.2l4.8 1.9v-0.6l0.6 0.3v-1l1.8 0.7v-0.8l3.4 1.3v-0.4l0.8 0.3v-0.8l1.2 0.5v-1l3.6 1.4v-0.7l1.6 0.6v-1l2.8 1.1v-0.6l1 0.4v-0.7l1.2 0.4v-1l2.2 0.9v-0.3l1.8 0.7v-0.7l1.4 0.5v-0.6l20.8 8.2v-0.6l3.2 1.3v-0.2l0.2 0.1v-0.2l1.8 0.7v-0.3l1.8 0.7v-0.2l0.6 0.2v-0.2l0.4 0.2v-0.2l1.6 0.6v-0.1l0.2 0.1v-0.2l1.2 0.4v-0.1l1 0.4v-0.2l0.6 0.3v-0.2l0.4 0.2v-0.2l1.2 0.5v-0.2l0.4 0.2v-0.1l1 0.4v-0.1l0.4 0.2v-0.1l0.4 0.1v-0.1l0.2 0.1v-0.2l1 0.4v-0.1l1 0.4v-0.2l0.8 0.3v-0.2l0.6 0.3v-0.2l0.8 0.4v-0.2l0.4 0.2v-0.2l1 0.4v-0.2l1 0.4v-0.2l1.6 0.6v-0.2l0.4 0.2v-0.1l0.4 0.2v-0.1l0.6 0.2v-0.1l0.8 0.3v-0.1l0.2 0.1v-0.1l0.8 0.3v-0.1l1 0.4v-0.2l0.6 0.3v-0.2l0.8 0.3v-0.1l0.8 0.3v-0.1l1.8 0.7v-0.3l2 0.8v-0.3l2.2 0.9v-0.4l4.6 1.8v-0.2l0.2 0.1v-0.5l3.2 1.2v-0.3l7.2 2.8v-0.8l13.6 5.3v-1l10.4 4.1v-0.8l7.6 3v-0.6l1 0.4v-1.1l9.2 3.6v-1.5l6 2.4v-1.4l4.4 1.7v-0.4l1.6 0.6v-1.5l4.2 1.6v-1l5.4 2.1v-1.3l2.2 0.9v-0.8l4.2 1.7v-1.5l3.2 1.2v-1.6l6.4 2.5v-1.6l6.2 2.4v-1.5l3 1.2" stroke="#A6CEE3" stroke-width="0.7" fill="none"/>
<path d="M387.6 598.4l1 0.4v-4.4l2.8 1.1v-4l2.2 0.9v-5.2l4.6 1.8v-3.3l1 0.4v-4.8l5.6 2.2v-5.3l11.4 4.5v-4.2l3.4 1.3v-6.6l5.4 2.1v-5.5l3.4 1.3v-7.3l1.2 0.5v-4.4l1.8 0.7v-7.6l2.2 0.8v-2.4l0.8 0.4v-7.5l13.6 5.3v-2.9l4.2 1.7v-6.2l11.2 4.4v-3.2l2.4 0.9v-6.3l11.2 4.4v-5.6l36 14.1v-2.5l6.8 2.6v-3.7l15.6 6.1v-2.8l13.8 5.4v-0.9l4.2 1.6v-0.6l3.4 1.3v-0.4l4.2 1.6v-0.9l4.6 1.8v-0.8l4.6 1.8v-0.8l8.4 3.3v-1.7l97.4 38.2" stroke="#B2DF8A" stroke-width="0.7" fill="none"/>
<path d="M387.6 598.4l2.8 1.1v-3.1l4.2 1.7v-4.5l1 0.4v-2.4l2.4 0.9v-2.7l1.8 0.7v-2.9l1.4 0.6v-6.8l3.2 1.2v-3.9l5.2 2v-3.4l2.8 1.1v-5.1l4.2 1.7v-3l2.8 1.1v-5.9l2.4 0.9v-4.3l0.2 0.1v-5.7l25.2 9.9v-5.7l8.4 3.3v-5.6l3.6 1.4v-2.5l5.8 2.3v-3.6l3 1.2v-3.8l2.6 1v-2.7l0.4 0.1v-3.8l0.4 0.2v-4.9l12.8 5v-4.6l23.2 9.1v-2.4l31 12.1v-1.2l20.4 8v-0.7l14 5.5v-1.5l17.2 6.7v-1.5l16.2 6.3v-2.7l32.8 12.8v-3l1.8 0.7v-4.8l32.4 12.7v-6.4l2.8 1.1" stroke="#FF7F00" stroke-width="0.7" fill="none"/>
<path d="M387.6 598.4l1.4 0.5v-3.3l1.4 0.5v-2.9l0.2 0.1v-5.3l5.6 2.2v-4.5l1.2 0.5v-2.5l1 0.4v-6.9l2.4 1v-2.6l0.8 0.4v-6.4l10.6 4.1v-7.5l5.8 2.2v-6.8l3.6 1.5v-5l28.8 11.2v-6.1l5.8 2.3v-5.3l6 2.3v-6.2l6.6 2.6v-4.7l2 0.8v-5l0.4 0.1v-5.9l2.2 0.8v-5.5l15 5.9v-3.2l34.2 13.4v-2.2l4.2 1.6v-3.4l46.8 18.3v-1.7l10.4 4.1v-1.8l42.8 16.8v-2.8l13.2 5.2v-3.3l36 14.1" stroke="#6A3D9A" stroke-width="0.7" fill="none"/>
<path d="M387.6 598.4l0.6 0.2v-7.7l5.4 2.1v-5.9l2.6 1v-3l0.2 0.1v-3.3l0.4 0.1v-6.5l1.2 0.5v-4.4l3.8 1.5v-6.3l9.6 3.8v-5.4l1 0.4v-7l11.8 4.7v-3l5.2 2.1v-6.7l9.4 3.6v-3.9l3.4 1.3v-6.8l7.4 2.9v-6.9l11.6 4.5v-5.7l2 0.8v-5.9l23.4 9.1v-1.7l0.2 0.1v-1.7l2.4 1v-3.4l6.2 2.5v-2.6l7 2.7v-3.8l26.4 10.3v-2l6.4 2.5v-1.2l4 1.5v-1.8l10 3.9v-0.5l2.4 0.9v-0.4l0.4 0.2v-0.5l5.6 2.2v-0.3l0.2 0.1v-0.6l2.6 1v-0.8l13.2 5.2v-2.5l44.8 17.5v-3.4l57.6 22.7" stroke="#33A02C" stroke-width="0.7" fill="none"/>
<line x1="528.2" y1="537" x2="532.4" y2="537" stroke="#A6CEE3" stroke-width="1.2" stroke-opacity="0.75"/>
<text x="534.6" y="539" font-size="8.5">Alcoholism</text>
<line x1="528.2" y1="544.5" x2="532.4" y2="544.5" stroke="#1F78B4" stroke-width="1.2" stroke-opacity="0.75"/>
<text x="534.6" y="546.5" font-size="8.5">Autophagy − animal</text>
<line x1="528.2" y1="552" x2="532.4" y2="552" stroke="#B2DF8A" stroke-width="1.2" stroke-opacity="0.75"/>
<text x="534.6" y="554" font-size="8.5">Biosynthesis of nucleotide sugars</text>
<line x1="528.2" y1="559.4" x2="532.4" y2="559.4" stroke="#33A02C" stroke-width="1.2" stroke-opacity="0.75"/>
<text x="534.6" y="561.4" font-size="8.5">DNA replication</text>
<line x1="528.2" y1="566.9" x2="532.4" y2="566.9" stroke="#FB9A99" stroke-width="1.2" stroke-opacity="0.75"/>
<text x="534.6" y="568.9" font-size="8.5">FoxO signaling pathway</text>
<line x1="528.2" y1="574.4" x2="532.4" y2="574.4" stroke="#E31A1C" stroke-width="1.2" stroke-opacity="0.75"/>
<text x="534.6" y="576.4" font-size="8.5">Lysosome</text>
<line x1="528.2" y1="581.9" x2="532.4" y2="581.9" stroke="#FDBF6F" stroke-width="1.2" stroke-opacity="0.75"/>
<text x="534.6" y="583.9" font-size="8.5">Mitophagy − animal</text>
<line x1="528.2" y1="589.4" x2="532.4" y2="589.4" stroke="#FF7F00" stroke-width="1.2" stroke-opacity="0.75"/>
<text x="534.6" y="591.4" font-size="8.5">Nucleotide metabolism</text>
<line x1="528.2" y1="596.8" x2="532.4" y2="596.8" stroke="#CAB2D6" stroke-width="1.2" stroke-opacity="0.75"/>
<text x="534.6" y="598.8" font-size="8.5">Prion disease</text>
<line x1="528.2" y1="604.3" x2="532.4" y2="604.3" stroke="#6A3D9A" stroke-width="1.2" stroke-opacity="0.75"/>
<text x="534.6" y="606.3" font-size="8.5">Pyrimidine metabolism</text>
<text x="336.2" y="12.6" font-size="16" font-weight="bold">(B)</text>
<line x1="520.6" y1="27.2" x2="520.6" y2="225" stroke="#EFEFEF" stroke-width="0.9"/>
<line x1="568.6" y1="27.2" x2="568.6" y2="225" stroke="#EFEFEF" stroke-width="0.9"/>
<line x1="616.6" y1="27.2" x2="616.6" y2="225" stroke="#EFEFEF" stroke-width="0.9"/>
<line x1="544.6" y1="27.2" x2="544.6" y2="225" stroke="#ECECEC" stroke-width="0.9"/>
<line x1="592.6" y1="27.2" x2="592.6" y2="225" stroke="#ECECEC" stroke-width="0.9"/>
<line x1="640.6" y1="27.2" x2="640.6" y2="225" stroke="#ECECEC" stroke-width="0.9"/>
<line x1="511.6" y1="39" x2="646.6" y2="39" stroke="#EDEDED" stroke-width="0.9"/>
<line x1="509.3" y1="39" x2="511.6" y2="39" stroke="#333" stroke-width="0.6"/>
<text x="507.1" y="38.5" font-size="8.2" text-anchor="end" fill="#1A1A1A">Biosynthesis of nucleotide</text>
<text x="507.1" y="46.7" font-size="8.2" text-anchor="end" fill="#1A1A1A">sugars</text>
<line x1="511.6" y1="58.4" x2="646.6" y2="58.4" stroke="#EDEDED" stroke-width="0.9"/>
<line x1="509.3" y1="58.4" x2="511.6" y2="58.4" stroke="#333" stroke-width="0.6"/>
<text x="507.1" y="60.8" font-size="8.2" text-anchor="end" fill="#1A1A1A">Nucleotide metabolism</text>
<line x1="511.6" y1="77.8" x2="646.6" y2="77.8" stroke="#EDEDED" stroke-width="0.9"/>
<line x1="509.3" y1="77.8" x2="511.6" y2="77.8" stroke="#333" stroke-width="0.6"/>
<text x="507.1" y="80.2" font-size="8.2" text-anchor="end" fill="#1A1A1A">Pyrimidine metabolism</text>
<line x1="511.6" y1="97.2" x2="646.6" y2="97.2" stroke="#EDEDED" stroke-width="0.9"/>
<line x1="509.3" y1="97.2" x2="511.6" y2="97.2" stroke="#333" stroke-width="0.6"/>
<text x="507.1" y="99.6" font-size="8.2" text-anchor="end" fill="#1A1A1A">Ferroptosis</text>
<line x1="511.6" y1="116.6" x2="646.6" y2="116.6" stroke="#EDEDED" stroke-width="0.9"/>
<line x1="509.3" y1="116.6" x2="511.6" y2="116.6" stroke="#333" stroke-width="0.6"/>
<text x="507.1" y="119" font-size="8.2" text-anchor="end" fill="#1A1A1A">Alcoholism</text>
<line x1="511.6" y1="136.1" x2="646.6" y2="136.1" stroke="#EDEDED" stroke-width="0.9"/>
<line x1="509.3" y1="136.1" x2="511.6" y2="136.1" stroke="#333" stroke-width="0.6"/>
<text x="507.1" y="138.5" font-size="8.2" text-anchor="end" fill="#1A1A1A">Autophagy − animal</text>
<line x1="511.6" y1="155.5" x2="646.6" y2="155.5" stroke="#EDEDED" stroke-width="0.9"/>
<line x1="509.3" y1="155.5" x2="511.6" y2="155.5" stroke="#333" stroke-width="0.6"/>
<text x="507.1" y="157.9" font-size="8.2" text-anchor="end" fill="#1A1A1A">Prion disease</text>
<line x1="511.6" y1="174.9" x2="646.6" y2="174.9" stroke="#EDEDED" stroke-width="0.9"/>
<line x1="509.3" y1="174.9" x2="511.6" y2="174.9" stroke="#333" stroke-width="0.6"/>
<text x="507.1" y="177.3" font-size="8.2" text-anchor="end" fill="#1A1A1A">Mitophagy − animal</text>
<line x1="511.6" y1="194.3" x2="646.6" y2="194.3" stroke="#EDEDED" stroke-width="0.9"/>
<line x1="509.3" y1="194.3" x2="511.6" y2="194.3" stroke="#333" stroke-width="0.6"/>
<text x="507.1" y="196.7" font-size="8.2" text-anchor="end" fill="#1A1A1A">Focal adhesion</text>
<line x1="511.6" y1="213.7" x2="646.6" y2="213.7" stroke="#EDEDED" stroke-width="0.9"/>
<line x1="509.3" y1="213.7" x2="511.6" y2="213.7" stroke="#333" stroke-width="0.6"/>
<text x="507.1" y="216.1" font-size="8.2" text-anchor="end" fill="#1A1A1A">Lysosome</text>
<circle cx="640.2" cy="39" r="1.67" fill="#C8008A"/>
<circle cx="626.5" cy="58.4" r="2.8" fill="#FF0010"/>
<circle cx="624.1" cy="77.8" r="2.2" fill="#F0003A"/>
<circle cx="589.6" cy="97.2" r="1.84" fill="#8A00D0"/>
<circle cx="580.3" cy="116.6" r="3.06" fill="#9000D0"/>
<circle cx="572.8" cy="136.1" r="3.15" fill="#FF0008"/>
<circle cx="561.6" cy="155.5" r="3.5" fill="#E8004A"/>
<circle cx="547.8" cy="174.9" r="2.27" fill="#DA0060"/>
<circle cx="547.2" cy="194.3" r="3.35" fill="#0000FF"/>
<circle cx="517.8" cy="213.7" r="2.8" fill="#FF0000"/>
<rect x="511.6" y="27.2" width="135" height="197.8" fill="none" stroke="#8A8A8A" stroke-width="0.9"/>
<line x1="544.6" y1="225" x2="544.6" y2="227.3" stroke="#333" stroke-width="0.6"/>
<text x="544.6" y="234" font-size="8.2" text-anchor="middle" fill="#3A3A3A" class="t">0.5</text>
<line x1="592.6" y1="225" x2="592.6" y2="227.3" stroke="#333" stroke-width="0.6"/>
<text x="592.6" y="234" font-size="8.2" text-anchor="middle" fill="#3A3A3A" class="t">0.6</text>
<line x1="640.6" y1="225" x2="640.6" y2="227.3" stroke="#333" stroke-width="0.6"/>
<text x="640.6" y="234" font-size="8.2" text-anchor="middle" fill="#3A3A3A" class="t">0.7</text>
<text x="583.6" y="243.6" font-size="8.3" text-anchor="middle">GeneRatio</text>
<text x="652.7" y="88" font-size="8.2">Count</text>
<circle cx="656.9" cy="93.7" r="2.67" fill="#000"/>
<text x="663.1" y="95" font-size="7.8">40</text>
<circle cx="656.9" cy="100.8" r="2.96" fill="#000"/>
<text x="663.1" y="102.1" font-size="7.8">60</text>
<circle cx="656.9" cy="107.9" r="3.26" fill="#000"/>
<text x="663.1" y="109.2" font-size="7.8">80</text>
<circle cx="656.9" cy="115.9" r="3.6" fill="#000"/>
<text x="663.1" y="117.2" font-size="7.8">100</text>
<text x="652.7" y="132" font-size="8.2">p.adjust</text>
<defs><linearGradient id="pg" x1="0" y1="0" x2="0" y2="1"><stop offset="0" stop-color="#3A10FF"/><stop offset="0.1" stop-color="#6800E7"/><stop offset="0.2" stop-color="#8D00CE"/><stop offset="0.3" stop-color="#A600B7"/><stop offset="0.4" stop-color="#BA009F"/><stop offset="0.5" stop-color="#CA0088"/><stop offset="0.6" stop-color="#D70072"/><stop offset="0.7" stop-color="#E3005B"/><stop offset="0.8" stop-color="#ED0044"/><stop offset="0.9" stop-color="#F6002A"/><stop offset="1" stop-color="#FF0010"/></linearGradient></defs>
<rect x="652.7" y="135.1" width="6.3" height="32.7" fill="url(#pg)"/>
<text x="661.5" y="139.7" font-size="8.0">4e−04</text>
<text x="661.5" y="146.8" font-size="8.0">3e−04</text>
<text x="661.5" y="153.9" font-size="8.0">2e−04</text>
<text x="661.5" y="161.6" font-size="8.0">1e−04</text>
</svg>
</body></html>
